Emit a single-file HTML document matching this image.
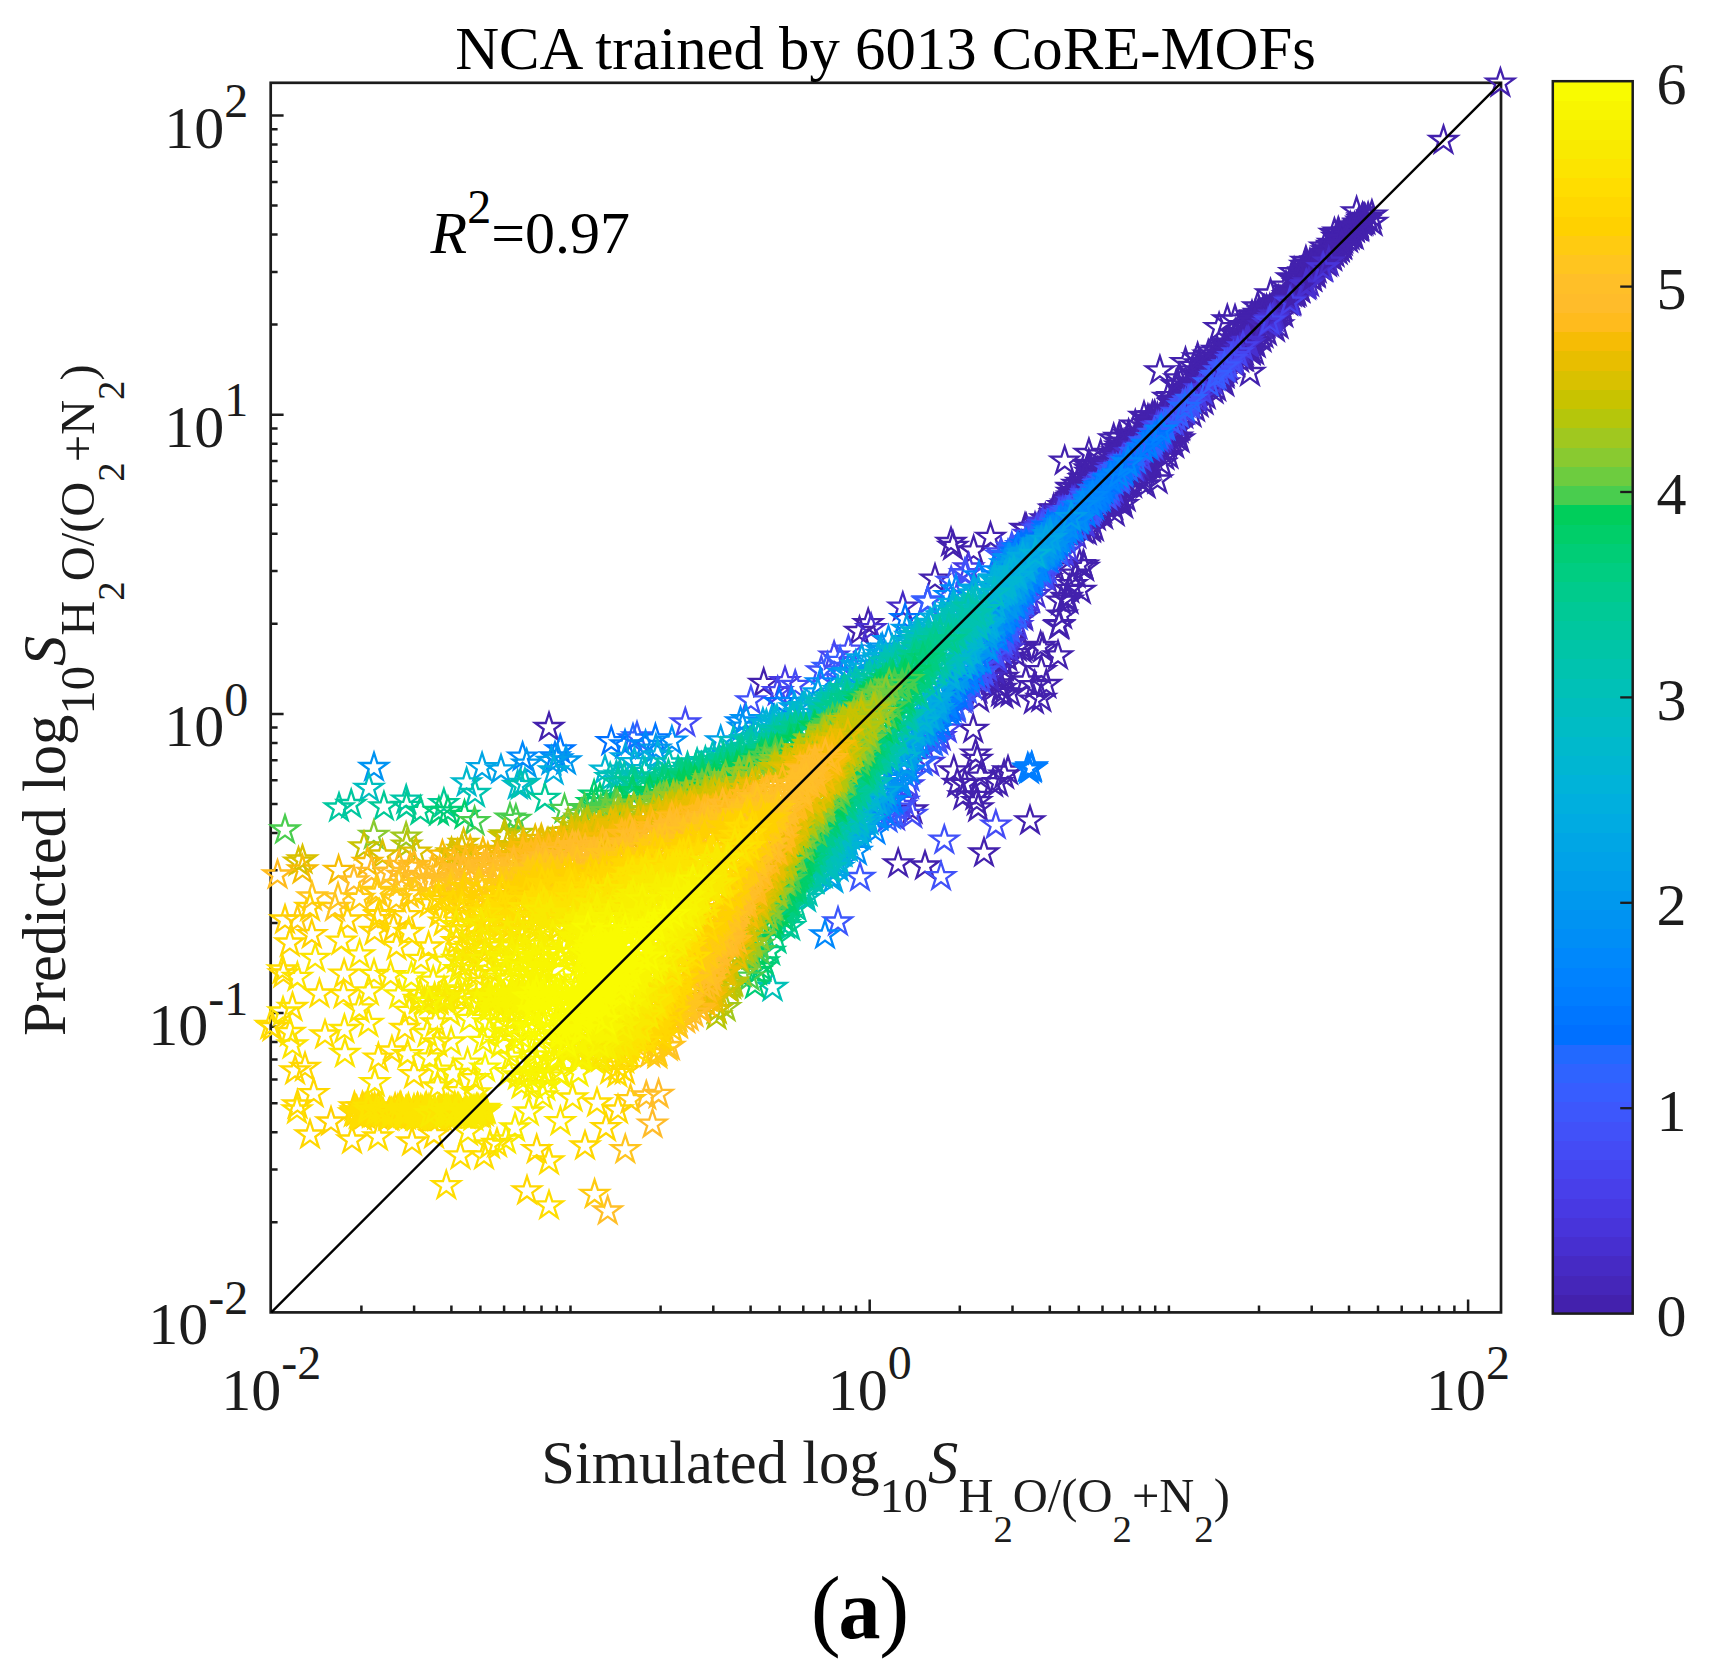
<!DOCTYPE html>
<html lang="en"><head><meta charset="utf-8"><title>NCA trained by 6013 CoRE-MOFs</title>
<style>html,body{margin:0;padding:0;background:#fff}body{width:1710px;height:1679px;overflow:hidden}svg{display:block}text{font-family:'Liberation Serif','Times New Roman',Times,serif;}</style>
</head><body>
<svg width="1710" height="1679" viewBox="0 0 1710 1679">
<rect width="1710" height="1679" fill="#fff"/>
<defs><polygon id="s" points="0.00,-14.60 3.28,-4.51 13.89,-4.51 5.30,1.72 8.58,11.81 0.00,5.58 -8.58,11.81 -5.30,1.72 -13.89,-4.51 -3.28,-4.51"/></defs>
<g shape-rendering="crispEdges">
<rect x="1552.8" y="1294.34" width="79.9" height="19.86" fill="#4321ad"/>
<rect x="1552.8" y="1275.09" width="79.9" height="19.86" fill="#4526b9"/>
<rect x="1552.8" y="1255.83" width="79.9" height="19.86" fill="#462ac4"/>
<rect x="1552.8" y="1236.57" width="79.9" height="19.86" fill="#472fd0"/>
<rect x="1552.8" y="1217.32" width="79.9" height="19.86" fill="#4834da"/>
<rect x="1552.8" y="1198.06" width="79.9" height="19.86" fill="#4839e3"/>
<rect x="1552.8" y="1178.81" width="79.9" height="19.86" fill="#483fea"/>
<rect x="1552.8" y="1159.55" width="79.9" height="19.86" fill="#4645f0"/>
<rect x="1552.8" y="1140.29" width="79.9" height="19.86" fill="#444bf5"/>
<rect x="1552.8" y="1121.04" width="79.9" height="19.86" fill="#4151f9"/>
<rect x="1552.8" y="1101.78" width="79.9" height="19.86" fill="#3d57fc"/>
<rect x="1552.8" y="1082.52" width="79.9" height="19.86" fill="#375dff"/>
<rect x="1552.8" y="1063.27" width="79.9" height="19.86" fill="#2f63ff"/>
<rect x="1552.8" y="1044.01" width="79.9" height="19.86" fill="#2269ff"/>
<rect x="1552.8" y="1024.76" width="79.9" height="19.86" fill="#0070ff"/>
<rect x="1552.8" y="1005.50" width="79.9" height="19.86" fill="#0076ff"/>
<rect x="1552.8" y="986.24" width="79.9" height="19.86" fill="#007dff"/>
<rect x="1552.8" y="966.99" width="79.9" height="19.86" fill="#0082fe"/>
<rect x="1552.8" y="947.73" width="79.9" height="19.86" fill="#0088fb"/>
<rect x="1552.8" y="928.47" width="79.9" height="19.86" fill="#008ef6"/>
<rect x="1552.8" y="909.22" width="79.9" height="19.86" fill="#0093f2"/>
<rect x="1552.8" y="889.96" width="79.9" height="19.86" fill="#0098ee"/>
<rect x="1552.8" y="870.71" width="79.9" height="19.86" fill="#009deb"/>
<rect x="1552.8" y="851.45" width="79.9" height="19.86" fill="#00a2e8"/>
<rect x="1552.8" y="832.19" width="79.9" height="19.86" fill="#00a6e5"/>
<rect x="1552.8" y="812.94" width="79.9" height="19.86" fill="#00abe2"/>
<rect x="1552.8" y="793.68" width="79.9" height="19.86" fill="#00afde"/>
<rect x="1552.8" y="774.42" width="79.9" height="19.86" fill="#00b3d9"/>
<rect x="1552.8" y="755.17" width="79.9" height="19.86" fill="#00b6d2"/>
<rect x="1552.8" y="735.91" width="79.9" height="19.86" fill="#00b9cc"/>
<rect x="1552.8" y="716.66" width="79.9" height="19.86" fill="#00bcc5"/>
<rect x="1552.8" y="697.40" width="79.9" height="19.86" fill="#00bebe"/>
<rect x="1552.8" y="678.14" width="79.9" height="19.86" fill="#00c1b7"/>
<rect x="1552.8" y="658.89" width="79.9" height="19.86" fill="#00c3af"/>
<rect x="1552.8" y="639.63" width="79.9" height="19.86" fill="#00c5a7"/>
<rect x="1552.8" y="620.38" width="79.9" height="19.86" fill="#00c79f"/>
<rect x="1552.8" y="601.12" width="79.9" height="19.86" fill="#00c996"/>
<rect x="1552.8" y="581.86" width="79.9" height="19.86" fill="#00cb8c"/>
<rect x="1552.8" y="562.61" width="79.9" height="19.86" fill="#00cd81"/>
<rect x="1552.8" y="543.35" width="79.9" height="19.86" fill="#00cd76"/>
<rect x="1552.8" y="524.09" width="79.9" height="19.86" fill="#00ce69"/>
<rect x="1552.8" y="504.84" width="79.9" height="19.86" fill="#00ce5b"/>
<rect x="1552.8" y="485.58" width="79.9" height="19.86" fill="#49cd4e"/>
<rect x="1552.8" y="466.33" width="79.9" height="19.86" fill="#6dcc3f"/>
<rect x="1552.8" y="447.07" width="79.9" height="19.86" fill="#89ca30"/>
<rect x="1552.8" y="427.81" width="79.9" height="19.86" fill="#a0c81f"/>
<rect x="1552.8" y="408.56" width="79.9" height="19.86" fill="#b5c60b"/>
<rect x="1552.8" y="389.30" width="79.9" height="19.86" fill="#c8c300"/>
<rect x="1552.8" y="370.04" width="79.9" height="19.86" fill="#d9c100"/>
<rect x="1552.8" y="350.79" width="79.9" height="19.86" fill="#e8be00"/>
<rect x="1552.8" y="331.53" width="79.9" height="19.86" fill="#f6bc05"/>
<rect x="1552.8" y="312.27" width="79.9" height="19.86" fill="#ffbb1d"/>
<rect x="1552.8" y="293.02" width="79.9" height="19.86" fill="#ffbc2a"/>
<rect x="1552.8" y="273.76" width="79.9" height="19.86" fill="#ffbf28"/>
<rect x="1552.8" y="254.51" width="79.9" height="19.86" fill="#ffc51f"/>
<rect x="1552.8" y="235.25" width="79.9" height="19.86" fill="#ffcb11"/>
<rect x="1552.8" y="215.99" width="79.9" height="19.86" fill="#ffd100"/>
<rect x="1552.8" y="196.74" width="79.9" height="19.86" fill="#ffd700"/>
<rect x="1552.8" y="177.48" width="79.9" height="19.86" fill="#ffdd00"/>
<rect x="1552.8" y="158.23" width="79.9" height="19.86" fill="#fce400"/>
<rect x="1552.8" y="138.97" width="79.9" height="19.86" fill="#f9ea00"/>
<rect x="1552.8" y="119.71" width="79.9" height="19.86" fill="#f8f000"/>
<rect x="1552.8" y="100.46" width="79.9" height="19.86" fill="#f8f500"/>
<rect x="1552.8" y="81.20" width="79.9" height="19.86" fill="#f9fb00"/>
</g>
<rect x="1552.8" y="81.2" width="79.9" height="1232.4" fill="none" stroke="#1c1c1c" stroke-width="2.5"/>
<text x="1656.5" y="1335.9" font-size="60" fill="#1c1c1c">0</text>
<line x1="1620.2" y1="1108.2" x2="1632.7" y2="1108.2" stroke="#1c1c1c" stroke-width="2.3"/>
<text x="1656.5" y="1130.5" font-size="60" fill="#1c1c1c">1</text>
<line x1="1620.2" y1="902.8" x2="1632.7" y2="902.8" stroke="#1c1c1c" stroke-width="2.3"/>
<text x="1656.5" y="925.1" font-size="60" fill="#1c1c1c">2</text>
<line x1="1620.2" y1="697.4" x2="1632.7" y2="697.4" stroke="#1c1c1c" stroke-width="2.3"/>
<text x="1656.5" y="719.7" font-size="60" fill="#1c1c1c">3</text>
<line x1="1620.2" y1="492.0" x2="1632.7" y2="492.0" stroke="#1c1c1c" stroke-width="2.3"/>
<text x="1656.5" y="514.3" font-size="60" fill="#1c1c1c">4</text>
<line x1="1620.2" y1="286.6" x2="1632.7" y2="286.6" stroke="#1c1c1c" stroke-width="2.3"/>
<text x="1656.5" y="308.9" font-size="60" fill="#1c1c1c">5</text>
<text x="1656.5" y="103.5" font-size="60" fill="#1c1c1c">6</text>
<rect x="270.7" y="82.8" width="1230.3" height="1229.6" fill="none" stroke="#1c1c1c" stroke-width="2.7"/>
<path d="M270.7 1222.2h6.9M361.4 1312.4v-6.9M270.7 1169.5h6.9M414.1 1312.4v-6.9M270.7 1132.2h6.9M451.4 1312.4v-6.9M270.7 1103.2h6.9M480.4 1312.4v-6.9M270.7 1079.5h6.9M504.1 1312.4v-6.9M270.7 1059.4h6.9M524.2 1312.4v-6.9M270.7 1042.1h6.9M541.5 1312.4v-6.9M270.7 1026.8h6.9M556.8 1312.4v-6.9M270.7 1013.1h12.9M570.5 1312.4v-6.9M270.7 923.0h6.9M660.6 1312.4v-6.9M270.7 870.3h6.9M713.3 1312.4v-6.9M270.7 833.0h6.9M750.6 1312.4v-6.9M270.7 804.0h6.9M779.6 1312.4v-6.9M270.7 780.3h6.9M803.3 1312.4v-6.9M270.7 760.2h6.9M823.4 1312.4v-6.9M270.7 742.9h6.9M840.7 1312.4v-6.9M270.7 727.6h6.9M856.0 1312.4v-6.9M270.7 713.9h12.9M869.7 1312.4v-12.9M270.7 623.8h6.9M959.8 1312.4v-6.9M270.7 571.1h6.9M1012.5 1312.4v-6.9M270.7 533.8h6.9M1049.8 1312.4v-6.9M270.7 504.8h6.9M1078.8 1312.4v-6.9M270.7 481.1h6.9M1102.5 1312.4v-6.9M270.7 461.0h6.9M1122.6 1312.4v-6.9M270.7 443.7h6.9M1139.9 1312.4v-6.9M270.7 428.4h6.9M1155.2 1312.4v-6.9M270.7 414.7h12.9M1168.9 1312.4v-6.9M270.7 324.6h6.9M1259.0 1312.4v-6.9M270.7 271.9h6.9M1311.7 1312.4v-6.9M270.7 234.6h6.9M1349.0 1312.4v-6.9M270.7 205.6h6.9M1378.0 1312.4v-6.9M270.7 181.9h6.9M1401.7 1312.4v-6.9M270.7 161.8h6.9M1421.8 1312.4v-6.9M270.7 144.5h6.9M1439.1 1312.4v-6.9M270.7 129.2h6.9M1454.4 1312.4v-6.9M270.7 115.5h12.9M1468.1 1312.4v-12.9" stroke="#1c1c1c" stroke-width="2.5" fill="none"/>
<g fill="none" stroke-width="2.3" stroke-linejoin="miter"><g stroke="#4321ad"><use href="#s" x="1097.2" y="476.5"/><use href="#s" x="1180.0" y="403.2"/><use href="#s" x="1090.7" y="478.6"/><use href="#s" x="1154.1" y="426.0"/><use href="#s" x="1102.9" y="477.0"/><use href="#s" x="1084.6" y="489.5"/><use href="#s" x="1140.4" y="433.0"/><use href="#s" x="1117.0" y="452.0"/><use href="#s" x="1177.5" y="400.8"/><use href="#s" x="1164.6" y="442.6"/><use href="#s" x="1062.6" y="505.6"/><use href="#s" x="1093.8" y="473.4"/><use href="#s" x="1238.6" y="339.2"/><use href="#s" x="1204.0" y="382.9"/><use href="#s" x="1163.0" y="414.8"/><use href="#s" x="1247.0" y="337.8"/><use href="#s" x="1131.5" y="443.8"/><use href="#s" x="1091.8" y="478.5"/><use href="#s" x="1097.0" y="480.0"/><use href="#s" x="1243.3" y="336.7"/><use href="#s" x="1247.8" y="338.8"/><use href="#s" x="1268.5" y="316.5"/><use href="#s" x="1201.5" y="378.6"/><use href="#s" x="1137.1" y="472.0"/><use href="#s" x="1165.9" y="416.7"/><use href="#s" x="1194.6" y="383.9"/><use href="#s" x="1199.9" y="377.2"/><use href="#s" x="1155.3" y="447.4"/><use href="#s" x="1150.7" y="424.9"/><use href="#s" x="1146.3" y="457.0"/><use href="#s" x="1216.4" y="367.7"/><use href="#s" x="1212.1" y="366.1"/><use href="#s" x="1138.1" y="469.5"/><use href="#s" x="1161.9" y="417.0"/><use href="#s" x="1134.5" y="441.2"/><use href="#s" x="1172.3" y="431.8"/><use href="#s" x="1135.3" y="469.8"/><use href="#s" x="1260.3" y="318.1"/><use href="#s" x="1189.9" y="382.4"/><use href="#s" x="1137.1" y="435.2"/><use href="#s" x="1192.5" y="388.6"/><use href="#s" x="1277.7" y="304.1"/><use href="#s" x="1167.6" y="409.7"/><use href="#s" x="1153.5" y="450.1"/><use href="#s" x="1121.9" y="487.3"/><use href="#s" x="1119.2" y="454.4"/><use href="#s" x="1077.3" y="494.6"/><use href="#s" x="1260.3" y="327.2"/><use href="#s" x="1190.1" y="386.3"/><use href="#s" x="1195.2" y="382.5"/><use href="#s" x="1168.3" y="435.9"/><use href="#s" x="1162.2" y="419.4"/><use href="#s" x="1107.2" y="501.8"/><use href="#s" x="1211.6" y="360.6"/><use href="#s" x="1187.8" y="388.4"/><use href="#s" x="1099.1" y="474.1"/><use href="#s" x="1227.1" y="353.2"/><use href="#s" x="1126.3" y="481.7"/><use href="#s" x="1073.6" y="498.9"/><use href="#s" x="1138.9" y="439.8"/><use href="#s" x="1146.5" y="426.9"/><use href="#s" x="1116.2" y="454.6"/><use href="#s" x="1111.5" y="456.9"/><use href="#s" x="1153.4" y="427.7"/><use href="#s" x="1151.3" y="429.5"/><use href="#s" x="1104.6" y="465.1"/><use href="#s" x="1123.8" y="455.3"/><use href="#s" x="1148.1" y="463.1"/><use href="#s" x="1192.9" y="392.4"/><use href="#s" x="1100.2" y="511.7"/><use href="#s" x="1088.3" y="488.0"/><use href="#s" x="1209.6" y="376.1"/><use href="#s" x="1138.4" y="433.8"/><use href="#s" x="1254.1" y="323.2"/><use href="#s" x="1222.1" y="355.5"/><use href="#s" x="1241.1" y="344.3"/><use href="#s" x="1229.5" y="345.2"/><use href="#s" x="1165.5" y="436.1"/><use href="#s" x="1072.5" y="498.7"/><use href="#s" x="1211.7" y="359.8"/><use href="#s" x="1135.3" y="446.5"/><use href="#s" x="1208.9" y="371.3"/><use href="#s" x="1279.1" y="304.8"/><use href="#s" x="1137.3" y="469.7"/><use href="#s" x="1136.0" y="467.2"/><use href="#s" x="1097.3" y="472.6"/><use href="#s" x="1108.6" y="468.5"/><use href="#s" x="1094.1" y="480.9"/><use href="#s" x="1109.0" y="498.5"/><use href="#s" x="1278.5" y="304.0"/><use href="#s" x="1112.5" y="461.4"/><use href="#s" x="1157.5" y="444.8"/><use href="#s" x="1100.1" y="510.7"/><use href="#s" x="1242.7" y="343.8"/><use href="#s" x="1160.4" y="445.9"/><use href="#s" x="1110.6" y="463.0"/><use href="#s" x="1165.0" y="416.4"/><use href="#s" x="1235.4" y="346.3"/><use href="#s" x="1144.4" y="466.0"/><use href="#s" x="1198.7" y="387.7"/><use href="#s" x="1176.1" y="408.2"/><use href="#s" x="1113.2" y="465.3"/><use href="#s" x="1211.6" y="369.1"/><use href="#s" x="1105.5" y="466.2"/><use href="#s" x="1144.3" y="463.0"/><use href="#s" x="1074.5" y="495.8"/><use href="#s" x="1223.7" y="357.7"/><use href="#s" x="1269.8" y="309.2"/><use href="#s" x="1109.3" y="500.1"/><use href="#s" x="1114.7" y="498.9"/><use href="#s" x="1221.0" y="359.2"/><use href="#s" x="1247.2" y="335.1"/><use href="#s" x="1149.2" y="457.4"/><use href="#s" x="1173.2" y="431.6"/><use href="#s" x="1178.9" y="402.6"/><use href="#s" x="1178.7" y="399.8"/><use href="#s" x="1117.0" y="463.5"/><use href="#s" x="1252.9" y="331.5"/><use href="#s" x="1072.4" y="496.1"/><use href="#s" x="1272.8" y="307.6"/><use href="#s" x="1251.9" y="330.7"/><use href="#s" x="1201.0" y="377.6"/><use href="#s" x="1165.7" y="441.3"/><use href="#s" x="1185.6" y="397.5"/><use href="#s" x="1168.9" y="410.5"/><use href="#s" x="1155.6" y="420.6"/><use href="#s" x="1152.0" y="454.2"/><use href="#s" x="1185.5" y="399.3"/><use href="#s" x="1212.6" y="374.5"/><use href="#s" x="1069.1" y="500.4"/><use href="#s" x="1123.2" y="446.5"/><use href="#s" x="1121.8" y="487.2"/><use href="#s" x="1230.0" y="343.6"/><use href="#s" x="1118.8" y="449.2"/><use href="#s" x="1143.6" y="462.5"/><use href="#s" x="1161.2" y="416.1"/><use href="#s" x="1211.3" y="365.1"/><use href="#s" x="1225.4" y="355.6"/><use href="#s" x="1237.3" y="347.4"/><use href="#s" x="1230.0" y="350.6"/><use href="#s" x="1125.6" y="450.8"/><use href="#s" x="1174.8" y="400.7"/><use href="#s" x="1271.5" y="312.0"/><use href="#s" x="1213.3" y="370.1"/><use href="#s" x="1252.7" y="330.7"/><use href="#s" x="1191.8" y="387.8"/><use href="#s" x="1197.9" y="383.1"/><use href="#s" x="1133.2" y="442.1"/><use href="#s" x="1172.1" y="429.0"/><use href="#s" x="1175.0" y="430.7"/><use href="#s" x="1139.0" y="473.9"/><use href="#s" x="1151.4" y="453.4"/><use href="#s" x="1246.3" y="333.4"/><use href="#s" x="1078.7" y="489.0"/><use href="#s" x="1114.7" y="455.0"/><use href="#s" x="1197.8" y="384.3"/><use href="#s" x="1173.1" y="411.2"/><use href="#s" x="1227.4" y="353.7"/><use href="#s" x="1122.6" y="457.9"/><use href="#s" x="1140.4" y="436.1"/><use href="#s" x="1105.7" y="471.3"/><use href="#s" x="1262.8" y="321.4"/><use href="#s" x="1100.6" y="511.6"/><use href="#s" x="1110.1" y="467.1"/><use href="#s" x="1202.8" y="378.2"/><use href="#s" x="1202.7" y="383.5"/><use href="#s" x="1140.9" y="463.4"/><use href="#s" x="1229.5" y="357.1"/><use href="#s" x="1157.4" y="418.1"/><use href="#s" x="1240.3" y="341.4"/><use href="#s" x="1193.7" y="387.5"/><use href="#s" x="1119.9" y="448.6"/><use href="#s" x="1107.1" y="466.5"/><use href="#s" x="1109.8" y="461.2"/><use href="#s" x="1172.9" y="403.7"/><use href="#s" x="1265.0" y="322.6"/><use href="#s" x="1218.5" y="369.1"/><use href="#s" x="1166.2" y="438.6"/><use href="#s" x="1130.1" y="476.2"/><use href="#s" x="1190.7" y="385.9"/><use href="#s" x="1117.2" y="492.2"/><use href="#s" x="1216.2" y="357.1"/><use href="#s" x="1218.1" y="360.3"/><use href="#s" x="1162.8" y="410.9"/><use href="#s" x="1232.6" y="343.2"/><use href="#s" x="1078.2" y="491.7"/><use href="#s" x="1150.6" y="430.6"/><use href="#s" x="1169.3" y="436.5"/><use href="#s" x="1232.3" y="354.1"/><use href="#s" x="1101.7" y="472.0"/><use href="#s" x="1202.2" y="378.6"/><use href="#s" x="1131.6" y="477.5"/><use href="#s" x="1162.7" y="442.3"/><use href="#s" x="1143.3" y="462.0"/><use href="#s" x="1084.6" y="483.8"/><use href="#s" x="1143.2" y="463.5"/><use href="#s" x="1113.1" y="499.5"/><use href="#s" x="1227.7" y="356.3"/><use href="#s" x="1077.3" y="493.8"/><use href="#s" x="1146.7" y="464.9"/><use href="#s" x="1109.0" y="468.9"/><use href="#s" x="1095.2" y="473.9"/><use href="#s" x="1244.1" y="333.4"/><use href="#s" x="1105.6" y="505.7"/><use href="#s" x="1084.3" y="485.7"/><use href="#s" x="1155.1" y="448.6"/><use href="#s" x="1134.9" y="474.9"/><use href="#s" x="1226.4" y="347.2"/><use href="#s" x="1122.4" y="458.2"/><use href="#s" x="1214.0" y="369.2"/><use href="#s" x="1218.3" y="362.4"/><use href="#s" x="1066.0" y="504.2"/><use href="#s" x="1271.9" y="313.1"/><use href="#s" x="1139.9" y="437.8"/><use href="#s" x="1138.4" y="468.5"/><use href="#s" x="1279.0" y="301.3"/><use href="#s" x="1248.2" y="336.5"/><use href="#s" x="1116.6" y="489.5"/><use href="#s" x="1266.7" y="315.0"/><use href="#s" x="1136.9" y="469.3"/><use href="#s" x="1176.8" y="405.9"/><use href="#s" x="1252.3" y="334.9"/><use href="#s" x="1183.8" y="402.1"/><use href="#s" x="1175.3" y="401.8"/><use href="#s" x="1207.5" y="366.6"/><use href="#s" x="1102.1" y="509.3"/><use href="#s" x="1266.0" y="321.4"/><use href="#s" x="1125.3" y="446.4"/><use href="#s" x="1116.5" y="453.8"/><use href="#s" x="1229.9" y="353.0"/><use href="#s" x="1143.5" y="459.5"/><use href="#s" x="1083.0" y="490.7"/><use href="#s" x="1195.6" y="374.8"/><use href="#s" x="1173.0" y="402.3"/><use href="#s" x="1071.3" y="497.7"/><use href="#s" x="1212.6" y="363.5"/><use href="#s" x="1118.9" y="457.2"/><use href="#s" x="1182.9" y="390.6"/><use href="#s" x="1179.9" y="426.7"/><use href="#s" x="1283.3" y="313.8"/><use href="#s" x="1261.5" y="338.4"/><use href="#s" x="1362.6" y="217.9"/><use href="#s" x="1264.2" y="311.6"/><use href="#s" x="1053.8" y="509.1"/><use href="#s" x="1250.4" y="351.4"/><use href="#s" x="1198.8" y="363.8"/><use href="#s" x="1245.5" y="327.7"/><use href="#s" x="1154.7" y="415.8"/><use href="#s" x="1252.0" y="315.7"/><use href="#s" x="1132.0" y="484.1"/><use href="#s" x="1255.7" y="319.8"/><use href="#s" x="1095.8" y="516.8"/><use href="#s" x="1324.7" y="247.2"/><use href="#s" x="1194.1" y="366.4"/><use href="#s" x="1167.8" y="397.4"/><use href="#s" x="1263.4" y="334.3"/><use href="#s" x="1172.4" y="396.7"/><use href="#s" x="1149.9" y="464.6"/><use href="#s" x="1227.5" y="369.8"/><use href="#s" x="1138.1" y="478.3"/><use href="#s" x="1338.3" y="232.2"/><use href="#s" x="1192.5" y="370.8"/><use href="#s" x="1255.7" y="343.9"/><use href="#s" x="1113.3" y="505.9"/><use href="#s" x="1205.7" y="395.5"/><use href="#s" x="1338.9" y="234.2"/><use href="#s" x="1244.1" y="358.0"/><use href="#s" x="1250.4" y="348.2"/><use href="#s" x="1088.9" y="465.7"/><use href="#s" x="1255.3" y="314.9"/><use href="#s" x="1119.9" y="437.9"/><use href="#s" x="1100.7" y="454.9"/><use href="#s" x="1143.8" y="480.9"/><use href="#s" x="1211.8" y="351.9"/><use href="#s" x="1224.5" y="374.5"/><use href="#s" x="1191.5" y="413.5"/><use href="#s" x="1221.0" y="378.6"/><use href="#s" x="1291.4" y="277.8"/><use href="#s" x="1147.9" y="419.5"/><use href="#s" x="1089.9" y="472.5"/><use href="#s" x="1335.5" y="246.8"/><use href="#s" x="1120.0" y="446.1"/><use href="#s" x="1309.4" y="268.8"/><use href="#s" x="1120.9" y="442.5"/><use href="#s" x="1119.2" y="437.3"/><use href="#s" x="1337.0" y="237.5"/><use href="#s" x="1056.0" y="508.8"/><use href="#s" x="1358.4" y="223.8"/><use href="#s" x="1246.8" y="325.9"/><use href="#s" x="1305.1" y="265.4"/><use href="#s" x="1203.5" y="400.9"/><use href="#s" x="1071.6" y="492.5"/><use href="#s" x="1309.9" y="263.9"/><use href="#s" x="1144.0" y="416.5"/><use href="#s" x="1144.4" y="470.4"/><use href="#s" x="1311.1" y="272.7"/><use href="#s" x="1331.9" y="245.4"/><use href="#s" x="1253.7" y="342.4"/><use href="#s" x="1243.9" y="351.4"/><use href="#s" x="1221.0" y="378.5"/><use href="#s" x="1286.0" y="286.2"/><use href="#s" x="1128.9" y="437.2"/><use href="#s" x="1255.0" y="319.0"/><use href="#s" x="1120.7" y="495.9"/><use href="#s" x="1071.6" y="487.4"/><use href="#s" x="1250.5" y="350.9"/><use href="#s" x="1128.6" y="434.6"/><use href="#s" x="1083.6" y="478.7"/><use href="#s" x="1045.3" y="518.8"/><use href="#s" x="1225.0" y="344.3"/><use href="#s" x="1371.9" y="215.2"/><use href="#s" x="1120.9" y="501.0"/><use href="#s" x="1216.9" y="350.5"/><use href="#s" x="1223.8" y="374.0"/><use href="#s" x="1340.6" y="238.4"/><use href="#s" x="1271.5" y="323.1"/><use href="#s" x="1176.2" y="384.8"/><use href="#s" x="1148.2" y="423.6"/><use href="#s" x="1178.6" y="429.1"/><use href="#s" x="1243.7" y="325.7"/><use href="#s" x="1091.2" y="470.5"/><use href="#s" x="1086.7" y="531.3"/><use href="#s" x="1146.4" y="469.6"/><use href="#s" x="1216.1" y="387.4"/><use href="#s" x="1083.1" y="530.0"/><use href="#s" x="1177.8" y="385.2"/><use href="#s" x="1301.4" y="272.6"/><use href="#s" x="1350.3" y="227.4"/><use href="#s" x="1198.6" y="403.4"/><use href="#s" x="1179.5" y="439.0"/><use href="#s" x="1090.9" y="527.6"/><use href="#s" x="1093.9" y="527.4"/><use href="#s" x="1235.2" y="363.0"/><use href="#s" x="1125.6" y="497.6"/><use href="#s" x="1257.7" y="307.0"/><use href="#s" x="1114.7" y="512.5"/><use href="#s" x="1266.8" y="331.7"/><use href="#s" x="1152.5" y="416.0"/><use href="#s" x="1197.6" y="357.8"/><use href="#s" x="1123.2" y="504.6"/><use href="#s" x="1149.9" y="420.7"/><use href="#s" x="1090.8" y="528.6"/><use href="#s" x="1177.2" y="437.2"/><use href="#s" x="1274.9" y="328.1"/><use href="#s" x="1195.0" y="408.0"/><use href="#s" x="1148.0" y="423.3"/><use href="#s" x="1025.0" y="528.3"/><use href="#s" x="1286.2" y="299.4"/><use href="#s" x="991.6" y="686.2"/><use href="#s" x="1254.1" y="351.3"/><use href="#s" x="1103.1" y="515.5"/><use href="#s" x="1089.2" y="468.9"/><use href="#s" x="1167.1" y="444.4"/><use href="#s" x="1080.9" y="482.5"/><use href="#s" x="1239.1" y="358.7"/><use href="#s" x="1026.2" y="529.0"/><use href="#s" x="1356.6" y="211.9"/><use href="#s" x="1258.6" y="313.3"/><use href="#s" x="1213.5" y="390.0"/><use href="#s" x="1343.1" y="239.3"/><use href="#s" x="1242.3" y="357.2"/><use href="#s" x="1149.8" y="421.5"/><use href="#s" x="1168.4" y="455.0"/><use href="#s" x="1088.8" y="464.3"/><use href="#s" x="1291.0" y="301.7"/><use href="#s" x="1208.3" y="355.2"/><use href="#s" x="1224.6" y="372.1"/><use href="#s" x="1077.0" y="484.4"/><use href="#s" x="1113.7" y="438.9"/><use href="#s" x="1342.0" y="244.8"/><use href="#s" x="1224.3" y="382.8"/><use href="#s" x="1039.9" y="523.4"/><use href="#s" x="1164.4" y="456.3"/><use href="#s" x="1295.5" y="279.0"/><use href="#s" x="1278.5" y="325.0"/><use href="#s" x="1235.3" y="334.3"/><use href="#s" x="1250.4" y="349.0"/><use href="#s" x="1312.1" y="277.7"/><use href="#s" x="1145.7" y="484.8"/><use href="#s" x="1365.3" y="220.6"/><use href="#s" x="1294.1" y="272.7"/><use href="#s" x="1120.9" y="442.4"/><use href="#s" x="1007.3" y="657.5"/><use href="#s" x="1270.5" y="294.0"/><use href="#s" x="979.0" y="698.4"/><use href="#s" x="1054.6" y="567.9"/><use href="#s" x="1251.5" y="324.6"/><use href="#s" x="1372.6" y="222.3"/><use href="#s" x="1151.4" y="464.4"/><use href="#s" x="1179.0" y="378.8"/><use href="#s" x="1174.2" y="444.4"/><use href="#s" x="1250.8" y="319.0"/><use href="#s" x="1135.3" y="425.1"/><use href="#s" x="1334.4" y="233.3"/><use href="#s" x="1319.7" y="263.5"/><use href="#s" x="1353.7" y="235.6"/><use href="#s" x="1121.4" y="498.6"/><use href="#s" x="1293.5" y="278.9"/><use href="#s" x="1071.5" y="488.1"/><use href="#s" x="1332.8" y="243.3"/><use href="#s" x="994.3" y="675.3"/><use href="#s" x="1046.9" y="578.6"/><use href="#s" x="1085.1" y="478.0"/><use href="#s" x="1305.9" y="261.3"/><use href="#s" x="1161.6" y="463.4"/><use href="#s" x="1313.1" y="268.9"/><use href="#s" x="1320.8" y="260.2"/><use href="#s" x="1256.4" y="318.4"/><use href="#s" x="1276.8" y="311.6"/><use href="#s" x="1282.2" y="306.7"/><use href="#s" x="1275.4" y="303.0"/><use href="#s" x="1300.1" y="289.1"/><use href="#s" x="1313.9" y="261.6"/><use href="#s" x="1315.6" y="260.8"/><use href="#s" x="1363.2" y="219.9"/><use href="#s" x="1361.8" y="222.2"/><use href="#s" x="1361.4" y="221.1"/><use href="#s" x="1328.8" y="250.6"/><use href="#s" x="1348.0" y="238.7"/><use href="#s" x="1301.5" y="281.2"/><use href="#s" x="1341.6" y="237.8"/><use href="#s" x="1343.6" y="237.0"/><use href="#s" x="1363.8" y="219.6"/><use href="#s" x="1275.5" y="313.4"/><use href="#s" x="1294.3" y="293.5"/><use href="#s" x="1312.0" y="277.7"/><use href="#s" x="1295.5" y="279.4"/><use href="#s" x="1288.2" y="298.1"/><use href="#s" x="1313.8" y="267.7"/><use href="#s" x="1305.1" y="282.9"/><use href="#s" x="1258.2" y="317.2"/><use href="#s" x="1286.5" y="299.9"/><use href="#s" x="1263.1" y="311.8"/><use href="#s" x="1296.6" y="292.5"/><use href="#s" x="1320.4" y="256.7"/><use href="#s" x="1364.7" y="218.7"/><use href="#s" x="1275.5" y="303.9"/><use href="#s" x="1289.4" y="299.0"/><use href="#s" x="1314.0" y="268.1"/><use href="#s" x="1358.4" y="225.3"/><use href="#s" x="1332.2" y="246.6"/><use href="#s" x="1332.1" y="257.2"/><use href="#s" x="1320.7" y="266.8"/><use href="#s" x="1351.7" y="231.1"/><use href="#s" x="1326.6" y="253.4"/><use href="#s" x="1356.7" y="226.8"/><use href="#s" x="1315.6" y="272.8"/><use href="#s" x="1303.6" y="272.0"/><use href="#s" x="1303.1" y="278.1"/><use href="#s" x="1334.4" y="253.2"/><use href="#s" x="1351.6" y="230.2"/><use href="#s" x="1363.3" y="219.6"/><use href="#s" x="1266.5" y="309.7"/><use href="#s" x="1363.2" y="221.8"/><use href="#s" x="1331.1" y="250.2"/><use href="#s" x="1297.4" y="279.2"/><use href="#s" x="1368.1" y="217.5"/><use href="#s" x="1299.2" y="282.3"/><use href="#s" x="1280.8" y="302.2"/><use href="#s" x="1303.5" y="282.7"/><use href="#s" x="1283.0" y="300.1"/><use href="#s" x="1341.4" y="239.1"/><use href="#s" x="1269.9" y="316.7"/><use href="#s" x="1354.6" y="227.9"/><use href="#s" x="1262.2" y="317.1"/><use href="#s" x="1278.2" y="300.5"/><use href="#s" x="1297.6" y="283.5"/><use href="#s" x="1275.1" y="308.7"/><use href="#s" x="1287.8" y="295.7"/><use href="#s" x="1315.6" y="274.1"/><use href="#s" x="1326.9" y="262.9"/><use href="#s" x="1329.6" y="249.9"/><use href="#s" x="1263.3" y="325.2"/><use href="#s" x="1263.0" y="315.8"/><use href="#s" x="1316.6" y="269.2"/><use href="#s" x="1256.4" y="320.4"/><use href="#s" x="1362.3" y="219.3"/><use href="#s" x="1256.8" y="318.9"/><use href="#s" x="1256.0" y="323.4"/><use href="#s" x="1307.2" y="269.0"/><use href="#s" x="1358.6" y="223.2"/><use href="#s" x="1273.6" y="304.4"/><use href="#s" x="1339.5" y="247.7"/><use href="#s" x="1358.9" y="227.6"/><use href="#s" x="1278.4" y="306.7"/><use href="#s" x="1333.6" y="250.9"/><use href="#s" x="1326.5" y="250.9"/><use href="#s" x="1295.0" y="290.6"/><use href="#s" x="1339.5" y="248.3"/><use href="#s" x="1359.2" y="226.3"/><use href="#s" x="1272.3" y="314.0"/><use href="#s" x="1349.4" y="231.8"/><use href="#s" x="1342.7" y="241.7"/><use href="#s" x="1264.1" y="310.6"/><use href="#s" x="1254.3" y="325.0"/><use href="#s" x="1351.6" y="234.7"/><use href="#s" x="1348.9" y="234.9"/><use href="#s" x="1351.3" y="232.1"/><use href="#s" x="1354.6" y="228.6"/><use href="#s" x="1286.2" y="298.9"/><use href="#s" x="1291.5" y="292.9"/><use href="#s" x="1300.2" y="288.6"/><use href="#s" x="1254.9" y="322.7"/><use href="#s" x="1326.1" y="258.0"/><use href="#s" x="1329.4" y="254.1"/><use href="#s" x="1328.3" y="254.5"/><use href="#s" x="1348.1" y="234.2"/><use href="#s" x="1349.4" y="235.9"/><use href="#s" x="1311.4" y="265.9"/><use href="#s" x="1299.2" y="288.2"/><use href="#s" x="1305.9" y="281.8"/><use href="#s" x="1288.1" y="290.1"/><use href="#s" x="1357.2" y="226.6"/><use href="#s" x="1295.0" y="293.4"/><use href="#s" x="1287.9" y="302.0"/><use href="#s" x="1340.3" y="239.6"/><use href="#s" x="1337.6" y="250.7"/><use href="#s" x="1300.6" y="277.1"/><use href="#s" x="1265.5" y="324.2"/><use href="#s" x="1331.7" y="255.6"/><use href="#s" x="1341.7" y="244.7"/><use href="#s" x="1341.8" y="245.8"/><use href="#s" x="859.5" y="631.5"/><use href="#s" x="990.5" y="537.4"/><use href="#s" x="763.7" y="683.4"/><use href="#s" x="973.6" y="550.8"/><use href="#s" x="1185.5" y="362.6"/><use href="#s" x="868.2" y="623.6"/><use href="#s" x="1227.3" y="319.8"/><use href="#s" x="1064.7" y="461.1"/><use href="#s" x="1159.9" y="370.8"/><use href="#s" x="1219.1" y="327.7"/><use href="#s" x="935.0" y="579.1"/><use href="#s" x="1088.9" y="453.5"/><use href="#s" x="549.0" y="727.5"/><use href="#s" x="1443.5" y="140.5"/><use href="#s" x="1500.4" y="83.2"/><use href="#s" x="1235.0" y="320.0"/><use href="#s" x="1250.0" y="372.5"/><use href="#s" x="1157.5" y="480.0"/><use href="#s" x="951.0" y="542.5"/><use href="#s" x="953.0" y="546.4"/><use href="#s" x="1030.0" y="820.9"/><use href="#s" x="984.0" y="853.0"/><use href="#s" x="898.2" y="863.8"/><use href="#s" x="925.0" y="866.0"/><use href="#s" x="912.5" y="810.0"/><use href="#s" x="1058.0" y="655.8"/><use href="#s" x="1079.7" y="564.7"/><use href="#s" x="1069.2" y="589.3"/><use href="#s" x="1080.8" y="590.3"/><use href="#s" x="1062.1" y="615.2"/><use href="#s" x="1066.9" y="598.0"/><use href="#s" x="1068.5" y="600.2"/><use href="#s" x="1072.4" y="584.7"/><use href="#s" x="1061.2" y="601.1"/><use href="#s" x="1066.5" y="597.4"/><use href="#s" x="1084.1" y="567.4"/><use href="#s" x="1058.9" y="625.6"/><use href="#s" x="1083.4" y="565.1"/><use href="#s" x="1059.5" y="624.7"/><use href="#s" x="1075.5" y="574.1"/><use href="#s" x="1021.7" y="649.1"/><use href="#s" x="1003.2" y="663.4"/><use href="#s" x="1003.4" y="677.4"/><use href="#s" x="1022.7" y="646.9"/><use href="#s" x="1041.3" y="670.6"/><use href="#s" x="1033.9" y="700.1"/><use href="#s" x="1041.3" y="698.3"/><use href="#s" x="1010.5" y="693.3"/><use href="#s" x="1034.7" y="685.7"/><use href="#s" x="1001.7" y="688.3"/><use href="#s" x="1003.4" y="694.8"/><use href="#s" x="1025.8" y="681.0"/><use href="#s" x="1003.7" y="667.2"/><use href="#s" x="1046.3" y="684.5"/><use href="#s" x="1040.6" y="646.5"/><use href="#s" x="998.5" y="684.0"/><use href="#s" x="1042.9" y="648.8"/><use href="#s" x="1016.8" y="647.8"/><use href="#s" x="1001.0" y="692.8"/><use href="#s" x="1015.5" y="653.6"/><use href="#s" x="976.8" y="801.6"/><use href="#s" x="998.1" y="782.7"/><use href="#s" x="953.8" y="770.8"/><use href="#s" x="964.8" y="784.3"/><use href="#s" x="1008.0" y="771.0"/><use href="#s" x="993.1" y="783.2"/><use href="#s" x="973.2" y="729.3"/><use href="#s" x="957.2" y="783.3"/><use href="#s" x="977.2" y="759.4"/><use href="#s" x="963.3" y="796.0"/><use href="#s" x="1004.1" y="775.1"/><use href="#s" x="975.6" y="754.2"/><use href="#s" x="980.7" y="777.1"/><use href="#s" x="975.4" y="796.3"/><use href="#s" x="978.2" y="807.9"/></g><g stroke="#4526b9"><use href="#s" x="1058.3" y="510.1"/><use href="#s" x="1122.6" y="457.7"/><use href="#s" x="1165.3" y="419.4"/><use href="#s" x="1054.9" y="513.6"/><use href="#s" x="1115.4" y="465.3"/><use href="#s" x="1183.2" y="414.6"/><use href="#s" x="1138.9" y="464.8"/><use href="#s" x="1205.4" y="382.5"/><use href="#s" x="1136.8" y="446.1"/><use href="#s" x="1091.2" y="520.5"/><use href="#s" x="1035.0" y="527.5"/><use href="#s" x="994.6" y="670.5"/><use href="#s" x="977.4" y="689.4"/><use href="#s" x="1263.7" y="326.0"/></g><g stroke="#462ac4"><use href="#s" x="1112.2" y="467.6"/><use href="#s" x="1240.0" y="349.4"/><use href="#s" x="1158.8" y="426.0"/><use href="#s" x="1183.8" y="403.4"/><use href="#s" x="1161.3" y="439.6"/><use href="#s" x="1135.3" y="467.2"/><use href="#s" x="1123.8" y="457.8"/><use href="#s" x="1059.1" y="510.9"/><use href="#s" x="1076.3" y="534.6"/><use href="#s" x="1291.2" y="300.4"/><use href="#s" x="1023.2" y="617.3"/><use href="#s" x="989.8" y="677.4"/><use href="#s" x="1309.0" y="282.8"/><use href="#s" x="1322.4" y="268.0"/><use href="#s" x="1328.8" y="262.1"/><use href="#s" x="1274.7" y="315.1"/><use href="#s" x="902.8" y="607.2"/></g><g stroke="#472fd0"><use href="#s" x="1074.9" y="500.8"/><use href="#s" x="1129.8" y="452.9"/><use href="#s" x="1246.3" y="342.5"/><use href="#s" x="1238.5" y="353.5"/><use href="#s" x="1232.9" y="361.9"/><use href="#s" x="1163.3" y="433.5"/><use href="#s" x="1154.1" y="447.3"/><use href="#s" x="1249.3" y="343.8"/><use href="#s" x="1022.8" y="614.7"/><use href="#s" x="1248.1" y="341.5"/><use href="#s" x="1045.8" y="575.5"/><use href="#s" x="1035.5" y="594.3"/><use href="#s" x="1010.2" y="643.7"/><use href="#s" x="1273.7" y="318.0"/><use href="#s" x="1305.8" y="285.9"/><use href="#s" x="1306.8" y="284.9"/><use href="#s" x="871.1" y="628.6"/></g><g stroke="#4834da"><use href="#s" x="1072.0" y="501.6"/><use href="#s" x="1040.3" y="526.2"/><use href="#s" x="1233.9" y="359.4"/><use href="#s" x="1161.2" y="437.1"/><use href="#s" x="1163.1" y="435.6"/><use href="#s" x="1113.1" y="467.6"/><use href="#s" x="1156.8" y="426.6"/><use href="#s" x="1124.3" y="459.7"/><use href="#s" x="1099.2" y="481.8"/><use href="#s" x="1030.0" y="598.3"/><use href="#s" x="1008.9" y="648.5"/><use href="#s" x="1042.7" y="522.1"/><use href="#s" x="1197.0" y="398.8"/><use href="#s" x="1272.5" y="319.8"/><use href="#s" x="1270.6" y="319.8"/><use href="#s" x="1268.0" y="323.4"/><use href="#s" x="1323.3" y="268.0"/></g><g stroke="#4839e3"><use href="#s" x="1084.6" y="522.1"/><use href="#s" x="1197.6" y="395.0"/><use href="#s" x="1084.3" y="523.2"/><use href="#s" x="1199.8" y="388.9"/><use href="#s" x="1113.5" y="489.2"/><use href="#s" x="1123.9" y="459.6"/><use href="#s" x="1062.9" y="511.0"/><use href="#s" x="1190.0" y="403.0"/><use href="#s" x="1003.1" y="645.7"/><use href="#s" x="1212.8" y="381.3"/><use href="#s" x="1017.5" y="625.6"/><use href="#s" x="1029.7" y="599.1"/><use href="#s" x="1028.3" y="534.4"/><use href="#s" x="940.7" y="736.6"/><use href="#s" x="997.2" y="659.0"/><use href="#s" x="929.3" y="762.5"/><use href="#s" x="1068.1" y="548.8"/><use href="#s" x="968.6" y="568.0"/><use href="#s" x="785.0" y="681.7"/></g><g stroke="#483fea"><use href="#s" x="1104.9" y="477.5"/><use href="#s" x="1107.7" y="496.6"/><use href="#s" x="1103.0" y="480.8"/><use href="#s" x="1243.0" y="346.9"/><use href="#s" x="1073.8" y="502.7"/><use href="#s" x="1141.3" y="457.7"/><use href="#s" x="1111.0" y="491.8"/><use href="#s" x="1174.2" y="422.3"/><use href="#s" x="1133.6" y="467.1"/><use href="#s" x="1226.0" y="366.9"/><use href="#s" x="1202.5" y="390.8"/><use href="#s" x="1185.0" y="410.8"/><use href="#s" x="1039.8" y="527.0"/><use href="#s" x="1153.5" y="433.9"/><use href="#s" x="1060.8" y="554.1"/><use href="#s" x="1064.0" y="552.1"/><use href="#s" x="1001.8" y="650.9"/><use href="#s" x="1290.0" y="302.1"/><use href="#s" x="895.0" y="816.6"/></g><g stroke="#4645f0"><use href="#s" x="987.0" y="667.1"/><use href="#s" x="1122.4" y="461.1"/><use href="#s" x="980.9" y="679.9"/><use href="#s" x="1158.4" y="438.6"/><use href="#s" x="1037.1" y="528.9"/><use href="#s" x="963.2" y="698.2"/><use href="#s" x="1231.8" y="359.7"/><use href="#s" x="1158.5" y="427.5"/><use href="#s" x="1233.3" y="356.6"/><use href="#s" x="1110.2" y="493.4"/><use href="#s" x="1176.6" y="412.3"/><use href="#s" x="1237.7" y="352.9"/><use href="#s" x="1042.6" y="524.5"/><use href="#s" x="1225.3" y="367.7"/><use href="#s" x="1022.8" y="603.8"/><use href="#s" x="1001.0" y="552.9"/><use href="#s" x="1008.3" y="632.1"/><use href="#s" x="1044.4" y="576.3"/><use href="#s" x="908.9" y="784.9"/><use href="#s" x="946.7" y="729.0"/><use href="#s" x="901.6" y="805.5"/><use href="#s" x="1269.7" y="321.1"/><use href="#s" x="777.7" y="691.7"/><use href="#s" x="834.1" y="656.2"/></g><g stroke="#444bf5"><use href="#s" x="1149.8" y="447.5"/><use href="#s" x="1065.5" y="511.9"/><use href="#s" x="1099.4" y="483.9"/><use href="#s" x="982.9" y="672.0"/><use href="#s" x="1190.1" y="405.2"/><use href="#s" x="955.8" y="709.0"/><use href="#s" x="962.0" y="699.8"/><use href="#s" x="1001.9" y="643.5"/><use href="#s" x="1231.3" y="359.3"/><use href="#s" x="1227.7" y="364.8"/><use href="#s" x="1161.2" y="425.9"/><use href="#s" x="1062.4" y="513.5"/><use href="#s" x="1224.5" y="368.5"/><use href="#s" x="1144.5" y="441.9"/><use href="#s" x="1028.9" y="585.6"/><use href="#s" x="1104.3" y="480.0"/><use href="#s" x="1091.3" y="510.3"/><use href="#s" x="1152.7" y="445.2"/><use href="#s" x="1111.0" y="470.9"/><use href="#s" x="1086.4" y="493.8"/><use href="#s" x="1047.0" y="570.5"/><use href="#s" x="1041.0" y="575.5"/><use href="#s" x="1006.0" y="638.0"/><use href="#s" x="903.8" y="801.4"/><use href="#s" x="848.4" y="650.2"/><use href="#s" x="965.9" y="573.7"/><use href="#s" x="685.3" y="723.0"/><use href="#s" x="795.2" y="685.3"/><use href="#s" x="995.8" y="825.2"/><use href="#s" x="912.2" y="814.4"/></g><g stroke="#4151f9"><use href="#s" x="1043.6" y="528.2"/><use href="#s" x="1042.0" y="528.8"/><use href="#s" x="1188.3" y="401.2"/><use href="#s" x="971.6" y="685.0"/><use href="#s" x="983.7" y="671.1"/><use href="#s" x="994.9" y="654.3"/><use href="#s" x="1120.6" y="476.9"/><use href="#s" x="976.6" y="678.1"/><use href="#s" x="955.7" y="707.9"/><use href="#s" x="1185.5" y="403.7"/><use href="#s" x="1182.7" y="405.8"/><use href="#s" x="1189.3" y="401.2"/><use href="#s" x="1219.3" y="371.0"/><use href="#s" x="1176.0" y="417.4"/><use href="#s" x="1081.3" y="500.7"/><use href="#s" x="1119.8" y="478.8"/><use href="#s" x="1098.4" y="484.7"/><use href="#s" x="1059.0" y="514.9"/><use href="#s" x="1005.1" y="626.6"/><use href="#s" x="1106.5" y="478.4"/><use href="#s" x="1085.2" y="496.2"/><use href="#s" x="1043.0" y="572.3"/><use href="#s" x="1011.8" y="547.3"/><use href="#s" x="938.2" y="741.0"/><use href="#s" x="897.4" y="808.1"/><use href="#s" x="964.8" y="573.9"/><use href="#s" x="951.2" y="581.5"/><use href="#s" x="821.3" y="671.0"/><use href="#s" x="750.9" y="700.8"/><use href="#s" x="944.3" y="840.2"/><use href="#s" x="941.0" y="876.6"/></g><g stroke="#3d57fc"><use href="#s" x="1224.3" y="366.9"/><use href="#s" x="1041.3" y="529.7"/><use href="#s" x="964.1" y="694.8"/><use href="#s" x="1004.1" y="634.3"/><use href="#s" x="1130.9" y="464.0"/><use href="#s" x="979.9" y="674.3"/><use href="#s" x="1106.5" y="495.7"/><use href="#s" x="1154.4" y="433.4"/><use href="#s" x="966.9" y="690.0"/><use href="#s" x="1089.8" y="513.0"/><use href="#s" x="1139.8" y="448.5"/><use href="#s" x="1013.3" y="611.8"/><use href="#s" x="1145.5" y="442.5"/><use href="#s" x="1215.1" y="376.9"/><use href="#s" x="1035.9" y="575.7"/><use href="#s" x="1011.9" y="618.8"/><use href="#s" x="1007.8" y="616.9"/><use href="#s" x="1103.9" y="479.3"/><use href="#s" x="1042.0" y="568.8"/><use href="#s" x="1029.3" y="540.7"/><use href="#s" x="1002.9" y="640.7"/><use href="#s" x="1001.0" y="555.5"/><use href="#s" x="1011.6" y="550.4"/><use href="#s" x="935.3" y="737.9"/><use href="#s" x="838.0" y="922.0"/><use href="#s" x="860.0" y="877.5"/></g><g stroke="#375dff"><use href="#s" x="999.0" y="639.6"/><use href="#s" x="1101.0" y="484.7"/><use href="#s" x="1152.4" y="437.7"/><use href="#s" x="1152.9" y="440.8"/><use href="#s" x="1016.0" y="609.5"/><use href="#s" x="1158.8" y="435.2"/><use href="#s" x="990.8" y="648.6"/><use href="#s" x="1067.4" y="512.7"/><use href="#s" x="1178.9" y="414.2"/><use href="#s" x="1105.1" y="479.5"/><use href="#s" x="1090.1" y="512.3"/><use href="#s" x="1088.2" y="496.6"/><use href="#s" x="1071.8" y="529.2"/><use href="#s" x="1170.6" y="420.6"/><use href="#s" x="1095.9" y="490.3"/><use href="#s" x="1119.3" y="480.1"/><use href="#s" x="1216.6" y="375.3"/><use href="#s" x="1092.5" y="508.0"/><use href="#s" x="1023.4" y="595.7"/><use href="#s" x="1107.5" y="490.2"/><use href="#s" x="1163.5" y="426.5"/><use href="#s" x="1024.9" y="543.4"/><use href="#s" x="1135.1" y="452.3"/><use href="#s" x="1116.5" y="469.6"/><use href="#s" x="1209.0" y="383.0"/><use href="#s" x="1007.2" y="619.6"/><use href="#s" x="1075.6" y="506.5"/><use href="#s" x="1010.2" y="629.2"/><use href="#s" x="893.1" y="812.6"/><use href="#s" x="1058.6" y="552.1"/><use href="#s" x="887.5" y="818.8"/><use href="#s" x="909.4" y="777.4"/><use href="#s" x="927.5" y="602.0"/><use href="#s" x="827.4" y="667.4"/><use href="#s" x="840.1" y="661.4"/><use href="#s" x="927.8" y="601.0"/><use href="#s" x="637.0" y="736.9"/></g><g stroke="#2f63ff"><use href="#s" x="962.8" y="696.2"/><use href="#s" x="1035.9" y="538.0"/><use href="#s" x="1021.2" y="545.7"/><use href="#s" x="1076.5" y="506.1"/><use href="#s" x="1004.2" y="627.3"/><use href="#s" x="929.8" y="740.9"/><use href="#s" x="1146.9" y="444.4"/><use href="#s" x="958.7" y="695.7"/><use href="#s" x="1016.5" y="550.1"/><use href="#s" x="1069.4" y="510.7"/><use href="#s" x="1101.1" y="495.2"/><use href="#s" x="955.7" y="705.8"/><use href="#s" x="1042.2" y="568.4"/><use href="#s" x="1040.9" y="570.1"/><use href="#s" x="1150.7" y="441.9"/><use href="#s" x="1008.0" y="555.6"/><use href="#s" x="1064.0" y="515.8"/><use href="#s" x="1056.1" y="523.2"/><use href="#s" x="1038.0" y="571.2"/><use href="#s" x="1020.3" y="549.9"/><use href="#s" x="1191.3" y="399.5"/><use href="#s" x="1065.3" y="538.2"/><use href="#s" x="1049.7" y="528.1"/><use href="#s" x="1047.7" y="525.9"/><use href="#s" x="1061.3" y="520.0"/><use href="#s" x="1077.7" y="526.8"/><use href="#s" x="1123.2" y="473.8"/><use href="#s" x="1017.9" y="616.5"/><use href="#s" x="1024.4" y="601.8"/><use href="#s" x="921.1" y="761.3"/><use href="#s" x="922.6" y="762.0"/></g><g stroke="#2269ff"><use href="#s" x="1159.5" y="431.2"/><use href="#s" x="1031.8" y="539.9"/><use href="#s" x="1024.7" y="586.5"/><use href="#s" x="1109.3" y="487.3"/><use href="#s" x="1129.0" y="459.3"/><use href="#s" x="1142.7" y="447.4"/><use href="#s" x="1035.2" y="535.6"/><use href="#s" x="1165.5" y="426.7"/><use href="#s" x="1126.0" y="461.3"/><use href="#s" x="1135.9" y="460.1"/><use href="#s" x="1077.1" y="506.6"/><use href="#s" x="1033.3" y="579.8"/><use href="#s" x="1103.0" y="483.4"/><use href="#s" x="1007.9" y="555.5"/><use href="#s" x="991.4" y="641.5"/><use href="#s" x="1033.0" y="576.3"/><use href="#s" x="1184.7" y="407.5"/><use href="#s" x="1017.3" y="547.6"/><use href="#s" x="1046.9" y="558.0"/><use href="#s" x="1018.1" y="607.2"/><use href="#s" x="1009.3" y="556.6"/><use href="#s" x="1096.1" y="500.3"/><use href="#s" x="1100.2" y="497.5"/><use href="#s" x="1096.3" y="501.3"/><use href="#s" x="1108.6" y="485.5"/><use href="#s" x="1124.3" y="465.2"/><use href="#s" x="1019.0" y="605.2"/><use href="#s" x="1113.5" y="481.3"/><use href="#s" x="1093.4" y="489.3"/><use href="#s" x="1128.3" y="468.4"/><use href="#s" x="1120.1" y="467.9"/><use href="#s" x="1046.5" y="558.9"/><use href="#s" x="1002.4" y="624.5"/><use href="#s" x="890.7" y="815.4"/><use href="#s" x="933.1" y="742.7"/><use href="#s" x="633.0" y="739.0"/></g><g stroke="#0070ff"><use href="#s" x="1003.6" y="630.0"/><use href="#s" x="958.0" y="694.8"/><use href="#s" x="958.0" y="686.5"/><use href="#s" x="949.8" y="710.9"/><use href="#s" x="1108.4" y="480.1"/><use href="#s" x="1032.1" y="582.0"/><use href="#s" x="1102.1" y="485.7"/><use href="#s" x="951.4" y="708.2"/><use href="#s" x="969.7" y="675.2"/><use href="#s" x="940.7" y="723.0"/><use href="#s" x="1073.3" y="527.7"/><use href="#s" x="1105.4" y="485.2"/><use href="#s" x="1026.3" y="544.4"/><use href="#s" x="1078.1" y="520.7"/><use href="#s" x="1058.2" y="543.0"/><use href="#s" x="1048.7" y="559.0"/><use href="#s" x="1024.8" y="588.5"/><use href="#s" x="1048.1" y="526.4"/><use href="#s" x="1052.4" y="551.7"/><use href="#s" x="1094.1" y="506.1"/><use href="#s" x="1050.9" y="553.8"/><use href="#s" x="1156.8" y="435.7"/><use href="#s" x="1021.0" y="547.8"/><use href="#s" x="1015.3" y="552.2"/><use href="#s" x="1147.3" y="445.8"/><use href="#s" x="1014.2" y="605.2"/><use href="#s" x="1036.5" y="538.1"/><use href="#s" x="1130.3" y="460.8"/><use href="#s" x="779.2" y="702.7"/><use href="#s" x="905.1" y="618.6"/><use href="#s" x="611.3" y="741.6"/></g><g stroke="#0076ff"><use href="#s" x="1123.5" y="466.7"/><use href="#s" x="938.8" y="716.7"/><use href="#s" x="998.6" y="637.4"/><use href="#s" x="1154.4" y="438.0"/><use href="#s" x="1000.2" y="621.9"/><use href="#s" x="964.8" y="681.5"/><use href="#s" x="1109.3" y="479.1"/><use href="#s" x="936.4" y="729.1"/><use href="#s" x="1022.8" y="590.7"/><use href="#s" x="1098.5" y="486.9"/><use href="#s" x="1002.0" y="616.4"/><use href="#s" x="1040.6" y="569.3"/><use href="#s" x="978.5" y="659.7"/><use href="#s" x="1123.6" y="471.5"/><use href="#s" x="1100.6" y="498.1"/><use href="#s" x="946.9" y="710.7"/><use href="#s" x="935.5" y="725.2"/><use href="#s" x="974.7" y="673.0"/><use href="#s" x="1065.5" y="518.0"/><use href="#s" x="1052.0" y="528.9"/><use href="#s" x="1045.8" y="555.3"/><use href="#s" x="1111.0" y="478.5"/><use href="#s" x="1047.8" y="529.9"/><use href="#s" x="1103.7" y="489.8"/><use href="#s" x="1020.9" y="587.7"/><use href="#s" x="1015.0" y="604.0"/><use href="#s" x="1086.0" y="513.7"/><use href="#s" x="893.2" y="800.3"/><use href="#s" x="655.4" y="738.9"/><use href="#s" x="560.2" y="749.8"/></g><g stroke="#007dff"><use href="#s" x="1002.2" y="612.6"/><use href="#s" x="1097.4" y="498.1"/><use href="#s" x="995.0" y="636.5"/><use href="#s" x="993.5" y="570.9"/><use href="#s" x="1031.6" y="571.8"/><use href="#s" x="1015.2" y="601.8"/><use href="#s" x="1019.3" y="591.5"/><use href="#s" x="954.8" y="686.0"/><use href="#s" x="1059.6" y="525.6"/><use href="#s" x="901.5" y="782.7"/><use href="#s" x="1101.2" y="489.9"/><use href="#s" x="969.8" y="675.6"/><use href="#s" x="1147.9" y="444.3"/><use href="#s" x="1060.7" y="520.3"/><use href="#s" x="1023.5" y="590.9"/><use href="#s" x="1012.3" y="602.3"/><use href="#s" x="1017.9" y="598.5"/><use href="#s" x="1114.3" y="476.2"/><use href="#s" x="1067.9" y="530.9"/><use href="#s" x="1048.2" y="552.3"/><use href="#s" x="1080.5" y="516.7"/><use href="#s" x="1029.0" y="580.0"/><use href="#s" x="1073.4" y="526.3"/><use href="#s" x="1003.2" y="618.4"/><use href="#s" x="1009.7" y="613.9"/><use href="#s" x="1103.3" y="486.3"/><use href="#s" x="1018.3" y="548.6"/><use href="#s" x="1062.0" y="534.9"/><use href="#s" x="1143.2" y="448.8"/><use href="#s" x="883.9" y="811.3"/><use href="#s" x="625.0" y="745.0"/><use href="#s" x="1031.6" y="767.5"/><use href="#s" x="1029.0" y="769.9"/><use href="#s" x="1027.8" y="768.1"/><use href="#s" x="1031.5" y="768.7"/><use href="#s" x="1031.8" y="767.0"/></g><g stroke="#0082fe"><use href="#s" x="1066.4" y="529.9"/><use href="#s" x="948.3" y="705.2"/><use href="#s" x="946.2" y="700.8"/><use href="#s" x="1004.9" y="616.6"/><use href="#s" x="1003.9" y="617.9"/><use href="#s" x="1031.9" y="573.9"/><use href="#s" x="1007.2" y="603.9"/><use href="#s" x="891.0" y="792.5"/><use href="#s" x="968.5" y="678.5"/><use href="#s" x="1100.2" y="490.7"/><use href="#s" x="1161.2" y="430.1"/><use href="#s" x="1110.7" y="478.9"/><use href="#s" x="1018.1" y="593.1"/><use href="#s" x="1021.6" y="588.0"/><use href="#s" x="1050.9" y="532.8"/><use href="#s" x="1005.8" y="616.3"/><use href="#s" x="945.7" y="703.7"/><use href="#s" x="1047.3" y="553.5"/><use href="#s" x="1009.8" y="559.2"/><use href="#s" x="1079.2" y="506.7"/><use href="#s" x="1089.3" y="499.3"/><use href="#s" x="1048.9" y="547.9"/><use href="#s" x="1059.4" y="526.1"/><use href="#s" x="1060.9" y="539.8"/><use href="#s" x="1096.9" y="493.7"/><use href="#s" x="1078.3" y="512.1"/><use href="#s" x="1015.4" y="555.0"/><use href="#s" x="1064.2" y="532.3"/><use href="#s" x="1053.4" y="545.8"/><use href="#s" x="1065.4" y="522.3"/><use href="#s" x="1093.1" y="497.4"/><use href="#s" x="1077.1" y="516.1"/><use href="#s" x="1035.1" y="562.9"/><use href="#s" x="1058.7" y="523.3"/><use href="#s" x="1026.0" y="582.9"/><use href="#s" x="1004.5" y="619.9"/><use href="#s" x="1089.2" y="500.2"/><use href="#s" x="909.7" y="770.2"/><use href="#s" x="875.4" y="830.8"/><use href="#s" x="978.9" y="576.0"/><use href="#s" x="555.0" y="757.0"/></g><g stroke="#0088fb"><use href="#s" x="919.5" y="741.8"/><use href="#s" x="1056.6" y="527.7"/><use href="#s" x="938.0" y="710.7"/><use href="#s" x="1033.7" y="574.2"/><use href="#s" x="969.3" y="663.9"/><use href="#s" x="889.5" y="801.2"/><use href="#s" x="1035.7" y="568.0"/><use href="#s" x="1043.0" y="555.7"/><use href="#s" x="1118.6" y="474.2"/><use href="#s" x="988.8" y="649.1"/><use href="#s" x="981.5" y="660.0"/><use href="#s" x="1127.9" y="462.9"/><use href="#s" x="989.4" y="628.8"/><use href="#s" x="1033.7" y="570.6"/><use href="#s" x="996.8" y="630.3"/><use href="#s" x="899.6" y="779.3"/><use href="#s" x="1048.9" y="550.3"/><use href="#s" x="903.4" y="771.5"/><use href="#s" x="1046.1" y="554.0"/><use href="#s" x="1055.4" y="545.1"/><use href="#s" x="1004.3" y="609.8"/><use href="#s" x="1052.0" y="530.6"/><use href="#s" x="1052.7" y="533.1"/><use href="#s" x="1053.3" y="530.5"/><use href="#s" x="1059.6" y="537.2"/><use href="#s" x="1019.1" y="585.9"/><use href="#s" x="1079.7" y="516.9"/><use href="#s" x="1029.8" y="565.9"/><use href="#s" x="1092.4" y="496.5"/><use href="#s" x="1014.8" y="603.2"/><use href="#s" x="1011.2" y="563.7"/><use href="#s" x="1039.5" y="568.5"/><use href="#s" x="1044.9" y="546.5"/><use href="#s" x="1089.6" y="502.5"/><use href="#s" x="1013.1" y="585.2"/><use href="#s" x="820.5" y="682.9"/><use href="#s" x="791.5" y="702.4"/><use href="#s" x="949.2" y="595.6"/><use href="#s" x="878.5" y="816.4"/><use href="#s" x="956.0" y="589.9"/><use href="#s" x="740.5" y="721.8"/><use href="#s" x="522.6" y="757.2"/><use href="#s" x="645.5" y="745.5"/><use href="#s" x="825.0" y="935.0"/></g><g stroke="#008ef6"><use href="#s" x="998.0" y="609.4"/><use href="#s" x="900.6" y="782.9"/><use href="#s" x="1026.5" y="551.1"/><use href="#s" x="990.2" y="622.8"/><use href="#s" x="1009.5" y="597.3"/><use href="#s" x="1015.1" y="588.4"/><use href="#s" x="1023.0" y="566.7"/><use href="#s" x="1003.0" y="620.5"/><use href="#s" x="925.7" y="733.2"/><use href="#s" x="1058.2" y="540.2"/><use href="#s" x="931.8" y="718.1"/><use href="#s" x="1068.9" y="526.5"/><use href="#s" x="1008.2" y="558.9"/><use href="#s" x="931.0" y="714.6"/><use href="#s" x="1078.9" y="519.9"/><use href="#s" x="1012.5" y="602.5"/><use href="#s" x="1014.3" y="591.8"/><use href="#s" x="1024.5" y="578.5"/><use href="#s" x="1005.1" y="563.8"/><use href="#s" x="1017.6" y="561.6"/><use href="#s" x="1082.4" y="505.5"/><use href="#s" x="1003.6" y="608.6"/><use href="#s" x="877.6" y="816.5"/><use href="#s" x="843.1" y="673.7"/><use href="#s" x="856.9" y="851.4"/><use href="#s" x="671.9" y="741.1"/></g><g stroke="#0093f2"><use href="#s" x="1009.5" y="597.3"/><use href="#s" x="941.2" y="710.7"/><use href="#s" x="975.2" y="657.7"/><use href="#s" x="925.0" y="731.4"/><use href="#s" x="884.9" y="788.5"/><use href="#s" x="1021.2" y="555.7"/><use href="#s" x="1008.9" y="598.5"/><use href="#s" x="996.0" y="622.8"/><use href="#s" x="1055.8" y="534.7"/><use href="#s" x="994.4" y="623.5"/><use href="#s" x="932.7" y="713.1"/><use href="#s" x="928.7" y="729.8"/><use href="#s" x="960.4" y="675.3"/><use href="#s" x="895.6" y="775.4"/><use href="#s" x="982.1" y="644.0"/><use href="#s" x="1050.0" y="532.2"/><use href="#s" x="1027.8" y="566.0"/><use href="#s" x="899.2" y="777.6"/><use href="#s" x="991.3" y="626.8"/><use href="#s" x="974.5" y="660.4"/><use href="#s" x="930.5" y="717.9"/><use href="#s" x="1049.5" y="547.3"/><use href="#s" x="921.6" y="733.0"/><use href="#s" x="968.5" y="661.8"/><use href="#s" x="916.2" y="744.9"/><use href="#s" x="1047.5" y="534.9"/><use href="#s" x="1053.1" y="547.0"/><use href="#s" x="1056.3" y="534.3"/><use href="#s" x="1043.7" y="553.2"/><use href="#s" x="1009.9" y="559.4"/><use href="#s" x="1044.3" y="549.6"/><use href="#s" x="1038.8" y="554.8"/><use href="#s" x="1030.6" y="552.9"/><use href="#s" x="1040.0" y="555.5"/><use href="#s" x="1036.8" y="547.3"/><use href="#s" x="1036.1" y="546.9"/><use href="#s" x="1044.7" y="548.1"/><use href="#s" x="882.2" y="648.2"/><use href="#s" x="742.5" y="727.2"/><use href="#s" x="888.5" y="640.6"/><use href="#s" x="746.0" y="719.7"/><use href="#s" x="557.6" y="759.0"/><use href="#s" x="374.0" y="767.5"/></g><g stroke="#0098ee"><use href="#s" x="1024.1" y="577.9"/><use href="#s" x="857.7" y="836.5"/><use href="#s" x="1041.6" y="540.2"/><use href="#s" x="906.8" y="752.9"/><use href="#s" x="878.7" y="800.9"/><use href="#s" x="931.2" y="714.7"/><use href="#s" x="999.3" y="604.8"/><use href="#s" x="1007.2" y="602.5"/><use href="#s" x="921.6" y="730.4"/><use href="#s" x="1023.9" y="565.9"/><use href="#s" x="935.2" y="717.4"/><use href="#s" x="870.7" y="660.1"/><use href="#s" x="886.7" y="790.2"/><use href="#s" x="950.9" y="687.6"/><use href="#s" x="986.0" y="644.8"/><use href="#s" x="881.0" y="798.8"/><use href="#s" x="982.1" y="634.1"/><use href="#s" x="877.5" y="798.1"/><use href="#s" x="998.9" y="609.6"/><use href="#s" x="912.2" y="747.1"/><use href="#s" x="1044.7" y="551.3"/><use href="#s" x="958.4" y="676.7"/><use href="#s" x="1014.5" y="585.1"/><use href="#s" x="1020.0" y="583.4"/><use href="#s" x="1037.8" y="548.3"/><use href="#s" x="952.1" y="687.8"/><use href="#s" x="1036.8" y="543.2"/><use href="#s" x="1016.9" y="590.5"/><use href="#s" x="1021.3" y="571.8"/><use href="#s" x="1036.3" y="549.0"/><use href="#s" x="1010.2" y="598.4"/><use href="#s" x="1009.0" y="606.4"/><use href="#s" x="847.7" y="672.4"/><use href="#s" x="655.9" y="749.2"/><use href="#s" x="526.7" y="764.1"/><use href="#s" x="566.0" y="761.0"/></g><g stroke="#009deb"><use href="#s" x="1007.2" y="591.4"/><use href="#s" x="1024.0" y="561.9"/><use href="#s" x="1002.5" y="572.4"/><use href="#s" x="1015.6" y="584.8"/><use href="#s" x="1032.2" y="554.0"/><use href="#s" x="968.5" y="662.4"/><use href="#s" x="907.2" y="756.2"/><use href="#s" x="956.1" y="681.3"/><use href="#s" x="852.0" y="674.1"/><use href="#s" x="861.4" y="825.0"/><use href="#s" x="882.9" y="794.8"/><use href="#s" x="1023.1" y="553.7"/><use href="#s" x="988.4" y="637.1"/><use href="#s" x="1031.7" y="554.1"/><use href="#s" x="1045.5" y="545.4"/><use href="#s" x="978.9" y="637.7"/><use href="#s" x="1038.7" y="556.5"/><use href="#s" x="1041.0" y="542.4"/><use href="#s" x="905.9" y="765.1"/><use href="#s" x="1027.3" y="552.6"/><use href="#s" x="1036.4" y="547.4"/><use href="#s" x="1050.1" y="534.9"/><use href="#s" x="1007.4" y="590.1"/><use href="#s" x="1016.9" y="560.3"/><use href="#s" x="1071.2" y="517.6"/><use href="#s" x="906.7" y="629.4"/><use href="#s" x="720.7" y="740.8"/><use href="#s" x="817.9" y="692.9"/><use href="#s" x="860.5" y="836.0"/><use href="#s" x="880.6" y="650.3"/><use href="#s" x="551.4" y="761.3"/></g><g stroke="#00a2e8"><use href="#s" x="861.5" y="828.9"/><use href="#s" x="866.6" y="823.5"/><use href="#s" x="935.0" y="703.8"/><use href="#s" x="973.9" y="589.2"/><use href="#s" x="930.2" y="717.3"/><use href="#s" x="865.8" y="818.7"/><use href="#s" x="840.9" y="852.6"/><use href="#s" x="837.1" y="862.2"/><use href="#s" x="1019.3" y="561.3"/><use href="#s" x="985.1" y="628.4"/><use href="#s" x="932.0" y="704.1"/><use href="#s" x="939.9" y="697.0"/><use href="#s" x="994.7" y="578.8"/><use href="#s" x="794.5" y="707.8"/><use href="#s" x="986.5" y="622.2"/><use href="#s" x="912.0" y="734.9"/><use href="#s" x="1017.7" y="580.1"/><use href="#s" x="938.1" y="708.7"/><use href="#s" x="910.5" y="738.3"/><use href="#s" x="908.7" y="749.4"/><use href="#s" x="1051.2" y="538.3"/><use href="#s" x="1007.6" y="570.8"/><use href="#s" x="1010.4" y="570.7"/><use href="#s" x="1028.2" y="559.7"/><use href="#s" x="1037.0" y="554.8"/><use href="#s" x="1017.0" y="571.9"/><use href="#s" x="1008.6" y="587.1"/><use href="#s" x="1020.5" y="565.4"/><use href="#s" x="1009.1" y="566.2"/><use href="#s" x="861.7" y="659.0"/><use href="#s" x="855.7" y="665.5"/><use href="#s" x="838.5" y="867.7"/><use href="#s" x="501.0" y="769.9"/></g><g stroke="#00a6e5"><use href="#s" x="941.1" y="616.0"/><use href="#s" x="1046.1" y="540.6"/><use href="#s" x="922.2" y="714.5"/><use href="#s" x="1015.7" y="578.1"/><use href="#s" x="941.0" y="688.7"/><use href="#s" x="920.9" y="730.3"/><use href="#s" x="939.3" y="691.8"/><use href="#s" x="877.6" y="801.4"/><use href="#s" x="847.0" y="846.7"/><use href="#s" x="927.2" y="704.5"/><use href="#s" x="1026.2" y="569.8"/><use href="#s" x="984.5" y="630.4"/><use href="#s" x="1008.5" y="573.3"/><use href="#s" x="1006.3" y="590.0"/><use href="#s" x="1007.6" y="588.0"/><use href="#s" x="1011.7" y="583.6"/><use href="#s" x="1000.3" y="598.3"/><use href="#s" x="1011.6" y="573.0"/><use href="#s" x="1027.1" y="559.2"/><use href="#s" x="1012.3" y="586.0"/><use href="#s" x="1014.7" y="574.1"/><use href="#s" x="833.3" y="879.3"/><use href="#s" x="830.2" y="875.3"/><use href="#s" x="625.5" y="757.9"/><use href="#s" x="482.1" y="767.6"/></g><g stroke="#00abe2"><use href="#s" x="914.3" y="726.9"/><use href="#s" x="963.9" y="660.3"/><use href="#s" x="973.9" y="593.9"/><use href="#s" x="915.4" y="731.7"/><use href="#s" x="913.0" y="731.1"/><use href="#s" x="936.7" y="697.9"/><use href="#s" x="846.0" y="837.7"/><use href="#s" x="978.2" y="591.1"/><use href="#s" x="929.1" y="715.8"/><use href="#s" x="873.8" y="801.9"/><use href="#s" x="987.7" y="626.6"/><use href="#s" x="989.9" y="624.0"/><use href="#s" x="880.9" y="654.3"/><use href="#s" x="916.9" y="632.3"/><use href="#s" x="856.0" y="828.7"/><use href="#s" x="805.3" y="707.7"/><use href="#s" x="858.6" y="821.4"/><use href="#s" x="919.7" y="712.8"/><use href="#s" x="936.6" y="699.8"/><use href="#s" x="951.3" y="676.8"/><use href="#s" x="859.6" y="832.3"/><use href="#s" x="885.2" y="791.6"/><use href="#s" x="868.7" y="821.1"/><use href="#s" x="910.2" y="636.5"/><use href="#s" x="934.8" y="618.1"/><use href="#s" x="994.6" y="609.1"/><use href="#s" x="848.1" y="841.6"/><use href="#s" x="864.0" y="668.1"/><use href="#s" x="965.8" y="657.6"/><use href="#s" x="972.4" y="651.8"/><use href="#s" x="1007.7" y="589.2"/><use href="#s" x="1022.8" y="557.5"/><use href="#s" x="1025.5" y="566.5"/><use href="#s" x="1024.1" y="563.9"/><use href="#s" x="1004.6" y="591.6"/><use href="#s" x="1024.5" y="567.4"/><use href="#s" x="1006.1" y="576.0"/><use href="#s" x="1005.1" y="576.7"/><use href="#s" x="762.9" y="723.3"/><use href="#s" x="953.6" y="603.5"/></g><g stroke="#00afde"><use href="#s" x="878.0" y="658.0"/><use href="#s" x="995.4" y="603.4"/><use href="#s" x="964.0" y="655.3"/><use href="#s" x="924.3" y="721.2"/><use href="#s" x="898.0" y="754.1"/><use href="#s" x="1001.6" y="592.0"/><use href="#s" x="838.0" y="690.6"/><use href="#s" x="772.5" y="725.0"/><use href="#s" x="848.0" y="848.0"/><use href="#s" x="963.0" y="666.3"/><use href="#s" x="987.2" y="623.1"/><use href="#s" x="995.4" y="579.6"/><use href="#s" x="801.9" y="707.7"/><use href="#s" x="799.0" y="713.3"/><use href="#s" x="771.8" y="720.7"/><use href="#s" x="948.7" y="675.4"/><use href="#s" x="993.7" y="580.0"/><use href="#s" x="927.8" y="627.2"/><use href="#s" x="928.0" y="705.5"/><use href="#s" x="930.0" y="623.5"/><use href="#s" x="976.7" y="599.2"/><use href="#s" x="1017.6" y="576.3"/><use href="#s" x="657.6" y="755.8"/><use href="#s" x="553.6" y="771.0"/></g><g stroke="#00b3d9"><use href="#s" x="971.5" y="632.1"/><use href="#s" x="904.8" y="757.4"/><use href="#s" x="842.5" y="852.9"/><use href="#s" x="777.0" y="719.9"/><use href="#s" x="1035.4" y="554.5"/><use href="#s" x="766.4" y="724.6"/><use href="#s" x="850.1" y="836.5"/><use href="#s" x="998.8" y="583.9"/><use href="#s" x="983.7" y="610.5"/><use href="#s" x="858.4" y="830.7"/><use href="#s" x="968.9" y="650.0"/><use href="#s" x="792.0" y="717.9"/><use href="#s" x="869.9" y="792.3"/><use href="#s" x="994.8" y="586.4"/><use href="#s" x="966.0" y="641.3"/><use href="#s" x="918.9" y="636.4"/><use href="#s" x="957.3" y="610.6"/><use href="#s" x="895.5" y="650.3"/><use href="#s" x="952.0" y="610.4"/><use href="#s" x="931.0" y="624.4"/><use href="#s" x="1009.8" y="573.7"/><use href="#s" x="975.0" y="634.9"/><use href="#s" x="982.9" y="600.9"/><use href="#s" x="838.5" y="852.9"/><use href="#s" x="885.9" y="657.4"/><use href="#s" x="923.7" y="722.3"/><use href="#s" x="1006.3" y="583.7"/><use href="#s" x="1013.8" y="571.1"/><use href="#s" x="634.4" y="762.7"/></g><g stroke="#00b6d2"><use href="#s" x="819.9" y="874.8"/><use href="#s" x="916.5" y="632.4"/><use href="#s" x="781.7" y="726.6"/><use href="#s" x="859.2" y="824.0"/><use href="#s" x="972.9" y="634.1"/><use href="#s" x="917.0" y="631.8"/><use href="#s" x="838.8" y="860.4"/><use href="#s" x="827.5" y="867.6"/><use href="#s" x="953.7" y="607.5"/><use href="#s" x="919.6" y="714.3"/><use href="#s" x="804.0" y="706.6"/><use href="#s" x="924.9" y="632.9"/><use href="#s" x="774.7" y="720.3"/><use href="#s" x="845.3" y="847.2"/><use href="#s" x="868.0" y="799.3"/><use href="#s" x="892.4" y="650.1"/><use href="#s" x="912.2" y="642.5"/><use href="#s" x="907.1" y="742.6"/><use href="#s" x="1004.0" y="582.6"/><use href="#s" x="871.1" y="795.7"/><use href="#s" x="1006.6" y="581.8"/><use href="#s" x="1004.3" y="586.1"/><use href="#s" x="642.8" y="769.7"/><use href="#s" x="605.0" y="770.2"/></g><g stroke="#00b9cc"><use href="#s" x="962.9" y="652.4"/><use href="#s" x="908.9" y="728.4"/><use href="#s" x="820.5" y="874.0"/><use href="#s" x="965.5" y="632.9"/><use href="#s" x="839.2" y="841.6"/><use href="#s" x="809.1" y="707.9"/><use href="#s" x="978.3" y="626.1"/><use href="#s" x="828.4" y="699.2"/><use href="#s" x="960.3" y="649.7"/><use href="#s" x="980.8" y="620.1"/><use href="#s" x="916.1" y="639.3"/><use href="#s" x="953.9" y="658.7"/><use href="#s" x="826.3" y="702.3"/><use href="#s" x="948.9" y="668.9"/><use href="#s" x="966.9" y="632.6"/><use href="#s" x="956.0" y="659.2"/><use href="#s" x="772.5" y="728.9"/><use href="#s" x="862.0" y="808.9"/><use href="#s" x="466.6" y="782.8"/><use href="#s" x="517.7" y="785.4"/></g><g stroke="#00bcc5"><use href="#s" x="966.9" y="630.7"/><use href="#s" x="994.4" y="593.4"/><use href="#s" x="830.3" y="859.0"/><use href="#s" x="963.3" y="607.8"/><use href="#s" x="975.5" y="599.7"/><use href="#s" x="822.4" y="705.6"/><use href="#s" x="832.3" y="850.6"/><use href="#s" x="970.2" y="624.1"/><use href="#s" x="793.0" y="719.1"/><use href="#s" x="745.3" y="739.7"/><use href="#s" x="950.0" y="652.9"/><use href="#s" x="850.4" y="684.2"/><use href="#s" x="836.4" y="845.2"/><use href="#s" x="972.3" y="602.1"/><use href="#s" x="974.9" y="606.2"/><use href="#s" x="977.0" y="621.3"/><use href="#s" x="842.8" y="835.4"/><use href="#s" x="875.3" y="782.7"/><use href="#s" x="859.1" y="819.4"/><use href="#s" x="956.6" y="616.1"/><use href="#s" x="789.5" y="722.0"/><use href="#s" x="733.5" y="741.6"/><use href="#s" x="524.9" y="783.3"/></g><g stroke="#00bebe"><use href="#s" x="847.6" y="690.9"/><use href="#s" x="834.9" y="840.0"/><use href="#s" x="947.3" y="619.4"/><use href="#s" x="830.5" y="867.9"/><use href="#s" x="956.4" y="615.7"/><use href="#s" x="951.1" y="652.8"/><use href="#s" x="800.9" y="718.0"/><use href="#s" x="928.2" y="633.7"/><use href="#s" x="976.8" y="616.1"/><use href="#s" x="753.4" y="738.9"/><use href="#s" x="918.3" y="635.4"/><use href="#s" x="822.8" y="874.4"/><use href="#s" x="821.0" y="702.5"/><use href="#s" x="951.8" y="662.7"/><use href="#s" x="850.6" y="818.5"/><use href="#s" x="978.5" y="627.0"/><use href="#s" x="967.9" y="607.1"/><use href="#s" x="824.1" y="860.5"/><use href="#s" x="758.4" y="737.7"/><use href="#s" x="890.4" y="750.1"/><use href="#s" x="827.0" y="864.4"/><use href="#s" x="942.7" y="665.2"/><use href="#s" x="876.6" y="783.4"/><use href="#s" x="855.5" y="812.2"/><use href="#s" x="712.8" y="756.2"/><use href="#s" x="828.2" y="862.4"/><use href="#s" x="932.1" y="687.6"/><use href="#s" x="841.4" y="829.6"/><use href="#s" x="820.1" y="706.2"/><use href="#s" x="828.5" y="868.0"/><use href="#s" x="806.0" y="898.3"/><use href="#s" x="369.0" y="788.3"/><use href="#s" x="616.4" y="775.8"/></g><g stroke="#00c1b7"><use href="#s" x="983.6" y="609.6"/><use href="#s" x="882.6" y="760.5"/><use href="#s" x="906.2" y="652.5"/><use href="#s" x="957.9" y="636.6"/><use href="#s" x="889.2" y="757.7"/><use href="#s" x="941.5" y="627.5"/><use href="#s" x="880.2" y="670.2"/><use href="#s" x="955.3" y="618.8"/><use href="#s" x="951.8" y="649.7"/><use href="#s" x="969.1" y="622.9"/><use href="#s" x="919.5" y="639.8"/><use href="#s" x="849.2" y="821.8"/><use href="#s" x="894.6" y="657.6"/><use href="#s" x="957.1" y="614.9"/><use href="#s" x="972.8" y="610.4"/><use href="#s" x="963.9" y="610.6"/><use href="#s" x="814.3" y="879.7"/><use href="#s" x="720.9" y="753.1"/><use href="#s" x="830.6" y="697.1"/><use href="#s" x="928.8" y="636.2"/><use href="#s" x="889.6" y="661.1"/><use href="#s" x="813.0" y="880.0"/><use href="#s" x="955.7" y="613.1"/><use href="#s" x="828.1" y="853.8"/><use href="#s" x="832.8" y="700.7"/><use href="#s" x="951.7" y="620.9"/><use href="#s" x="967.7" y="625.5"/><use href="#s" x="774.1" y="730.7"/><use href="#s" x="888.2" y="756.1"/><use href="#s" x="822.4" y="860.6"/><use href="#s" x="868.3" y="782.9"/><use href="#s" x="909.4" y="715.9"/><use href="#s" x="885.3" y="662.2"/><use href="#s" x="887.8" y="750.1"/><use href="#s" x="898.7" y="741.1"/><use href="#s" x="668.8" y="763.0"/><use href="#s" x="645.0" y="772.3"/><use href="#s" x="610.2" y="777.7"/><use href="#s" x="619.9" y="775.1"/><use href="#s" x="772.5" y="987.5"/></g><g stroke="#00c3af"><use href="#s" x="907.8" y="718.5"/><use href="#s" x="919.5" y="645.7"/><use href="#s" x="896.6" y="659.9"/><use href="#s" x="807.5" y="892.5"/><use href="#s" x="816.3" y="869.5"/><use href="#s" x="804.5" y="893.5"/><use href="#s" x="823.2" y="855.4"/><use href="#s" x="861.7" y="788.3"/><use href="#s" x="976.8" y="613.4"/><use href="#s" x="866.5" y="678.5"/><use href="#s" x="802.7" y="893.7"/><use href="#s" x="678.0" y="770.7"/><use href="#s" x="868.5" y="781.9"/><use href="#s" x="828.6" y="844.2"/><use href="#s" x="872.7" y="771.1"/><use href="#s" x="938.8" y="666.3"/><use href="#s" x="834.5" y="837.1"/><use href="#s" x="746.1" y="747.3"/><use href="#s" x="960.3" y="628.9"/><use href="#s" x="832.3" y="702.7"/><use href="#s" x="906.6" y="714.6"/><use href="#s" x="869.5" y="674.8"/><use href="#s" x="962.6" y="628.5"/><use href="#s" x="815.3" y="871.4"/><use href="#s" x="852.5" y="802.2"/><use href="#s" x="870.3" y="772.4"/><use href="#s" x="881.8" y="670.8"/><use href="#s" x="961.9" y="619.6"/><use href="#s" x="697.1" y="763.5"/><use href="#s" x="880.4" y="757.7"/><use href="#s" x="935.1" y="633.4"/><use href="#s" x="750.1" y="741.4"/><use href="#s" x="972.5" y="614.7"/><use href="#s" x="898.9" y="658.5"/><use href="#s" x="882.0" y="760.6"/><use href="#s" x="779.0" y="730.1"/><use href="#s" x="936.7" y="671.9"/><use href="#s" x="856.0" y="681.2"/><use href="#s" x="705.4" y="761.6"/><use href="#s" x="814.3" y="879.9"/><use href="#s" x="475.0" y="793.5"/><use href="#s" x="520.8" y="785.6"/><use href="#s" x="624.1" y="777.6"/></g><g stroke="#00c5a7"><use href="#s" x="896.3" y="734.3"/><use href="#s" x="877.7" y="762.0"/><use href="#s" x="860.7" y="790.4"/><use href="#s" x="898.2" y="662.2"/><use href="#s" x="881.3" y="754.9"/><use href="#s" x="810.5" y="871.7"/><use href="#s" x="844.5" y="688.6"/><use href="#s" x="919.4" y="696.1"/><use href="#s" x="868.3" y="683.3"/><use href="#s" x="926.4" y="642.7"/><use href="#s" x="776.7" y="733.7"/><use href="#s" x="953.9" y="633.7"/><use href="#s" x="968.2" y="607.1"/><use href="#s" x="869.9" y="776.1"/><use href="#s" x="836.8" y="697.8"/><use href="#s" x="858.4" y="795.7"/><use href="#s" x="868.1" y="778.2"/><use href="#s" x="824.6" y="713.5"/><use href="#s" x="838.4" y="828.3"/><use href="#s" x="935.3" y="663.7"/><use href="#s" x="936.7" y="636.8"/><use href="#s" x="915.6" y="647.3"/><use href="#s" x="811.0" y="874.8"/><use href="#s" x="906.3" y="716.1"/><use href="#s" x="886.8" y="751.2"/><use href="#s" x="751.9" y="744.2"/><use href="#s" x="845.2" y="695.5"/><use href="#s" x="687.5" y="767.3"/><use href="#s" x="948.8" y="628.2"/><use href="#s" x="832.2" y="840.0"/><use href="#s" x="731.4" y="754.9"/><use href="#s" x="954.5" y="633.8"/><use href="#s" x="406.2" y="800.1"/></g><g stroke="#00c79f"><use href="#s" x="741.2" y="749.8"/><use href="#s" x="848.4" y="801.4"/><use href="#s" x="856.9" y="792.5"/><use href="#s" x="898.8" y="722.2"/><use href="#s" x="874.5" y="678.1"/><use href="#s" x="878.7" y="753.5"/><use href="#s" x="924.7" y="678.6"/><use href="#s" x="878.1" y="758.7"/><use href="#s" x="816.6" y="859.6"/><use href="#s" x="738.6" y="752.5"/><use href="#s" x="784.4" y="731.0"/><use href="#s" x="887.8" y="738.5"/><use href="#s" x="803.2" y="890.4"/><use href="#s" x="876.7" y="759.4"/><use href="#s" x="723.5" y="758.0"/><use href="#s" x="828.6" y="707.3"/><use href="#s" x="847.1" y="696.5"/><use href="#s" x="761.8" y="746.7"/><use href="#s" x="848.6" y="809.5"/><use href="#s" x="829.9" y="834.2"/><use href="#s" x="795.3" y="726.4"/><use href="#s" x="944.5" y="640.8"/><use href="#s" x="841.2" y="818.2"/><use href="#s" x="940.2" y="633.4"/><use href="#s" x="938.7" y="660.0"/><use href="#s" x="823.3" y="710.8"/><use href="#s" x="914.2" y="656.3"/><use href="#s" x="929.2" y="648.0"/><use href="#s" x="860.2" y="787.5"/><use href="#s" x="934.9" y="642.1"/><use href="#s" x="719.0" y="761.0"/><use href="#s" x="773.6" y="738.3"/><use href="#s" x="956.4" y="635.1"/><use href="#s" x="657.5" y="776.8"/><use href="#s" x="796.4" y="907.5"/><use href="#s" x="790.1" y="926.7"/><use href="#s" x="351.2" y="804.5"/><use href="#s" x="618.1" y="782.9"/><use href="#s" x="339.0" y="808.0"/></g><g stroke="#00c996"><use href="#s" x="662.3" y="779.0"/><use href="#s" x="920.2" y="681.0"/><use href="#s" x="791.0" y="731.8"/><use href="#s" x="833.8" y="825.4"/><use href="#s" x="701.6" y="767.5"/><use href="#s" x="913.5" y="655.1"/><use href="#s" x="933.8" y="640.6"/><use href="#s" x="668.4" y="774.5"/><use href="#s" x="730.8" y="759.9"/><use href="#s" x="723.7" y="759.6"/><use href="#s" x="926.9" y="672.6"/><use href="#s" x="741.7" y="753.1"/><use href="#s" x="951.2" y="639.9"/><use href="#s" x="732.0" y="759.0"/><use href="#s" x="795.4" y="726.7"/><use href="#s" x="678.9" y="773.4"/><use href="#s" x="846.4" y="805.1"/><use href="#s" x="895.4" y="668.4"/><use href="#s" x="836.7" y="705.1"/><use href="#s" x="822.6" y="841.4"/><use href="#s" x="898.2" y="720.9"/><use href="#s" x="695.7" y="768.1"/><use href="#s" x="700.9" y="769.6"/><use href="#s" x="816.3" y="852.5"/><use href="#s" x="871.1" y="768.8"/><use href="#s" x="857.4" y="794.5"/><use href="#s" x="813.2" y="863.0"/><use href="#s" x="695.9" y="770.2"/><use href="#s" x="852.9" y="797.3"/><use href="#s" x="930.3" y="647.0"/><use href="#s" x="793.8" y="730.8"/><use href="#s" x="751.1" y="751.1"/><use href="#s" x="641.9" y="782.5"/><use href="#s" x="632.0" y="781.5"/><use href="#s" x="784.9" y="924.7"/><use href="#s" x="406.5" y="806.4"/><use href="#s" x="544.9" y="798.4"/><use href="#s" x="443.9" y="803.6"/><use href="#s" x="383.9" y="806.8"/></g><g stroke="#00cb8c"><use href="#s" x="905.9" y="701.3"/><use href="#s" x="825.3" y="832.8"/><use href="#s" x="935.1" y="649.2"/><use href="#s" x="871.9" y="755.5"/><use href="#s" x="796.7" y="884.0"/><use href="#s" x="766.0" y="749.4"/><use href="#s" x="687.5" y="773.5"/><use href="#s" x="790.1" y="731.4"/><use href="#s" x="926.9" y="665.5"/><use href="#s" x="678.0" y="776.9"/><use href="#s" x="800.6" y="728.5"/><use href="#s" x="936.1" y="645.9"/><use href="#s" x="884.3" y="682.9"/><use href="#s" x="812.5" y="850.3"/><use href="#s" x="654.4" y="785.0"/><use href="#s" x="831.2" y="709.2"/><use href="#s" x="948.2" y="639.8"/><use href="#s" x="739.8" y="757.7"/><use href="#s" x="706.4" y="771.4"/><use href="#s" x="665.5" y="780.2"/><use href="#s" x="839.4" y="706.2"/><use href="#s" x="902.8" y="704.3"/><use href="#s" x="698.6" y="771.2"/><use href="#s" x="921.0" y="674.3"/><use href="#s" x="902.1" y="708.8"/><use href="#s" x="916.0" y="655.3"/><use href="#s" x="845.7" y="806.2"/><use href="#s" x="864.8" y="774.1"/><use href="#s" x="880.1" y="747.9"/><use href="#s" x="759.1" y="751.2"/><use href="#s" x="818.6" y="840.8"/><use href="#s" x="863.9" y="775.4"/><use href="#s" x="872.4" y="760.4"/><use href="#s" x="930.4" y="649.7"/><use href="#s" x="700.5" y="770.8"/><use href="#s" x="681.8" y="774.8"/><use href="#s" x="680.6" y="775.7"/><use href="#s" x="789.6" y="904.2"/><use href="#s" x="823.3" y="833.3"/><use href="#s" x="847.2" y="698.6"/><use href="#s" x="797.5" y="890.5"/><use href="#s" x="721.6" y="764.1"/><use href="#s" x="790.4" y="732.7"/><use href="#s" x="789.6" y="907.5"/><use href="#s" x="776.4" y="939.7"/><use href="#s" x="787.5" y="919.3"/><use href="#s" x="634.8" y="782.7"/><use href="#s" x="420.4" y="811.3"/></g><g stroke="#00cd81"><use href="#s" x="846.4" y="798.3"/><use href="#s" x="915.3" y="678.6"/><use href="#s" x="914.0" y="660.1"/><use href="#s" x="689.2" y="776.9"/><use href="#s" x="921.8" y="670.8"/><use href="#s" x="866.2" y="762.8"/><use href="#s" x="663.4" y="782.1"/><use href="#s" x="811.0" y="860.1"/><use href="#s" x="784.1" y="916.9"/><use href="#s" x="837.0" y="810.8"/><use href="#s" x="702.6" y="772.7"/><use href="#s" x="685.2" y="776.2"/><use href="#s" x="813.0" y="851.3"/><use href="#s" x="880.8" y="740.1"/><use href="#s" x="911.3" y="691.8"/><use href="#s" x="930.2" y="658.1"/><use href="#s" x="889.0" y="730.9"/><use href="#s" x="889.4" y="730.5"/><use href="#s" x="856.8" y="696.3"/><use href="#s" x="922.1" y="663.3"/><use href="#s" x="784.9" y="908.6"/><use href="#s" x="928.1" y="654.7"/><use href="#s" x="920.7" y="674.7"/><use href="#s" x="790.1" y="900.4"/><use href="#s" x="914.9" y="690.0"/><use href="#s" x="843.0" y="799.6"/><use href="#s" x="682.0" y="775.5"/><use href="#s" x="873.7" y="756.8"/><use href="#s" x="782.8" y="911.4"/><use href="#s" x="815.4" y="840.7"/><use href="#s" x="715.6" y="770.2"/><use href="#s" x="784.0" y="918.0"/><use href="#s" x="867.5" y="694.4"/><use href="#s" x="863.6" y="766.1"/><use href="#s" x="804.8" y="869.6"/><use href="#s" x="795.6" y="886.4"/><use href="#s" x="851.5" y="788.3"/><use href="#s" x="865.8" y="770.6"/><use href="#s" x="802.9" y="873.6"/><use href="#s" x="923.5" y="662.1"/><use href="#s" x="890.3" y="674.4"/><use href="#s" x="770.1" y="951.5"/></g><g stroke="#00cd76"><use href="#s" x="732.5" y="769.9"/><use href="#s" x="882.4" y="682.4"/><use href="#s" x="875.3" y="743.2"/><use href="#s" x="902.1" y="673.9"/><use href="#s" x="795.2" y="883.6"/><use href="#s" x="814.0" y="725.7"/><use href="#s" x="746.1" y="761.7"/><use href="#s" x="806.1" y="729.5"/><use href="#s" x="790.8" y="888.1"/><use href="#s" x="876.5" y="686.8"/><use href="#s" x="631.3" y="793.3"/><use href="#s" x="827.8" y="824.5"/><use href="#s" x="903.3" y="672.8"/><use href="#s" x="886.2" y="678.9"/><use href="#s" x="860.1" y="771.3"/><use href="#s" x="773.2" y="748.8"/><use href="#s" x="902.7" y="702.2"/><use href="#s" x="685.8" y="776.9"/><use href="#s" x="796.3" y="885.8"/><use href="#s" x="830.7" y="820.7"/><use href="#s" x="922.9" y="658.5"/><use href="#s" x="689.7" y="778.1"/><use href="#s" x="911.1" y="680.3"/><use href="#s" x="771.2" y="748.6"/><use href="#s" x="892.3" y="675.5"/><use href="#s" x="789.6" y="739.2"/><use href="#s" x="905.3" y="698.4"/><use href="#s" x="727.0" y="766.0"/><use href="#s" x="788.7" y="902.1"/><use href="#s" x="739.4" y="764.5"/><use href="#s" x="869.4" y="756.6"/><use href="#s" x="720.5" y="769.6"/><use href="#s" x="662.0" y="786.6"/><use href="#s" x="798.1" y="878.3"/><use href="#s" x="802.5" y="870.5"/><use href="#s" x="761.3" y="967.5"/><use href="#s" x="764.0" y="961.9"/><use href="#s" x="447.9" y="811.5"/><use href="#s" x="438.9" y="811.9"/><use href="#s" x="594.1" y="795.1"/><use href="#s" x="755.0" y="985.0"/></g><g stroke="#00ce69"><use href="#s" x="796.2" y="880.0"/><use href="#s" x="804.6" y="858.2"/><use href="#s" x="728.3" y="769.4"/><use href="#s" x="863.8" y="698.4"/><use href="#s" x="793.1" y="888.3"/><use href="#s" x="668.0" y="786.1"/><use href="#s" x="914.8" y="670.4"/><use href="#s" x="865.2" y="755.0"/><use href="#s" x="800.7" y="867.1"/><use href="#s" x="835.7" y="807.5"/><use href="#s" x="702.7" y="776.4"/><use href="#s" x="779.6" y="913.9"/><use href="#s" x="791.0" y="741.5"/><use href="#s" x="905.8" y="674.2"/><use href="#s" x="901.8" y="678.0"/><use href="#s" x="829.0" y="815.9"/><use href="#s" x="907.2" y="678.0"/><use href="#s" x="893.5" y="677.7"/><use href="#s" x="761.7" y="754.1"/><use href="#s" x="632.8" y="791.7"/><use href="#s" x="903.8" y="689.3"/><use href="#s" x="771.0" y="926.1"/><use href="#s" x="861.5" y="763.7"/><use href="#s" x="837.0" y="807.9"/><use href="#s" x="860.3" y="765.2"/><use href="#s" x="691.0" y="779.9"/><use href="#s" x="798.9" y="875.3"/><use href="#s" x="764.2" y="755.2"/><use href="#s" x="786.2" y="897.3"/><use href="#s" x="859.3" y="770.2"/><use href="#s" x="647.0" y="794.3"/><use href="#s" x="880.2" y="684.6"/><use href="#s" x="739.2" y="767.7"/><use href="#s" x="901.8" y="695.9"/><use href="#s" x="863.5" y="698.9"/><use href="#s" x="599.9" y="798.3"/><use href="#s" x="756.9" y="971.4"/><use href="#s" x="595.4" y="802.6"/><use href="#s" x="591.6" y="802.7"/><use href="#s" x="464.5" y="815.3"/></g><g stroke="#00ce5b"><use href="#s" x="714.3" y="778.7"/><use href="#s" x="860.1" y="701.8"/><use href="#s" x="807.0" y="843.3"/><use href="#s" x="707.8" y="783.5"/><use href="#s" x="771.9" y="754.2"/><use href="#s" x="619.7" y="800.7"/><use href="#s" x="703.0" y="783.3"/><use href="#s" x="834.6" y="804.4"/><use href="#s" x="736.8" y="766.8"/><use href="#s" x="684.2" y="784.1"/><use href="#s" x="772.5" y="927.6"/><use href="#s" x="790.1" y="874.8"/><use href="#s" x="694.7" y="780.5"/><use href="#s" x="875.2" y="690.3"/><use href="#s" x="815.0" y="727.0"/><use href="#s" x="766.2" y="757.9"/><use href="#s" x="615.5" y="802.3"/><use href="#s" x="790.4" y="745.8"/><use href="#s" x="882.9" y="729.2"/><use href="#s" x="891.1" y="710.3"/><use href="#s" x="657.8" y="794.3"/><use href="#s" x="814.5" y="831.5"/><use href="#s" x="858.0" y="705.9"/><use href="#s" x="802.3" y="861.9"/><use href="#s" x="649.8" y="791.4"/><use href="#s" x="755.8" y="953.2"/><use href="#s" x="832.7" y="721.1"/><use href="#s" x="737.9" y="768.3"/><use href="#s" x="727.7" y="773.1"/><use href="#s" x="797.8" y="740.3"/><use href="#s" x="889.7" y="717.5"/><use href="#s" x="904.7" y="676.8"/><use href="#s" x="880.3" y="688.8"/><use href="#s" x="785.6" y="888.0"/><use href="#s" x="773.3" y="920.9"/><use href="#s" x="759.2" y="758.8"/><use href="#s" x="815.4" y="830.3"/><use href="#s" x="696.6" y="783.2"/><use href="#s" x="777.2" y="749.3"/><use href="#s" x="871.6" y="740.0"/><use href="#s" x="678.9" y="785.8"/></g><g stroke="#49cd4e"><use href="#s" x="759.0" y="944.5"/><use href="#s" x="757.4" y="760.8"/><use href="#s" x="805.1" y="842.8"/><use href="#s" x="837.4" y="718.7"/><use href="#s" x="615.7" y="806.1"/><use href="#s" x="870.6" y="736.6"/><use href="#s" x="846.6" y="780.4"/><use href="#s" x="606.4" y="807.3"/><use href="#s" x="774.2" y="907.7"/><use href="#s" x="828.5" y="723.4"/><use href="#s" x="775.4" y="752.5"/><use href="#s" x="821.8" y="729.5"/><use href="#s" x="840.7" y="793.2"/><use href="#s" x="892.3" y="707.0"/><use href="#s" x="882.2" y="692.5"/><use href="#s" x="765.5" y="756.3"/><use href="#s" x="860.2" y="756.7"/><use href="#s" x="823.6" y="728.2"/><use href="#s" x="811.6" y="827.1"/><use href="#s" x="786.6" y="882.1"/><use href="#s" x="862.3" y="751.3"/><use href="#s" x="816.9" y="832.8"/><use href="#s" x="908.5" y="679.7"/><use href="#s" x="901.0" y="688.9"/><use href="#s" x="600.7" y="809.3"/><use href="#s" x="866.6" y="698.9"/><use href="#s" x="859.6" y="761.6"/><use href="#s" x="894.6" y="684.6"/><use href="#s" x="804.4" y="849.1"/><use href="#s" x="832.6" y="719.4"/><use href="#s" x="875.0" y="693.4"/><use href="#s" x="782.1" y="891.4"/><use href="#s" x="902.1" y="684.8"/><use href="#s" x="791.1" y="879.4"/><use href="#s" x="818.6" y="822.7"/><use href="#s" x="826.6" y="726.0"/><use href="#s" x="791.3" y="874.2"/><use href="#s" x="708.7" y="778.7"/><use href="#s" x="837.8" y="801.0"/><use href="#s" x="886.8" y="715.2"/><use href="#s" x="614.8" y="803.9"/><use href="#s" x="772.4" y="912.4"/><use href="#s" x="584.6" y="808.6"/><use href="#s" x="593.9" y="809.3"/><use href="#s" x="749.6" y="977.1"/><use href="#s" x="759.5" y="950.6"/><use href="#s" x="474.6" y="821.6"/><use href="#s" x="564.5" y="809.4"/><use href="#s" x="515.9" y="819.4"/><use href="#s" x="510.0" y="818.1"/><use href="#s" x="285.0" y="830.0"/></g><g stroke="#6dcc3f"><use href="#s" x="751.4" y="955.6"/><use href="#s" x="666.4" y="796.5"/><use href="#s" x="834.5" y="794.6"/><use href="#s" x="871.7" y="700.7"/><use href="#s" x="744.0" y="773.2"/><use href="#s" x="797.1" y="857.9"/><use href="#s" x="812.3" y="739.7"/><use href="#s" x="865.1" y="749.1"/><use href="#s" x="810.5" y="828.9"/><use href="#s" x="859.9" y="751.5"/><use href="#s" x="739.6" y="773.6"/><use href="#s" x="707.6" y="781.0"/><use href="#s" x="702.0" y="785.4"/><use href="#s" x="764.7" y="762.0"/><use href="#s" x="870.6" y="739.5"/><use href="#s" x="809.8" y="739.0"/><use href="#s" x="870.6" y="696.3"/><use href="#s" x="766.3" y="920.7"/><use href="#s" x="806.7" y="836.0"/><use href="#s" x="859.7" y="707.2"/><use href="#s" x="660.0" y="797.8"/><use href="#s" x="861.9" y="752.5"/><use href="#s" x="819.2" y="815.8"/><use href="#s" x="772.5" y="905.6"/><use href="#s" x="878.6" y="694.8"/><use href="#s" x="646.7" y="801.1"/><use href="#s" x="824.9" y="811.2"/><use href="#s" x="785.1" y="882.3"/><use href="#s" x="889.2" y="684.1"/><use href="#s" x="839.2" y="789.7"/><use href="#s" x="605.5" y="811.7"/><use href="#s" x="822.4" y="730.6"/><use href="#s" x="617.3" y="804.7"/><use href="#s" x="673.6" y="795.1"/><use href="#s" x="845.2" y="781.4"/><use href="#s" x="819.3" y="819.5"/><use href="#s" x="881.6" y="720.3"/><use href="#s" x="885.3" y="693.0"/><use href="#s" x="773.7" y="762.3"/><use href="#s" x="663.7" y="797.1"/><use href="#s" x="781.6" y="754.2"/><use href="#s" x="725.6" y="776.6"/><use href="#s" x="749.0" y="767.6"/><use href="#s" x="605.0" y="811.8"/><use href="#s" x="864.4" y="710.5"/><use href="#s" x="826.0" y="807.6"/><use href="#s" x="794.8" y="858.3"/><use href="#s" x="884.5" y="703.5"/><use href="#s" x="581.2" y="814.4"/></g><g stroke="#89ca30"><use href="#s" x="849.0" y="718.5"/><use href="#s" x="824.6" y="801.7"/><use href="#s" x="759.7" y="937.1"/><use href="#s" x="875.8" y="718.5"/><use href="#s" x="873.0" y="707.2"/><use href="#s" x="723.4" y="781.6"/><use href="#s" x="718.3" y="786.8"/><use href="#s" x="658.3" y="800.7"/><use href="#s" x="714.4" y="785.1"/><use href="#s" x="676.9" y="796.6"/><use href="#s" x="879.7" y="705.7"/><use href="#s" x="750.9" y="944.2"/><use href="#s" x="741.9" y="973.3"/><use href="#s" x="695.3" y="787.2"/><use href="#s" x="617.5" y="814.4"/><use href="#s" x="851.3" y="759.5"/><use href="#s" x="786.6" y="864.1"/><use href="#s" x="799.8" y="845.8"/><use href="#s" x="814.8" y="820.2"/><use href="#s" x="839.9" y="720.9"/><use href="#s" x="824.3" y="800.6"/><use href="#s" x="809.1" y="739.8"/><use href="#s" x="864.2" y="742.1"/><use href="#s" x="854.0" y="713.3"/><use href="#s" x="740.4" y="961.2"/><use href="#s" x="874.0" y="712.9"/><use href="#s" x="655.5" y="801.5"/><use href="#s" x="654.3" y="805.3"/><use href="#s" x="666.8" y="797.4"/><use href="#s" x="775.3" y="759.7"/><use href="#s" x="738.8" y="772.8"/><use href="#s" x="886.1" y="691.1"/><use href="#s" x="777.9" y="894.8"/><use href="#s" x="768.2" y="915.9"/><use href="#s" x="751.7" y="776.5"/><use href="#s" x="686.0" y="793.2"/><use href="#s" x="826.4" y="729.9"/><use href="#s" x="835.7" y="786.9"/><use href="#s" x="748.3" y="956.3"/><use href="#s" x="771.3" y="906.4"/><use href="#s" x="620.4" y="811.2"/><use href="#s" x="579.3" y="818.2"/><use href="#s" x="373.8" y="835.4"/></g><g stroke="#a0c81f"><use href="#s" x="749.2" y="772.0"/><use href="#s" x="808.1" y="745.2"/><use href="#s" x="847.7" y="770.6"/><use href="#s" x="856.8" y="746.7"/><use href="#s" x="673.0" y="797.0"/><use href="#s" x="862.1" y="708.4"/><use href="#s" x="851.1" y="719.5"/><use href="#s" x="808.1" y="825.6"/><use href="#s" x="744.2" y="953.4"/><use href="#s" x="751.5" y="944.2"/><use href="#s" x="704.7" y="791.8"/><use href="#s" x="817.3" y="809.9"/><use href="#s" x="830.1" y="729.3"/><use href="#s" x="864.6" y="728.1"/><use href="#s" x="809.0" y="746.1"/><use href="#s" x="845.6" y="723.7"/><use href="#s" x="686.3" y="795.1"/><use href="#s" x="634.5" y="809.7"/><use href="#s" x="869.1" y="717.4"/><use href="#s" x="735.3" y="783.0"/><use href="#s" x="866.8" y="734.0"/><use href="#s" x="814.4" y="814.9"/><use href="#s" x="836.0" y="784.0"/><use href="#s" x="617.9" y="813.7"/><use href="#s" x="770.5" y="888.2"/><use href="#s" x="881.2" y="712.6"/><use href="#s" x="821.9" y="735.8"/><use href="#s" x="707.1" y="791.6"/><use href="#s" x="875.1" y="707.2"/><use href="#s" x="680.3" y="799.9"/><use href="#s" x="823.9" y="731.4"/><use href="#s" x="846.7" y="765.1"/><use href="#s" x="777.0" y="893.2"/><use href="#s" x="821.8" y="736.5"/><use href="#s" x="639.8" y="811.4"/><use href="#s" x="784.9" y="866.4"/><use href="#s" x="677.2" y="799.7"/><use href="#s" x="840.0" y="775.4"/><use href="#s" x="856.2" y="746.7"/><use href="#s" x="853.0" y="718.4"/><use href="#s" x="633.7" y="808.2"/><use href="#s" x="777.2" y="885.2"/><use href="#s" x="775.2" y="764.4"/><use href="#s" x="678.5" y="802.9"/><use href="#s" x="861.4" y="739.1"/><use href="#s" x="753.1" y="943.0"/><use href="#s" x="801.7" y="834.5"/><use href="#s" x="771.7" y="768.8"/><use href="#s" x="822.2" y="801.5"/><use href="#s" x="812.0" y="809.4"/><use href="#s" x="867.1" y="725.3"/><use href="#s" x="785.9" y="763.6"/><use href="#s" x="613.9" y="815.3"/><use href="#s" x="784.7" y="873.1"/><use href="#s" x="722.2" y="785.6"/><use href="#s" x="747.9" y="948.7"/><use href="#s" x="568.1" y="822.6"/><use href="#s" x="716.7" y="1009.9"/><use href="#s" x="725.6" y="1007.7"/><use href="#s" x="406.1" y="837.2"/></g><g stroke="#b5c60b"><use href="#s" x="863.0" y="731.3"/><use href="#s" x="857.2" y="716.9"/><use href="#s" x="746.6" y="937.5"/><use href="#s" x="732.5" y="983.1"/><use href="#s" x="823.8" y="795.5"/><use href="#s" x="773.9" y="880.6"/><use href="#s" x="853.6" y="753.0"/><use href="#s" x="705.5" y="792.0"/><use href="#s" x="728.2" y="987.6"/><use href="#s" x="794.7" y="842.5"/><use href="#s" x="843.7" y="758.7"/><use href="#s" x="588.2" y="822.1"/><use href="#s" x="784.0" y="866.6"/><use href="#s" x="731.2" y="985.3"/><use href="#s" x="773.1" y="770.4"/><use href="#s" x="849.5" y="752.6"/><use href="#s" x="844.6" y="723.3"/><use href="#s" x="575.6" y="826.9"/><use href="#s" x="758.3" y="918.3"/><use href="#s" x="697.3" y="796.3"/><use href="#s" x="733.2" y="982.2"/><use href="#s" x="823.0" y="793.8"/><use href="#s" x="739.1" y="958.6"/><use href="#s" x="728.0" y="987.9"/><use href="#s" x="837.7" y="777.3"/><use href="#s" x="863.6" y="718.2"/><use href="#s" x="629.0" y="810.7"/><use href="#s" x="687.3" y="798.0"/><use href="#s" x="744.5" y="949.2"/><use href="#s" x="787.5" y="862.4"/><use href="#s" x="766.4" y="898.5"/><use href="#s" x="809.3" y="813.3"/><use href="#s" x="692.1" y="797.8"/><use href="#s" x="799.3" y="749.0"/><use href="#s" x="808.2" y="744.4"/><use href="#s" x="583.4" y="825.4"/><use href="#s" x="868.1" y="726.8"/><use href="#s" x="843.0" y="720.6"/><use href="#s" x="837.4" y="780.1"/><use href="#s" x="807.4" y="822.4"/><use href="#s" x="826.8" y="739.3"/><use href="#s" x="794.6" y="838.9"/><use href="#s" x="838.6" y="772.9"/><use href="#s" x="762.3" y="910.0"/><use href="#s" x="799.3" y="835.5"/><use href="#s" x="824.7" y="736.1"/><use href="#s" x="586.6" y="822.4"/><use href="#s" x="752.9" y="919.3"/><use href="#s" x="728.7" y="986.8"/><use href="#s" x="836.6" y="767.7"/><use href="#s" x="873.8" y="709.3"/><use href="#s" x="716.5" y="1015.8"/><use href="#s" x="518.5" y="833.4"/><use href="#s" x="406.6" y="845.2"/><use href="#s" x="505.0" y="834.9"/></g><g stroke="#c8c300"><use href="#s" x="579.9" y="837.4"/><use href="#s" x="653.8" y="810.5"/><use href="#s" x="786.8" y="851.1"/><use href="#s" x="714.5" y="791.8"/><use href="#s" x="745.7" y="937.4"/><use href="#s" x="821.0" y="788.3"/><use href="#s" x="639.6" y="814.2"/><use href="#s" x="727.4" y="987.8"/><use href="#s" x="785.4" y="760.8"/><use href="#s" x="854.8" y="723.0"/><use href="#s" x="678.4" y="806.1"/><use href="#s" x="850.0" y="720.6"/><use href="#s" x="594.4" y="829.2"/><use href="#s" x="833.8" y="777.9"/><use href="#s" x="770.8" y="879.9"/><use href="#s" x="671.0" y="808.5"/><use href="#s" x="817.5" y="743.1"/><use href="#s" x="705.2" y="796.3"/><use href="#s" x="783.6" y="864.7"/><use href="#s" x="814.7" y="810.7"/><use href="#s" x="844.7" y="760.4"/><use href="#s" x="842.0" y="732.6"/><use href="#s" x="821.8" y="794.8"/><use href="#s" x="774.7" y="767.6"/><use href="#s" x="809.4" y="754.2"/><use href="#s" x="669.4" y="807.8"/><use href="#s" x="796.6" y="834.0"/><use href="#s" x="657.2" y="815.2"/><use href="#s" x="812.2" y="808.4"/><use href="#s" x="818.5" y="793.3"/><use href="#s" x="563.3" y="832.3"/><use href="#s" x="620.3" y="820.7"/><use href="#s" x="861.3" y="714.5"/><use href="#s" x="770.2" y="887.8"/><use href="#s" x="798.5" y="755.0"/><use href="#s" x="769.0" y="879.8"/><use href="#s" x="821.2" y="794.8"/><use href="#s" x="838.4" y="730.9"/><use href="#s" x="755.5" y="782.5"/><use href="#s" x="848.7" y="726.7"/><use href="#s" x="711.4" y="794.6"/><use href="#s" x="757.5" y="904.0"/><use href="#s" x="777.3" y="768.5"/><use href="#s" x="811.8" y="809.4"/><use href="#s" x="797.5" y="753.5"/><use href="#s" x="779.2" y="866.2"/><use href="#s" x="798.7" y="757.1"/><use href="#s" x="825.8" y="738.6"/><use href="#s" x="714.5" y="992.9"/><use href="#s" x="770.4" y="889.7"/><use href="#s" x="577.8" y="830.5"/><use href="#s" x="847.1" y="749.0"/><use href="#s" x="729.8" y="965.1"/><use href="#s" x="672.2" y="806.4"/><use href="#s" x="824.5" y="792.6"/><use href="#s" x="796.5" y="828.9"/><use href="#s" x="716.6" y="1009.7"/><use href="#s" x="364.0" y="846.8"/><use href="#s" x="503.7" y="836.5"/></g><g stroke="#d9c100"><use href="#s" x="754.0" y="912.8"/><use href="#s" x="758.9" y="904.7"/><use href="#s" x="726.8" y="970.2"/><use href="#s" x="722.1" y="798.9"/><use href="#s" x="738.7" y="788.4"/><use href="#s" x="762.9" y="883.6"/><use href="#s" x="718.5" y="995.8"/><use href="#s" x="585.2" y="830.2"/><use href="#s" x="798.2" y="827.8"/><use href="#s" x="743.9" y="929.4"/><use href="#s" x="794.5" y="760.7"/><use href="#s" x="600.0" y="826.3"/><use href="#s" x="571.8" y="831.9"/><use href="#s" x="827.7" y="777.7"/><use href="#s" x="598.3" y="827.7"/><use href="#s" x="746.2" y="789.0"/><use href="#s" x="775.1" y="868.5"/><use href="#s" x="713.3" y="799.2"/><use href="#s" x="715.4" y="988.8"/><use href="#s" x="790.8" y="838.0"/><use href="#s" x="758.9" y="784.1"/><use href="#s" x="548.0" y="843.1"/><use href="#s" x="745.4" y="919.2"/><use href="#s" x="719.0" y="794.5"/><use href="#s" x="785.2" y="767.1"/><use href="#s" x="758.6" y="898.0"/><use href="#s" x="726.4" y="792.4"/><use href="#s" x="762.8" y="889.0"/><use href="#s" x="792.8" y="827.6"/><use href="#s" x="680.7" y="804.3"/><use href="#s" x="678.1" y="807.2"/><use href="#s" x="782.9" y="848.3"/><use href="#s" x="637.6" y="825.4"/><use href="#s" x="830.9" y="782.4"/><use href="#s" x="714.6" y="999.6"/><use href="#s" x="694.2" y="802.5"/><use href="#s" x="812.5" y="750.0"/><use href="#s" x="615.4" y="822.0"/><use href="#s" x="578.9" y="837.7"/><use href="#s" x="627.4" y="821.7"/><use href="#s" x="591.8" y="831.9"/><use href="#s" x="597.2" y="831.0"/><use href="#s" x="658.8" y="812.2"/><use href="#s" x="583.5" y="833.0"/><use href="#s" x="766.5" y="884.2"/><use href="#s" x="834.6" y="741.3"/><use href="#s" x="831.9" y="778.3"/><use href="#s" x="772.8" y="876.8"/><use href="#s" x="799.7" y="823.2"/><use href="#s" x="739.3" y="946.3"/><use href="#s" x="576.2" y="835.7"/><use href="#s" x="827.8" y="780.7"/><use href="#s" x="705.4" y="800.4"/><use href="#s" x="679.1" y="807.2"/><use href="#s" x="749.7" y="916.4"/><use href="#s" x="616.6" y="827.7"/><use href="#s" x="649.6" y="821.0"/><use href="#s" x="759.0" y="906.0"/><use href="#s" x="748.2" y="929.1"/><use href="#s" x="673.0" y="812.9"/><use href="#s" x="665.9" y="809.4"/><use href="#s" x="624.0" y="821.4"/><use href="#s" x="814.0" y="805.3"/><use href="#s" x="571.4" y="831.6"/><use href="#s" x="753.7" y="912.3"/><use href="#s" x="843.0" y="746.6"/><use href="#s" x="845.9" y="752.8"/><use href="#s" x="577.8" y="838.8"/><use href="#s" x="832.2" y="774.9"/><use href="#s" x="824.5" y="785.6"/><use href="#s" x="837.1" y="737.8"/><use href="#s" x="783.7" y="768.2"/><use href="#s" x="663.0" y="818.3"/><use href="#s" x="761.2" y="896.3"/><use href="#s" x="461.9" y="849.3"/><use href="#s" x="298.5" y="862.2"/><use href="#s" x="507.5" y="845.7"/><use href="#s" x="514.7" y="846.9"/><use href="#s" x="451.3" y="854.4"/><use href="#s" x="415.9" y="852.2"/><use href="#s" x="451.5" y="852.8"/><use href="#s" x="463.6" y="843.5"/><use href="#s" x="302.5" y="860.0"/><use href="#s" x="382.5" y="855.0"/></g><g stroke="#e8be00"><use href="#s" x="830.7" y="741.8"/><use href="#s" x="627.3" y="825.5"/><use href="#s" x="594.5" y="829.5"/><use href="#s" x="734.6" y="945.6"/><use href="#s" x="719.3" y="800.7"/><use href="#s" x="804.9" y="804.9"/><use href="#s" x="610.7" y="823.8"/><use href="#s" x="676.0" y="811.8"/><use href="#s" x="821.4" y="788.7"/><use href="#s" x="552.6" y="842.3"/><use href="#s" x="595.6" y="839.3"/><use href="#s" x="737.1" y="955.4"/><use href="#s" x="797.8" y="818.5"/><use href="#s" x="835.0" y="745.7"/><use href="#s" x="789.4" y="769.1"/><use href="#s" x="688.9" y="809.0"/><use href="#s" x="825.5" y="781.0"/><use href="#s" x="788.6" y="840.9"/><use href="#s" x="817.1" y="750.1"/><use href="#s" x="706.6" y="997.4"/><use href="#s" x="775.3" y="866.5"/><use href="#s" x="561.1" y="841.1"/><use href="#s" x="579.7" y="838.1"/><use href="#s" x="687.2" y="811.8"/><use href="#s" x="702.5" y="808.5"/><use href="#s" x="713.4" y="991.8"/><use href="#s" x="615.9" y="828.5"/><use href="#s" x="571.9" y="837.7"/><use href="#s" x="787.4" y="845.1"/><use href="#s" x="538.6" y="845.5"/><use href="#s" x="755.9" y="901.0"/><use href="#s" x="741.7" y="927.9"/><use href="#s" x="611.0" y="834.8"/><use href="#s" x="573.6" y="844.4"/><use href="#s" x="830.4" y="769.3"/><use href="#s" x="676.8" y="816.4"/><use href="#s" x="735.2" y="945.3"/><use href="#s" x="638.4" y="823.2"/><use href="#s" x="768.2" y="876.7"/><use href="#s" x="587.9" y="837.3"/><use href="#s" x="665.4" y="819.9"/><use href="#s" x="757.3" y="895.8"/><use href="#s" x="725.8" y="972.6"/><use href="#s" x="546.6" y="845.0"/><use href="#s" x="712.3" y="994.8"/><use href="#s" x="834.9" y="752.5"/><use href="#s" x="798.1" y="813.2"/><use href="#s" x="699.1" y="811.9"/><use href="#s" x="666.0" y="816.2"/><use href="#s" x="847.9" y="734.1"/><use href="#s" x="613.1" y="826.5"/><use href="#s" x="723.3" y="972.0"/><use href="#s" x="823.7" y="776.6"/><use href="#s" x="782.2" y="849.0"/><use href="#s" x="753.4" y="790.7"/><use href="#s" x="800.7" y="763.0"/><use href="#s" x="752.1" y="785.0"/><use href="#s" x="541.7" y="843.9"/><use href="#s" x="696.5" y="810.2"/><use href="#s" x="816.9" y="798.8"/><use href="#s" x="834.5" y="761.8"/><use href="#s" x="628.0" y="828.1"/><use href="#s" x="643.3" y="821.8"/><use href="#s" x="804.0" y="798.6"/><use href="#s" x="809.2" y="799.1"/><use href="#s" x="602.9" y="837.2"/><use href="#s" x="627.3" y="828.2"/><use href="#s" x="690.4" y="805.6"/><use href="#s" x="684.7" y="809.8"/><use href="#s" x="579.5" y="838.5"/><use href="#s" x="781.1" y="847.4"/><use href="#s" x="810.5" y="798.9"/><use href="#s" x="797.9" y="761.7"/><use href="#s" x="735.5" y="796.5"/><use href="#s" x="775.8" y="862.6"/><use href="#s" x="659.7" y="818.0"/><use href="#s" x="835.3" y="764.1"/><use href="#s" x="806.9" y="756.2"/><use href="#s" x="541.3" y="839.3"/><use href="#s" x="535.2" y="840.0"/><use href="#s" x="523.2" y="843.4"/><use href="#s" x="512.1" y="848.3"/><use href="#s" x="497.6" y="850.5"/><use href="#s" x="457.5" y="854.3"/></g><g stroke="#f6bc05"><use href="#s" x="612.9" y="837.3"/><use href="#s" x="725.4" y="801.7"/><use href="#s" x="613.0" y="839.9"/><use href="#s" x="822.9" y="752.4"/><use href="#s" x="778.3" y="851.2"/><use href="#s" x="564.2" y="842.7"/><use href="#s" x="803.2" y="766.3"/><use href="#s" x="650.7" y="821.2"/><use href="#s" x="585.3" y="838.6"/><use href="#s" x="768.0" y="867.6"/><use href="#s" x="712.3" y="981.6"/><use href="#s" x="651.5" y="823.2"/><use href="#s" x="833.0" y="750.8"/><use href="#s" x="706.0" y="1002.9"/><use href="#s" x="553.5" y="844.5"/><use href="#s" x="681.1" y="820.8"/><use href="#s" x="713.5" y="980.8"/><use href="#s" x="733.6" y="945.1"/><use href="#s" x="787.9" y="825.3"/><use href="#s" x="713.0" y="809.0"/><use href="#s" x="609.9" y="840.9"/><use href="#s" x="840.2" y="745.3"/><use href="#s" x="825.0" y="777.0"/><use href="#s" x="748.1" y="906.7"/><use href="#s" x="694.2" y="810.8"/><use href="#s" x="768.5" y="868.3"/><use href="#s" x="805.5" y="789.7"/><use href="#s" x="676.0" y="815.7"/><use href="#s" x="580.1" y="848.0"/><use href="#s" x="710.6" y="997.3"/><use href="#s" x="619.6" y="834.5"/><use href="#s" x="534.6" y="852.7"/><use href="#s" x="629.7" y="840.0"/><use href="#s" x="709.4" y="982.7"/><use href="#s" x="748.5" y="914.7"/><use href="#s" x="827.1" y="750.9"/><use href="#s" x="558.6" y="843.4"/><use href="#s" x="757.6" y="887.7"/><use href="#s" x="565.7" y="848.4"/><use href="#s" x="828.2" y="761.2"/><use href="#s" x="539.5" y="850.8"/><use href="#s" x="828.9" y="767.2"/><use href="#s" x="711.3" y="975.8"/><use href="#s" x="627.7" y="834.5"/><use href="#s" x="751.4" y="798.9"/><use href="#s" x="807.5" y="764.7"/><use href="#s" x="833.0" y="763.0"/><use href="#s" x="831.9" y="749.1"/><use href="#s" x="669.8" y="819.7"/><use href="#s" x="597.8" y="838.0"/><use href="#s" x="768.6" y="786.0"/><use href="#s" x="783.3" y="841.4"/><use href="#s" x="706.4" y="811.9"/><use href="#s" x="825.4" y="764.5"/><use href="#s" x="692.5" y="810.6"/><use href="#s" x="787.6" y="823.5"/><use href="#s" x="799.9" y="766.7"/><use href="#s" x="708.4" y="998.2"/><use href="#s" x="510.8" y="855.6"/><use href="#s" x="523.0" y="852.0"/><use href="#s" x="524.2" y="846.7"/><use href="#s" x="523.0" y="856.3"/><use href="#s" x="442.4" y="855.2"/><use href="#s" x="338.6" y="870.4"/><use href="#s" x="543.1" y="853.0"/><use href="#s" x="482.9" y="852.5"/><use href="#s" x="547.1" y="848.8"/><use href="#s" x="470.2" y="850.8"/><use href="#s" x="445.5" y="863.1"/><use href="#s" x="471.4" y="858.6"/><use href="#s" x="487.9" y="857.6"/><use href="#s" x="302.5" y="870.0"/><use href="#s" x="367.5" y="862.5"/></g><g stroke="#ffbb1d"><use href="#s" x="548.8" y="850.5"/><use href="#s" x="770.5" y="789.8"/><use href="#s" x="782.8" y="839.6"/><use href="#s" x="797.4" y="804.1"/><use href="#s" x="819.1" y="761.2"/><use href="#s" x="731.0" y="933.5"/><use href="#s" x="765.7" y="790.7"/><use href="#s" x="732.6" y="936.5"/><use href="#s" x="697.8" y="811.8"/><use href="#s" x="634.7" y="835.2"/><use href="#s" x="648.1" y="832.4"/><use href="#s" x="621.8" y="834.3"/><use href="#s" x="715.8" y="808.0"/><use href="#s" x="741.1" y="903.5"/><use href="#s" x="699.4" y="816.0"/><use href="#s" x="753.1" y="887.5"/><use href="#s" x="797.3" y="806.1"/><use href="#s" x="755.5" y="883.3"/><use href="#s" x="801.4" y="784.8"/><use href="#s" x="777.4" y="851.2"/><use href="#s" x="652.7" y="826.9"/><use href="#s" x="524.2" y="860.1"/><use href="#s" x="747.9" y="801.4"/><use href="#s" x="751.3" y="803.4"/><use href="#s" x="625.2" y="836.2"/><use href="#s" x="691.4" y="821.6"/><use href="#s" x="701.0" y="1009.8"/><use href="#s" x="814.4" y="777.5"/><use href="#s" x="794.8" y="806.9"/><use href="#s" x="707.9" y="810.9"/><use href="#s" x="602.4" y="842.5"/><use href="#s" x="762.5" y="792.2"/><use href="#s" x="565.7" y="847.5"/><use href="#s" x="536.5" y="854.8"/><use href="#s" x="802.9" y="795.9"/><use href="#s" x="809.1" y="760.9"/><use href="#s" x="680.4" y="819.8"/><use href="#s" x="817.2" y="779.6"/><use href="#s" x="730.3" y="941.9"/><use href="#s" x="706.5" y="988.0"/><use href="#s" x="745.2" y="903.5"/><use href="#s" x="785.5" y="831.9"/><use href="#s" x="737.0" y="940.3"/><use href="#s" x="785.1" y="833.6"/><use href="#s" x="782.5" y="780.9"/><use href="#s" x="737.1" y="800.3"/><use href="#s" x="729.0" y="944.6"/><use href="#s" x="720.2" y="960.7"/><use href="#s" x="747.2" y="903.6"/><use href="#s" x="671.8" y="817.1"/><use href="#s" x="698.1" y="817.0"/><use href="#s" x="703.7" y="811.5"/><use href="#s" x="816.8" y="783.2"/><use href="#s" x="730.4" y="930.9"/><use href="#s" x="814.3" y="779.1"/><use href="#s" x="770.0" y="860.8"/><use href="#s" x="757.3" y="892.3"/><use href="#s" x="753.2" y="887.4"/><use href="#s" x="734.8" y="808.3"/><use href="#s" x="692.7" y="820.3"/><use href="#s" x="705.1" y="810.4"/><use href="#s" x="832.0" y="758.7"/><use href="#s" x="800.2" y="769.0"/><use href="#s" x="759.0" y="876.2"/><use href="#s" x="729.8" y="805.7"/><use href="#s" x="522.8" y="853.4"/><use href="#s" x="699.1" y="1008.5"/><use href="#s" x="791.1" y="784.2"/><use href="#s" x="712.6" y="969.9"/><use href="#s" x="602.8" y="843.4"/><use href="#s" x="746.4" y="794.8"/><use href="#s" x="672.8" y="825.6"/><use href="#s" x="763.4" y="874.4"/><use href="#s" x="829.8" y="761.5"/><use href="#s" x="630.1" y="829.5"/><use href="#s" x="669.1" y="825.6"/><use href="#s" x="803.5" y="799.7"/><use href="#s" x="513.9" y="861.0"/><use href="#s" x="453.9" y="863.4"/><use href="#s" x="537.7" y="848.1"/><use href="#s" x="531.0" y="854.9"/><use href="#s" x="414.1" y="865.3"/><use href="#s" x="398.9" y="865.4"/><use href="#s" x="475.4" y="863.0"/><use href="#s" x="439.7" y="870.9"/><use href="#s" x="432.5" y="868.8"/><use href="#s" x="410.2" y="867.1"/><use href="#s" x="496.3" y="862.6"/><use href="#s" x="497.5" y="858.6"/><use href="#s" x="465.4" y="862.1"/><use href="#s" x="277.5" y="875.0"/></g><g stroke="#ffbc2a"><use href="#s" x="810.0" y="772.3"/><use href="#s" x="570.2" y="852.4"/><use href="#s" x="732.7" y="926.5"/><use href="#s" x="753.3" y="797.9"/><use href="#s" x="802.1" y="790.4"/><use href="#s" x="572.3" y="845.8"/><use href="#s" x="724.3" y="941.7"/><use href="#s" x="734.3" y="923.7"/><use href="#s" x="732.4" y="928.0"/><use href="#s" x="743.0" y="901.4"/><use href="#s" x="720.2" y="952.9"/><use href="#s" x="784.6" y="822.1"/><use href="#s" x="594.1" y="852.4"/><use href="#s" x="762.5" y="850.1"/><use href="#s" x="673.5" y="830.9"/><use href="#s" x="805.6" y="775.8"/><use href="#s" x="714.9" y="958.9"/><use href="#s" x="538.1" y="859.7"/><use href="#s" x="702.0" y="818.2"/><use href="#s" x="557.9" y="851.4"/><use href="#s" x="801.6" y="776.2"/><use href="#s" x="729.0" y="938.1"/><use href="#s" x="771.5" y="850.1"/><use href="#s" x="795.4" y="789.9"/><use href="#s" x="755.5" y="797.8"/><use href="#s" x="773.5" y="843.9"/><use href="#s" x="578.2" y="845.7"/><use href="#s" x="711.3" y="977.5"/><use href="#s" x="585.1" y="849.7"/><use href="#s" x="668.8" y="827.9"/><use href="#s" x="722.7" y="804.1"/><use href="#s" x="693.4" y="1013.2"/><use href="#s" x="731.1" y="931.2"/><use href="#s" x="706.9" y="973.8"/><use href="#s" x="545.4" y="860.3"/><use href="#s" x="632.6" y="835.3"/><use href="#s" x="788.9" y="810.2"/><use href="#s" x="606.0" y="846.8"/><use href="#s" x="563.5" y="855.7"/><use href="#s" x="809.4" y="769.9"/><use href="#s" x="669.4" y="825.5"/><use href="#s" x="809.4" y="775.5"/><use href="#s" x="707.6" y="816.7"/><use href="#s" x="704.7" y="821.2"/><use href="#s" x="543.7" y="865.6"/><use href="#s" x="804.8" y="770.7"/><use href="#s" x="646.9" y="835.4"/><use href="#s" x="730.0" y="930.3"/><use href="#s" x="753.2" y="800.2"/><use href="#s" x="715.7" y="964.8"/><use href="#s" x="660.5" y="840.1"/><use href="#s" x="786.7" y="812.9"/><use href="#s" x="670.6" y="826.2"/><use href="#s" x="767.1" y="792.6"/><use href="#s" x="647.1" y="835.1"/><use href="#s" x="552.6" y="864.2"/><use href="#s" x="543.5" y="856.8"/><use href="#s" x="825.3" y="754.4"/><use href="#s" x="626.5" y="843.7"/><use href="#s" x="752.9" y="878.6"/><use href="#s" x="815.0" y="765.3"/><use href="#s" x="729.1" y="940.8"/><use href="#s" x="685.9" y="832.1"/><use href="#s" x="814.7" y="772.9"/><use href="#s" x="760.2" y="870.7"/><use href="#s" x="728.5" y="931.2"/><use href="#s" x="737.7" y="912.9"/><use href="#s" x="714.8" y="814.8"/><use href="#s" x="575.2" y="848.0"/><use href="#s" x="676.6" y="823.8"/><use href="#s" x="717.3" y="951.5"/><use href="#s" x="685.2" y="1019.4"/><use href="#s" x="815.0" y="760.3"/><use href="#s" x="669.3" y="832.5"/><use href="#s" x="545.0" y="862.7"/><use href="#s" x="751.8" y="806.0"/><use href="#s" x="707.6" y="973.3"/><use href="#s" x="810.0" y="784.3"/><use href="#s" x="660.3" y="830.5"/><use href="#s" x="537.1" y="860.7"/><use href="#s" x="486.9" y="864.8"/><use href="#s" x="371.6" y="872.4"/><use href="#s" x="513.6" y="862.8"/><use href="#s" x="457.8" y="868.9"/><use href="#s" x="454.3" y="877.3"/><use href="#s" x="401.5" y="875.3"/><use href="#s" x="463.4" y="869.8"/><use href="#s" x="483.7" y="865.7"/><use href="#s" x="652.5" y="1124.2"/><use href="#s" x="658.6" y="1094.4"/></g><g stroke="#ffbf28"><use href="#s" x="716.9" y="937.5"/><use href="#s" x="806.1" y="778.1"/><use href="#s" x="744.3" y="806.9"/><use href="#s" x="707.0" y="968.8"/><use href="#s" x="696.4" y="830.5"/><use href="#s" x="720.3" y="936.9"/><use href="#s" x="745.5" y="806.4"/><use href="#s" x="705.5" y="963.9"/><use href="#s" x="673.6" y="842.6"/><use href="#s" x="677.8" y="1023.7"/><use href="#s" x="734.4" y="902.0"/><use href="#s" x="705.6" y="963.4"/><use href="#s" x="590.8" y="855.6"/><use href="#s" x="668.8" y="828.9"/><use href="#s" x="746.1" y="896.2"/><use href="#s" x="771.0" y="802.3"/><use href="#s" x="771.8" y="843.4"/><use href="#s" x="704.5" y="819.0"/><use href="#s" x="723.4" y="943.0"/><use href="#s" x="787.9" y="806.7"/><use href="#s" x="724.8" y="810.6"/><use href="#s" x="726.5" y="940.8"/><use href="#s" x="756.4" y="798.7"/><use href="#s" x="658.3" y="839.7"/><use href="#s" x="709.6" y="982.7"/><use href="#s" x="721.2" y="934.4"/><use href="#s" x="573.5" y="858.8"/><use href="#s" x="702.3" y="985.5"/><use href="#s" x="660.4" y="840.7"/><use href="#s" x="762.2" y="858.8"/><use href="#s" x="700.8" y="971.2"/><use href="#s" x="706.4" y="969.6"/><use href="#s" x="735.3" y="903.5"/><use href="#s" x="751.8" y="873.8"/><use href="#s" x="740.1" y="910.7"/><use href="#s" x="755.6" y="798.4"/><use href="#s" x="588.6" y="860.9"/><use href="#s" x="687.0" y="1008.4"/><use href="#s" x="677.9" y="832.9"/><use href="#s" x="758.5" y="858.5"/><use href="#s" x="780.9" y="823.4"/><use href="#s" x="698.5" y="971.2"/><use href="#s" x="742.9" y="897.9"/><use href="#s" x="632.6" y="842.8"/><use href="#s" x="675.9" y="832.9"/><use href="#s" x="788.0" y="793.1"/><use href="#s" x="589.7" y="859.4"/><use href="#s" x="703.4" y="966.4"/><use href="#s" x="560.6" y="862.5"/><use href="#s" x="777.4" y="798.0"/><use href="#s" x="745.2" y="887.0"/><use href="#s" x="727.1" y="916.7"/><use href="#s" x="673.9" y="1021.6"/><use href="#s" x="729.9" y="917.1"/><use href="#s" x="760.1" y="803.9"/><use href="#s" x="740.6" y="903.3"/><use href="#s" x="803.6" y="781.2"/><use href="#s" x="709.1" y="960.3"/><use href="#s" x="800.5" y="791.7"/><use href="#s" x="717.6" y="942.7"/><use href="#s" x="688.1" y="826.5"/><use href="#s" x="792.4" y="784.8"/><use href="#s" x="799.7" y="783.2"/><use href="#s" x="623.2" y="845.6"/><use href="#s" x="634.1" y="844.5"/><use href="#s" x="597.4" y="854.3"/><use href="#s" x="778.5" y="818.0"/><use href="#s" x="717.2" y="941.3"/><use href="#s" x="750.6" y="881.8"/><use href="#s" x="763.4" y="798.5"/><use href="#s" x="775.6" y="789.6"/><use href="#s" x="753.8" y="872.6"/><use href="#s" x="688.7" y="1017.1"/><use href="#s" x="583.4" y="860.5"/><use href="#s" x="574.8" y="861.9"/><use href="#s" x="708.0" y="968.9"/><use href="#s" x="669.9" y="1046.4"/><use href="#s" x="501.9" y="874.7"/><use href="#s" x="443.9" y="880.2"/><use href="#s" x="533.6" y="868.9"/><use href="#s" x="468.6" y="874.7"/><use href="#s" x="454.6" y="883.0"/><use href="#s" x="524.9" y="873.2"/><use href="#s" x="546.9" y="874.0"/><use href="#s" x="495.4" y="869.4"/><use href="#s" x="353.9" y="881.0"/><use href="#s" x="418.1" y="878.4"/><use href="#s" x="426.3" y="882.5"/><use href="#s" x="507.4" y="869.5"/><use href="#s" x="525.0" y="868.9"/><use href="#s" x="483.6" y="873.0"/><use href="#s" x="607.7" y="1211.0"/><use href="#s" x="646.3" y="1096.0"/><use href="#s" x="390.0" y="872.5"/><use href="#s" x="432.5" y="880.0"/></g><g stroke="#ffc51f"><use href="#s" x="665.1" y="839.4"/><use href="#s" x="750.3" y="814.8"/><use href="#s" x="726.0" y="918.2"/><use href="#s" x="757.1" y="863.5"/><use href="#s" x="545.5" y="868.9"/><use href="#s" x="557.0" y="880.8"/><use href="#s" x="737.1" y="813.5"/><use href="#s" x="776.3" y="812.6"/><use href="#s" x="659.7" y="850.8"/><use href="#s" x="714.5" y="941.2"/><use href="#s" x="724.9" y="927.4"/><use href="#s" x="607.8" y="854.0"/><use href="#s" x="757.0" y="858.8"/><use href="#s" x="641.7" y="854.5"/><use href="#s" x="677.8" y="1024.7"/><use href="#s" x="684.4" y="1003.2"/><use href="#s" x="699.4" y="831.0"/><use href="#s" x="686.1" y="1005.5"/><use href="#s" x="606.2" y="859.7"/><use href="#s" x="687.0" y="1000.4"/><use href="#s" x="577.2" y="862.1"/><use href="#s" x="530.3" y="880.9"/><use href="#s" x="767.6" y="832.0"/><use href="#s" x="694.4" y="828.2"/><use href="#s" x="697.4" y="961.5"/><use href="#s" x="757.4" y="800.3"/><use href="#s" x="766.6" y="839.9"/><use href="#s" x="777.3" y="806.1"/><use href="#s" x="627.0" y="857.1"/><use href="#s" x="772.8" y="819.9"/><use href="#s" x="694.4" y="833.4"/><use href="#s" x="539.3" y="872.9"/><use href="#s" x="740.9" y="884.2"/><use href="#s" x="731.7" y="819.1"/><use href="#s" x="701.5" y="969.4"/><use href="#s" x="659.4" y="840.6"/><use href="#s" x="533.5" y="879.3"/><use href="#s" x="744.9" y="816.8"/><use href="#s" x="678.4" y="1009.2"/><use href="#s" x="562.3" y="868.9"/><use href="#s" x="704.4" y="970.7"/><use href="#s" x="767.0" y="807.7"/><use href="#s" x="711.8" y="825.4"/><use href="#s" x="720.2" y="934.9"/><use href="#s" x="749.9" y="809.5"/><use href="#s" x="755.7" y="816.3"/><use href="#s" x="545.6" y="865.7"/><use href="#s" x="709.3" y="954.6"/><use href="#s" x="536.1" y="867.4"/><use href="#s" x="637.0" y="848.1"/><use href="#s" x="773.1" y="831.2"/><use href="#s" x="746.9" y="812.0"/><use href="#s" x="688.5" y="1006.6"/><use href="#s" x="601.4" y="853.6"/><use href="#s" x="683.4" y="832.2"/><use href="#s" x="772.4" y="815.3"/><use href="#s" x="725.6" y="913.0"/><use href="#s" x="716.1" y="940.8"/><use href="#s" x="684.5" y="1000.5"/><use href="#s" x="716.1" y="827.1"/><use href="#s" x="707.8" y="822.7"/><use href="#s" x="615.3" y="856.1"/><use href="#s" x="528.0" y="877.9"/><use href="#s" x="731.7" y="916.4"/><use href="#s" x="650.2" y="1053.7"/><use href="#s" x="522.9" y="885.3"/><use href="#s" x="667.7" y="1046.9"/><use href="#s" x="515.9" y="877.4"/><use href="#s" x="531.2" y="876.6"/><use href="#s" x="541.5" y="871.1"/><use href="#s" x="338.0" y="897.8"/><use href="#s" x="312.1" y="897.0"/><use href="#s" x="398.9" y="884.3"/><use href="#s" x="517.1" y="880.1"/><use href="#s" x="546.2" y="866.1"/><use href="#s" x="493.3" y="880.6"/><use href="#s" x="525.7" y="880.8"/><use href="#s" x="513.4" y="872.2"/><use href="#s" x="446.7" y="892.9"/><use href="#s" x="451.4" y="884.0"/><use href="#s" x="465.7" y="899.3"/><use href="#s" x="516.2" y="876.6"/><use href="#s" x="625.3" y="1149.6"/><use href="#s" x="335.0" y="907.5"/></g><g stroke="#ffcb11"><use href="#s" x="622.7" y="856.9"/><use href="#s" x="752.1" y="857.5"/><use href="#s" x="674.0" y="1021.7"/><use href="#s" x="706.8" y="830.8"/><use href="#s" x="716.0" y="919.4"/><use href="#s" x="702.1" y="829.8"/><use href="#s" x="533.0" y="884.4"/><use href="#s" x="712.1" y="943.5"/><use href="#s" x="761.5" y="811.4"/><use href="#s" x="729.2" y="903.4"/><use href="#s" x="653.9" y="844.5"/><use href="#s" x="763.2" y="844.7"/><use href="#s" x="673.0" y="1012.1"/><use href="#s" x="527.7" y="874.0"/><use href="#s" x="776.1" y="817.5"/><use href="#s" x="610.5" y="870.4"/><use href="#s" x="748.9" y="868.4"/><use href="#s" x="730.7" y="908.6"/><use href="#s" x="673.8" y="1021.2"/><use href="#s" x="746.7" y="869.9"/><use href="#s" x="696.8" y="950.2"/><use href="#s" x="685.2" y="845.9"/><use href="#s" x="701.8" y="961.3"/><use href="#s" x="673.6" y="1013.5"/><use href="#s" x="672.3" y="1028.4"/><use href="#s" x="700.6" y="953.8"/><use href="#s" x="710.6" y="938.4"/><use href="#s" x="707.3" y="954.1"/><use href="#s" x="745.8" y="868.2"/><use href="#s" x="557.3" y="872.6"/><use href="#s" x="747.4" y="814.0"/><use href="#s" x="731.9" y="890.7"/><use href="#s" x="767.5" y="822.1"/><use href="#s" x="602.2" y="865.5"/><use href="#s" x="755.1" y="854.9"/><use href="#s" x="713.6" y="918.5"/><use href="#s" x="741.1" y="886.2"/><use href="#s" x="547.6" y="877.1"/><use href="#s" x="727.7" y="827.7"/><use href="#s" x="727.7" y="902.1"/><use href="#s" x="701.2" y="945.8"/><use href="#s" x="643.4" y="853.0"/><use href="#s" x="533.8" y="883.0"/><use href="#s" x="555.2" y="880.9"/><use href="#s" x="771.1" y="825.9"/><use href="#s" x="568.8" y="869.4"/><use href="#s" x="675.6" y="1004.9"/><use href="#s" x="617.0" y="861.9"/><use href="#s" x="712.4" y="928.0"/><use href="#s" x="532.7" y="872.7"/><use href="#s" x="527.7" y="872.4"/><use href="#s" x="719.4" y="919.5"/><use href="#s" x="778.8" y="808.6"/><use href="#s" x="677.6" y="1018.2"/><use href="#s" x="744.6" y="871.8"/><use href="#s" x="694.0" y="979.8"/><use href="#s" x="674.6" y="1010.5"/><use href="#s" x="746.0" y="818.4"/><use href="#s" x="731.6" y="901.1"/><use href="#s" x="539.8" y="880.9"/><use href="#s" x="617.7" y="869.2"/><use href="#s" x="699.7" y="959.3"/><use href="#s" x="678.1" y="991.8"/><use href="#s" x="739.3" y="887.7"/><use href="#s" x="719.1" y="830.1"/><use href="#s" x="741.3" y="885.8"/><use href="#s" x="716.7" y="937.5"/><use href="#s" x="687.4" y="981.5"/><use href="#s" x="765.4" y="828.7"/><use href="#s" x="736.3" y="890.9"/><use href="#s" x="551.0" y="869.2"/><use href="#s" x="553.1" y="874.1"/><use href="#s" x="685.1" y="974.2"/><use href="#s" x="650.3" y="847.7"/><use href="#s" x="666.6" y="849.5"/><use href="#s" x="652.5" y="852.6"/><use href="#s" x="657.3" y="1054.7"/><use href="#s" x="655.2" y="1048.6"/><use href="#s" x="657.4" y="1052.0"/><use href="#s" x="528.8" y="890.1"/><use href="#s" x="656.9" y="1042.3"/><use href="#s" x="544.2" y="880.1"/><use href="#s" x="500.5" y="885.2"/><use href="#s" x="359.5" y="898.3"/><use href="#s" x="478.7" y="883.6"/><use href="#s" x="396.2" y="899.0"/><use href="#s" x="377.9" y="893.2"/><use href="#s" x="377.6" y="919.6"/><use href="#s" x="450.6" y="890.0"/><use href="#s" x="408.8" y="894.5"/><use href="#s" x="375.9" y="891.4"/><use href="#s" x="414.9" y="893.2"/><use href="#s" x="485.7" y="895.6"/><use href="#s" x="511.5" y="885.2"/><use href="#s" x="480.7" y="887.1"/><use href="#s" x="476.2" y="892.0"/><use href="#s" x="539.5" y="869.2"/><use href="#s" x="529.6" y="879.5"/><use href="#s" x="506.1" y="884.3"/><use href="#s" x="594.6" y="1194.4"/><use href="#s" x="630.5" y="1099.6"/><use href="#s" x="297.5" y="920.0"/></g><g stroke="#ffd100"><use href="#s" x="656.3" y="1037.8"/><use href="#s" x="709.5" y="930.5"/><use href="#s" x="674.6" y="988.3"/><use href="#s" x="569.9" y="874.9"/><use href="#s" x="638.8" y="864.0"/><use href="#s" x="542.1" y="884.9"/><use href="#s" x="691.5" y="839.8"/><use href="#s" x="688.5" y="960.3"/><use href="#s" x="766.9" y="819.2"/><use href="#s" x="727.8" y="826.9"/><use href="#s" x="659.0" y="1035.7"/><use href="#s" x="702.2" y="841.2"/><use href="#s" x="574.2" y="877.6"/><use href="#s" x="661.0" y="1028.8"/><use href="#s" x="627.9" y="863.0"/><use href="#s" x="760.3" y="826.2"/><use href="#s" x="541.7" y="894.5"/><use href="#s" x="729.0" y="889.0"/><use href="#s" x="679.6" y="851.1"/><use href="#s" x="665.2" y="1018.4"/><use href="#s" x="553.0" y="877.1"/><use href="#s" x="606.7" y="869.9"/><use href="#s" x="645.5" y="1040.6"/><use href="#s" x="603.0" y="871.8"/><use href="#s" x="673.6" y="991.4"/><use href="#s" x="656.1" y="1034.2"/><use href="#s" x="553.9" y="886.3"/><use href="#s" x="667.6" y="1017.8"/><use href="#s" x="758.4" y="830.8"/><use href="#s" x="660.2" y="851.8"/><use href="#s" x="687.0" y="848.3"/><use href="#s" x="603.3" y="874.3"/><use href="#s" x="744.4" y="819.8"/><use href="#s" x="567.5" y="885.7"/><use href="#s" x="683.7" y="985.2"/><use href="#s" x="595.7" y="875.3"/><use href="#s" x="769.1" y="819.8"/><use href="#s" x="763.7" y="818.7"/><use href="#s" x="675.0" y="993.1"/><use href="#s" x="617.0" y="873.8"/><use href="#s" x="746.1" y="855.6"/><use href="#s" x="564.8" y="875.3"/><use href="#s" x="732.3" y="831.1"/><use href="#s" x="715.3" y="919.6"/><use href="#s" x="723.2" y="908.7"/><use href="#s" x="620.6" y="861.6"/><use href="#s" x="735.7" y="827.4"/><use href="#s" x="657.0" y="1034.8"/><use href="#s" x="578.9" y="884.3"/><use href="#s" x="671.0" y="995.1"/><use href="#s" x="677.0" y="847.9"/><use href="#s" x="724.6" y="836.2"/><use href="#s" x="686.7" y="844.6"/><use href="#s" x="719.9" y="916.6"/><use href="#s" x="725.2" y="833.7"/><use href="#s" x="716.8" y="917.7"/><use href="#s" x="565.5" y="885.8"/><use href="#s" x="586.1" y="878.7"/><use href="#s" x="721.3" y="898.8"/><use href="#s" x="590.5" y="870.8"/><use href="#s" x="593.6" y="876.5"/><use href="#s" x="702.6" y="938.3"/><use href="#s" x="655.0" y="851.2"/><use href="#s" x="734.7" y="830.4"/><use href="#s" x="713.7" y="923.8"/><use href="#s" x="661.0" y="1027.7"/><use href="#s" x="554.6" y="887.3"/><use href="#s" x="730.2" y="827.4"/><use href="#s" x="723.0" y="825.8"/><use href="#s" x="533.0" y="883.1"/><use href="#s" x="690.5" y="957.0"/><use href="#s" x="705.0" y="842.5"/><use href="#s" x="757.6" y="836.3"/><use href="#s" x="750.0" y="816.5"/><use href="#s" x="536.9" y="876.2"/><use href="#s" x="733.8" y="896.0"/><use href="#s" x="704.6" y="836.8"/><use href="#s" x="655.1" y="1021.0"/><use href="#s" x="640.3" y="860.6"/><use href="#s" x="574.3" y="875.9"/><use href="#s" x="569.7" y="883.4"/><use href="#s" x="629.6" y="865.1"/><use href="#s" x="749.1" y="858.9"/><use href="#s" x="534.7" y="896.0"/><use href="#s" x="624.9" y="1070.6"/><use href="#s" x="522.7" y="890.2"/><use href="#s" x="365.2" y="1108.6"/><use href="#s" x="379.2" y="1114.3"/><use href="#s" x="377.4" y="1115.8"/><use href="#s" x="362.1" y="1117.0"/><use href="#s" x="365.4" y="1115.3"/><use href="#s" x="532.4" y="888.5"/><use href="#s" x="311.8" y="934.6"/><use href="#s" x="517.6" y="895.7"/><use href="#s" x="479.3" y="899.5"/><use href="#s" x="534.0" y="882.3"/><use href="#s" x="393.5" y="928.2"/><use href="#s" x="406.4" y="915.7"/><use href="#s" x="518.7" y="886.8"/><use href="#s" x="463.2" y="896.1"/><use href="#s" x="443.1" y="900.6"/><use href="#s" x="379.6" y="914.6"/><use href="#s" x="435.6" y="899.0"/><use href="#s" x="464.5" y="887.4"/><use href="#s" x="540.7" y="880.8"/><use href="#s" x="461.7" y="902.2"/><use href="#s" x="515.4" y="890.8"/><use href="#s" x="499.6" y="892.5"/><use href="#s" x="331.0" y="1122.0"/><use href="#s" x="285.0" y="920.0"/><use href="#s" x="310.0" y="907.5"/><use href="#s" x="347.5" y="920.0"/></g><g stroke="#ffd700"><use href="#s" x="666.3" y="985.5"/><use href="#s" x="657.2" y="1021.9"/><use href="#s" x="660.1" y="1021.9"/><use href="#s" x="664.9" y="998.2"/><use href="#s" x="682.8" y="855.3"/><use href="#s" x="566.9" y="884.9"/><use href="#s" x="674.1" y="1011.4"/><use href="#s" x="675.9" y="995.6"/><use href="#s" x="569.8" y="882.3"/><use href="#s" x="741.0" y="829.5"/><use href="#s" x="601.9" y="883.4"/><use href="#s" x="688.7" y="850.7"/><use href="#s" x="654.7" y="1009.6"/><use href="#s" x="658.2" y="1028.1"/><use href="#s" x="724.0" y="896.4"/><use href="#s" x="684.2" y="947.6"/><use href="#s" x="737.8" y="865.3"/><use href="#s" x="664.9" y="866.1"/><use href="#s" x="662.5" y="1035.8"/><use href="#s" x="739.3" y="852.1"/><use href="#s" x="734.2" y="835.8"/><use href="#s" x="649.1" y="1032.6"/><use href="#s" x="661.6" y="1013.5"/><use href="#s" x="682.3" y="978.8"/><use href="#s" x="730.1" y="840.0"/><use href="#s" x="698.6" y="848.3"/><use href="#s" x="737.7" y="862.5"/><use href="#s" x="658.0" y="996.6"/><use href="#s" x="738.0" y="839.1"/><use href="#s" x="745.3" y="839.0"/><use href="#s" x="677.2" y="986.7"/><use href="#s" x="664.3" y="992.7"/><use href="#s" x="752.3" y="826.4"/><use href="#s" x="626.5" y="864.8"/><use href="#s" x="681.7" y="970.6"/><use href="#s" x="609.1" y="878.0"/><use href="#s" x="662.2" y="854.5"/><use href="#s" x="570.3" y="887.6"/><use href="#s" x="691.0" y="938.1"/><use href="#s" x="542.0" y="883.5"/><use href="#s" x="744.8" y="845.4"/><use href="#s" x="749.2" y="833.9"/><use href="#s" x="623.1" y="880.3"/><use href="#s" x="683.6" y="855.0"/><use href="#s" x="663.1" y="997.5"/><use href="#s" x="682.2" y="969.2"/><use href="#s" x="654.5" y="1028.3"/><use href="#s" x="576.2" y="887.3"/><use href="#s" x="635.5" y="873.1"/><use href="#s" x="637.0" y="866.6"/><use href="#s" x="727.8" y="875.2"/><use href="#s" x="574.5" y="883.2"/><use href="#s" x="732.9" y="876.8"/><use href="#s" x="632.9" y="871.7"/><use href="#s" x="556.1" y="893.8"/><use href="#s" x="675.3" y="990.3"/><use href="#s" x="615.4" y="876.2"/><use href="#s" x="602.5" y="877.1"/><use href="#s" x="588.5" y="879.5"/><use href="#s" x="732.7" y="877.8"/><use href="#s" x="741.5" y="830.3"/><use href="#s" x="552.0" y="889.5"/><use href="#s" x="708.2" y="927.9"/><use href="#s" x="652.0" y="862.9"/><use href="#s" x="755.5" y="829.0"/><use href="#s" x="629.4" y="876.2"/><use href="#s" x="732.8" y="869.9"/><use href="#s" x="628.6" y="864.0"/><use href="#s" x="618.9" y="871.7"/><use href="#s" x="671.5" y="861.7"/><use href="#s" x="595.7" y="877.3"/><use href="#s" x="378.4" y="1107.0"/><use href="#s" x="408.6" y="1114.3"/><use href="#s" x="361.4" y="1112.6"/><use href="#s" x="435.9" y="1116.0"/><use href="#s" x="372.7" y="1110.2"/><use href="#s" x="438.3" y="1117.0"/><use href="#s" x="356.4" y="1112.6"/><use href="#s" x="371.8" y="1109.1"/><use href="#s" x="362.4" y="1107.0"/><use href="#s" x="405.8" y="1112.4"/><use href="#s" x="374.8" y="1112.1"/><use href="#s" x="369.5" y="1109.7"/><use href="#s" x="397.7" y="1112.6"/><use href="#s" x="356.7" y="1111.0"/><use href="#s" x="391.5" y="1114.8"/><use href="#s" x="366.9" y="1109.5"/><use href="#s" x="361.0" y="1111.7"/><use href="#s" x="397.9" y="1109.9"/><use href="#s" x="363.0" y="1112.5"/><use href="#s" x="354.4" y="1107.0"/><use href="#s" x="388.5" y="1114.9"/><use href="#s" x="372.2" y="1113.1"/><use href="#s" x="378.1" y="1113.6"/><use href="#s" x="374.5" y="1113.3"/><use href="#s" x="363.8" y="1109.1"/><use href="#s" x="395.1" y="1108.6"/><use href="#s" x="353.9" y="1113.0"/><use href="#s" x="453.2" y="904.1"/><use href="#s" x="438.7" y="898.0"/><use href="#s" x="488.2" y="909.5"/><use href="#s" x="506.0" y="916.6"/><use href="#s" x="313.7" y="1093.6"/><use href="#s" x="374.6" y="931.5"/><use href="#s" x="295.1" y="1070.8"/><use href="#s" x="547.8" y="885.0"/><use href="#s" x="378.8" y="915.3"/><use href="#s" x="497.8" y="904.3"/><use href="#s" x="545.9" y="892.3"/><use href="#s" x="526.4" y="893.2"/><use href="#s" x="508.3" y="897.4"/><use href="#s" x="515.8" y="906.7"/><use href="#s" x="289.8" y="943.0"/><use href="#s" x="429.5" y="903.5"/><use href="#s" x="493.2" y="901.8"/><use href="#s" x="439.5" y="913.4"/><use href="#s" x="502.0" y="891.5"/><use href="#s" x="499.4" y="905.4"/><use href="#s" x="476.8" y="915.7"/><use href="#s" x="461.8" y="906.0"/><use href="#s" x="551.7" y="885.4"/><use href="#s" x="456.1" y="930.8"/><use href="#s" x="527.0" y="1190.9"/><use href="#s" x="585.0" y="1146.0"/><use href="#s" x="536.7" y="1149.6"/><use href="#s" x="606.0" y="1127.7"/><use href="#s" x="618.0" y="1110.0"/><use href="#s" x="434.0" y="1134.7"/><use href="#s" x="310.0" y="1135.0"/><use href="#s" x="352.0" y="1140.0"/><use href="#s" x="412.0" y="1142.0"/><use href="#s" x="272.5" y="1027.5"/><use href="#s" x="305.0" y="1067.5"/><use href="#s" x="297.5" y="1105.0"/><use href="#s" x="283.4" y="974.0"/></g><g stroke="#ffdd00"><use href="#s" x="566.4" y="906.8"/><use href="#s" x="627.9" y="872.5"/><use href="#s" x="643.2" y="1020.4"/><use href="#s" x="713.0" y="853.8"/><use href="#s" x="625.6" y="886.6"/><use href="#s" x="543.8" y="902.4"/><use href="#s" x="582.9" y="889.7"/><use href="#s" x="662.2" y="1000.6"/><use href="#s" x="571.5" y="887.2"/><use href="#s" x="628.4" y="1052.3"/><use href="#s" x="656.4" y="867.1"/><use href="#s" x="627.9" y="1040.6"/><use href="#s" x="706.0" y="870.8"/><use href="#s" x="682.4" y="954.1"/><use href="#s" x="629.4" y="1047.6"/><use href="#s" x="636.4" y="884.7"/><use href="#s" x="637.4" y="1028.5"/><use href="#s" x="653.2" y="1005.1"/><use href="#s" x="652.0" y="875.5"/><use href="#s" x="712.7" y="850.1"/><use href="#s" x="588.4" y="893.8"/><use href="#s" x="560.9" y="902.1"/><use href="#s" x="650.6" y="1002.8"/><use href="#s" x="656.5" y="993.8"/><use href="#s" x="718.4" y="859.4"/><use href="#s" x="604.0" y="892.3"/><use href="#s" x="659.5" y="1004.9"/><use href="#s" x="679.7" y="855.2"/><use href="#s" x="721.4" y="883.8"/><use href="#s" x="632.6" y="880.0"/><use href="#s" x="609.5" y="889.9"/><use href="#s" x="624.6" y="890.4"/><use href="#s" x="715.5" y="879.1"/><use href="#s" x="691.6" y="942.6"/><use href="#s" x="624.2" y="1059.4"/><use href="#s" x="643.7" y="877.1"/><use href="#s" x="619.1" y="1043.0"/><use href="#s" x="620.2" y="1039.0"/><use href="#s" x="751.0" y="834.2"/><use href="#s" x="709.7" y="852.8"/><use href="#s" x="698.4" y="855.1"/><use href="#s" x="541.6" y="898.9"/><use href="#s" x="730.6" y="866.3"/><use href="#s" x="647.3" y="864.1"/><use href="#s" x="740.7" y="827.5"/><use href="#s" x="695.4" y="957.3"/><use href="#s" x="597.9" y="890.8"/><use href="#s" x="683.5" y="868.9"/><use href="#s" x="633.3" y="1033.6"/><use href="#s" x="666.1" y="988.1"/><use href="#s" x="666.6" y="863.5"/><use href="#s" x="691.9" y="925.4"/><use href="#s" x="668.0" y="874.8"/><use href="#s" x="685.4" y="950.9"/><use href="#s" x="668.0" y="986.2"/><use href="#s" x="624.7" y="1055.0"/><use href="#s" x="670.9" y="981.9"/><use href="#s" x="569.9" y="897.7"/><use href="#s" x="559.5" y="898.4"/><use href="#s" x="647.0" y="1041.4"/><use href="#s" x="690.3" y="947.7"/><use href="#s" x="743.3" y="852.3"/><use href="#s" x="723.3" y="869.5"/><use href="#s" x="749.7" y="846.6"/><use href="#s" x="646.4" y="867.5"/><use href="#s" x="688.4" y="852.2"/><use href="#s" x="581.6" y="902.7"/><use href="#s" x="634.1" y="872.2"/><use href="#s" x="638.5" y="1030.5"/><use href="#s" x="708.1" y="855.5"/><use href="#s" x="663.6" y="994.2"/><use href="#s" x="736.9" y="835.4"/><use href="#s" x="653.4" y="1013.2"/><use href="#s" x="718.3" y="885.2"/><use href="#s" x="683.6" y="854.8"/><use href="#s" x="723.5" y="895.5"/><use href="#s" x="641.1" y="870.7"/><use href="#s" x="555.4" y="899.2"/><use href="#s" x="639.4" y="1029.8"/><use href="#s" x="568.6" y="894.5"/><use href="#s" x="639.2" y="1050.6"/><use href="#s" x="697.7" y="857.3"/><use href="#s" x="546.4" y="907.1"/><use href="#s" x="617.3" y="1073.4"/><use href="#s" x="610.2" y="1070.5"/><use href="#s" x="618.3" y="1066.2"/><use href="#s" x="532.2" y="900.9"/><use href="#s" x="538.3" y="908.9"/><use href="#s" x="401.1" y="1109.4"/><use href="#s" x="397.4" y="1114.4"/><use href="#s" x="426.2" y="1107.4"/><use href="#s" x="394.2" y="1113.5"/><use href="#s" x="389.5" y="1116.6"/><use href="#s" x="366.2" y="1112.9"/><use href="#s" x="422.7" y="1111.9"/><use href="#s" x="400.0" y="1107.7"/><use href="#s" x="397.3" y="1117.0"/><use href="#s" x="405.7" y="1115.7"/><use href="#s" x="448.5" y="1112.8"/><use href="#s" x="358.8" y="1115.0"/><use href="#s" x="364.1" y="1113.2"/><use href="#s" x="371.6" y="1111.6"/><use href="#s" x="372.3" y="1114.3"/><use href="#s" x="399.9" y="1108.9"/><use href="#s" x="441.3" y="1112.2"/><use href="#s" x="374.6" y="1107.9"/><use href="#s" x="400.5" y="1112.3"/><use href="#s" x="400.8" y="1107.3"/><use href="#s" x="448.8" y="1110.8"/><use href="#s" x="371.5" y="1112.1"/><use href="#s" x="364.2" y="1112.0"/><use href="#s" x="409.3" y="1112.1"/><use href="#s" x="417.8" y="1109.0"/><use href="#s" x="408.3" y="1114.9"/><use href="#s" x="391.8" y="1114.1"/><use href="#s" x="355.4" y="1111.1"/><use href="#s" x="361.0" y="1113.0"/><use href="#s" x="415.4" y="1113.4"/><use href="#s" x="410.9" y="1115.1"/><use href="#s" x="417.6" y="1108.3"/><use href="#s" x="399.2" y="1113.5"/><use href="#s" x="375.8" y="1112.3"/><use href="#s" x="421.6" y="1116.5"/><use href="#s" x="366.4" y="1108.7"/><use href="#s" x="417.0" y="1109.8"/><use href="#s" x="428.8" y="1116.4"/><use href="#s" x="430.9" y="1111.9"/><use href="#s" x="441.6" y="1116.6"/><use href="#s" x="441.4" y="1115.8"/><use href="#s" x="415.2" y="1114.1"/><use href="#s" x="413.3" y="1112.2"/><use href="#s" x="390.0" y="1112.7"/><use href="#s" x="391.9" y="1113.4"/><use href="#s" x="388.1" y="1117.0"/><use href="#s" x="366.7" y="1112.4"/><use href="#s" x="360.8" y="1116.3"/><use href="#s" x="389.4" y="1113.2"/><use href="#s" x="517.8" y="917.1"/><use href="#s" x="525.5" y="919.3"/><use href="#s" x="483.8" y="935.8"/><use href="#s" x="428.6" y="947.0"/><use href="#s" x="437.3" y="1042.9"/><use href="#s" x="343.5" y="994.6"/><use href="#s" x="540.8" y="896.2"/><use href="#s" x="532.4" y="901.3"/><use href="#s" x="512.3" y="925.3"/><use href="#s" x="319.4" y="994.0"/><use href="#s" x="443.7" y="922.2"/><use href="#s" x="502.8" y="924.9"/><use href="#s" x="378.4" y="1058.1"/><use href="#s" x="404.9" y="1028.5"/><use href="#s" x="408.7" y="932.5"/><use href="#s" x="396.5" y="946.4"/><use href="#s" x="456.5" y="941.6"/><use href="#s" x="391.9" y="1051.0"/><use href="#s" x="461.1" y="911.8"/><use href="#s" x="539.3" y="902.4"/><use href="#s" x="414.0" y="1074.6"/><use href="#s" x="505.2" y="907.6"/><use href="#s" x="544.8" y="903.4"/><use href="#s" x="341.4" y="941.2"/><use href="#s" x="344.1" y="974.2"/><use href="#s" x="499.0" y="900.3"/><use href="#s" x="476.8" y="916.4"/><use href="#s" x="473.9" y="924.6"/><use href="#s" x="496.6" y="916.7"/><use href="#s" x="483.5" y="919.5"/><use href="#s" x="501.6" y="908.0"/><use href="#s" x="446.3" y="1185.6"/><use href="#s" x="549.0" y="1205.8"/><use href="#s" x="549.0" y="1161.0"/><use href="#s" x="597.0" y="1103.0"/><use href="#s" x="460.4" y="1155.8"/><use href="#s" x="484.0" y="1155.8"/><use href="#s" x="497.0" y="1143.5"/><use href="#s" x="297.0" y="1110.0"/><use href="#s" x="378.0" y="1137.0"/><use href="#s" x="282.5" y="970.0"/><use href="#s" x="292.5" y="1007.5"/><use href="#s" x="290.0" y="1032.5"/><use href="#s" x="325.0" y="1035.0"/><use href="#s" x="270.3" y="1025.5"/></g><g stroke="#fce400"><use href="#s" x="646.0" y="1010.7"/><use href="#s" x="621.2" y="892.9"/><use href="#s" x="723.6" y="883.1"/><use href="#s" x="600.2" y="899.5"/><use href="#s" x="595.5" y="914.5"/><use href="#s" x="571.7" y="898.0"/><use href="#s" x="616.9" y="900.3"/><use href="#s" x="612.5" y="900.8"/><use href="#s" x="637.9" y="882.5"/><use href="#s" x="694.3" y="920.5"/><use href="#s" x="672.3" y="967.0"/><use href="#s" x="707.8" y="904.0"/><use href="#s" x="661.7" y="985.4"/><use href="#s" x="669.3" y="964.5"/><use href="#s" x="672.9" y="880.3"/><use href="#s" x="679.9" y="865.8"/><use href="#s" x="571.8" y="906.9"/><use href="#s" x="641.8" y="1010.9"/><use href="#s" x="587.9" y="894.3"/><use href="#s" x="569.2" y="912.5"/><use href="#s" x="618.4" y="1037.9"/><use href="#s" x="720.1" y="882.9"/><use href="#s" x="645.3" y="870.5"/><use href="#s" x="574.4" y="908.9"/><use href="#s" x="629.8" y="1044.1"/><use href="#s" x="565.6" y="912.3"/><use href="#s" x="625.7" y="1033.8"/><use href="#s" x="632.2" y="872.8"/><use href="#s" x="648.9" y="882.9"/><use href="#s" x="684.9" y="865.6"/><use href="#s" x="628.7" y="889.4"/><use href="#s" x="677.1" y="950.0"/><use href="#s" x="641.7" y="874.5"/><use href="#s" x="628.7" y="1030.9"/><use href="#s" x="593.4" y="893.9"/><use href="#s" x="642.0" y="874.1"/><use href="#s" x="696.3" y="910.2"/><use href="#s" x="554.7" y="912.3"/><use href="#s" x="676.4" y="865.5"/><use href="#s" x="621.2" y="1043.2"/><use href="#s" x="640.7" y="891.9"/><use href="#s" x="672.3" y="868.8"/><use href="#s" x="640.7" y="1017.0"/><use href="#s" x="623.2" y="1040.9"/><use href="#s" x="671.4" y="967.8"/><use href="#s" x="673.6" y="868.4"/><use href="#s" x="625.0" y="1053.4"/><use href="#s" x="659.2" y="865.3"/><use href="#s" x="653.2" y="1007.7"/><use href="#s" x="638.9" y="1006.1"/><use href="#s" x="607.8" y="901.5"/><use href="#s" x="672.9" y="871.9"/><use href="#s" x="628.6" y="1043.4"/><use href="#s" x="636.1" y="1038.1"/><use href="#s" x="700.1" y="902.9"/><use href="#s" x="704.3" y="914.9"/><use href="#s" x="576.7" y="917.2"/><use href="#s" x="691.7" y="908.9"/><use href="#s" x="706.8" y="861.5"/><use href="#s" x="592.9" y="904.5"/><use href="#s" x="685.7" y="877.2"/><use href="#s" x="657.5" y="985.9"/><use href="#s" x="694.1" y="902.3"/><use href="#s" x="635.3" y="1026.4"/><use href="#s" x="628.5" y="881.8"/><use href="#s" x="677.9" y="871.8"/><use href="#s" x="600.0" y="1054.2"/><use href="#s" x="654.5" y="977.7"/><use href="#s" x="739.8" y="848.0"/><use href="#s" x="656.2" y="1003.7"/><use href="#s" x="607.0" y="902.2"/><use href="#s" x="656.4" y="972.5"/><use href="#s" x="641.5" y="1016.5"/><use href="#s" x="687.9" y="882.6"/><use href="#s" x="606.9" y="1045.8"/><use href="#s" x="708.8" y="886.9"/><use href="#s" x="614.2" y="899.9"/><use href="#s" x="713.2" y="891.3"/><use href="#s" x="679.0" y="946.2"/><use href="#s" x="585.5" y="901.8"/><use href="#s" x="681.1" y="962.8"/><use href="#s" x="615.6" y="1050.0"/><use href="#s" x="639.0" y="1015.1"/><use href="#s" x="634.6" y="1025.1"/><use href="#s" x="608.1" y="893.7"/><use href="#s" x="657.7" y="1005.4"/><use href="#s" x="727.4" y="857.8"/><use href="#s" x="690.9" y="862.6"/><use href="#s" x="734.8" y="844.3"/><use href="#s" x="601.1" y="1058.1"/><use href="#s" x="618.5" y="884.0"/><use href="#s" x="668.0" y="870.8"/><use href="#s" x="629.7" y="914.7"/><use href="#s" x="626.3" y="878.4"/><use href="#s" x="634.5" y="1024.4"/><use href="#s" x="551.8" y="909.3"/><use href="#s" x="664.6" y="988.8"/><use href="#s" x="589.5" y="1052.6"/><use href="#s" x="636.6" y="1031.9"/><use href="#s" x="543.9" y="902.7"/><use href="#s" x="683.7" y="924.1"/><use href="#s" x="559.2" y="913.7"/><use href="#s" x="461.1" y="998.0"/><use href="#s" x="438.5" y="1001.2"/><use href="#s" x="418.8" y="999.5"/><use href="#s" x="488.9" y="997.4"/><use href="#s" x="438.5" y="998.9"/><use href="#s" x="461.0" y="1113.3"/><use href="#s" x="471.3" y="1112.4"/><use href="#s" x="473.6" y="1112.9"/><use href="#s" x="368.4" y="1110.2"/><use href="#s" x="437.8" y="1112.2"/><use href="#s" x="480.6" y="1112.4"/><use href="#s" x="438.1" y="1114.3"/><use href="#s" x="450.5" y="1114.0"/><use href="#s" x="463.9" y="1113.8"/><use href="#s" x="478.8" y="1113.6"/><use href="#s" x="471.9" y="1111.5"/><use href="#s" x="434.1" y="1116.1"/><use href="#s" x="398.8" y="1111.2"/><use href="#s" x="425.3" y="1114.6"/><use href="#s" x="420.8" y="1109.9"/><use href="#s" x="383.0" y="1113.0"/><use href="#s" x="381.0" y="1109.7"/><use href="#s" x="405.8" y="1113.9"/><use href="#s" x="453.0" y="1110.8"/><use href="#s" x="431.8" y="1115.1"/><use href="#s" x="417.0" y="1117.0"/><use href="#s" x="460.3" y="1111.8"/><use href="#s" x="425.2" y="1108.7"/><use href="#s" x="457.4" y="1108.8"/><use href="#s" x="480.9" y="1114.1"/><use href="#s" x="443.7" y="1108.2"/><use href="#s" x="408.4" y="1108.5"/><use href="#s" x="458.5" y="1111.9"/><use href="#s" x="477.2" y="1109.4"/><use href="#s" x="476.0" y="1112.7"/><use href="#s" x="439.4" y="1110.1"/><use href="#s" x="474.1" y="1112.5"/><use href="#s" x="465.2" y="1114.9"/><use href="#s" x="433.6" y="1113.1"/><use href="#s" x="414.0" y="1109.6"/><use href="#s" x="451.3" y="1114.3"/><use href="#s" x="376.6" y="1111.3"/><use href="#s" x="451.6" y="1114.4"/><use href="#s" x="426.5" y="1111.1"/><use href="#s" x="478.7" y="1110.2"/><use href="#s" x="454.8" y="1107.1"/><use href="#s" x="415.2" y="1117.0"/><use href="#s" x="455.2" y="1111.0"/><use href="#s" x="444.7" y="1112.1"/><use href="#s" x="437.9" y="1113.5"/><use href="#s" x="391.4" y="1114.6"/><use href="#s" x="459.6" y="1111.5"/><use href="#s" x="368.3" y="1107.2"/><use href="#s" x="459.9" y="1113.4"/><use href="#s" x="437.7" y="1117.0"/><use href="#s" x="428.9" y="1109.6"/><use href="#s" x="439.5" y="1109.8"/><use href="#s" x="483.7" y="1112.5"/><use href="#s" x="477.6" y="1112.7"/><use href="#s" x="406.2" y="1111.0"/><use href="#s" x="403.6" y="1114.0"/><use href="#s" x="446.6" y="1110.0"/><use href="#s" x="446.6" y="1111.4"/><use href="#s" x="445.5" y="1113.5"/><use href="#s" x="440.8" y="1111.6"/><use href="#s" x="441.2" y="1112.3"/><use href="#s" x="417.1" y="1112.3"/><use href="#s" x="447.3" y="1112.8"/><use href="#s" x="451.1" y="1110.5"/><use href="#s" x="471.4" y="1112.3"/><use href="#s" x="440.1" y="1113.2"/><use href="#s" x="535.7" y="916.6"/><use href="#s" x="374.8" y="1082.7"/><use href="#s" x="547.3" y="910.8"/><use href="#s" x="421.0" y="959.3"/><use href="#s" x="531.1" y="927.3"/><use href="#s" x="480.4" y="951.3"/><use href="#s" x="540.6" y="908.2"/><use href="#s" x="359.6" y="954.8"/><use href="#s" x="435.6" y="1022.9"/><use href="#s" x="485.7" y="925.9"/><use href="#s" x="459.6" y="1091.6"/><use href="#s" x="390.6" y="975.6"/><use href="#s" x="517.3" y="932.8"/><use href="#s" x="359.3" y="1008.9"/><use href="#s" x="344.9" y="1053.5"/><use href="#s" x="469.5" y="946.3"/><use href="#s" x="407.6" y="1054.7"/><use href="#s" x="368.9" y="991.8"/><use href="#s" x="344.4" y="1029.5"/><use href="#s" x="437.5" y="1086.8"/><use href="#s" x="524.5" y="907.9"/><use href="#s" x="543.8" y="918.6"/><use href="#s" x="297.4" y="977.4"/><use href="#s" x="468.1" y="964.3"/><use href="#s" x="315.2" y="958.3"/><use href="#s" x="374.0" y="974.3"/><use href="#s" x="474.5" y="1078.7"/><use href="#s" x="491.6" y="944.0"/><use href="#s" x="368.3" y="1023.3"/><use href="#s" x="409.3" y="1011.4"/><use href="#s" x="475.6" y="974.6"/><use href="#s" x="467.0" y="929.7"/><use href="#s" x="487.8" y="920.9"/><use href="#s" x="487.4" y="913.2"/><use href="#s" x="468.5" y="955.6"/><use href="#s" x="509.8" y="931.5"/><use href="#s" x="461.8" y="948.3"/><use href="#s" x="524.0" y="913.7"/><use href="#s" x="546.7" y="906.8"/><use href="#s" x="560.4" y="1121.6"/><use href="#s" x="572.6" y="1098.0"/><use href="#s" x="490.0" y="1145.0"/><use href="#s" x="468.0" y="1132.0"/><use href="#s" x="292.5" y="1045.0"/><use href="#s" x="283.0" y="1012.0"/></g><g stroke="#f9ea00"><use href="#s" x="708.7" y="888.9"/><use href="#s" x="623.5" y="1036.6"/><use href="#s" x="620.8" y="1026.6"/><use href="#s" x="614.4" y="922.1"/><use href="#s" x="664.1" y="885.5"/><use href="#s" x="607.5" y="889.8"/><use href="#s" x="603.3" y="1037.4"/><use href="#s" x="717.0" y="884.4"/><use href="#s" x="636.2" y="999.8"/><use href="#s" x="642.0" y="1003.0"/><use href="#s" x="668.9" y="956.5"/><use href="#s" x="672.1" y="972.7"/><use href="#s" x="591.2" y="1047.3"/><use href="#s" x="682.8" y="912.5"/><use href="#s" x="573.1" y="916.9"/><use href="#s" x="679.7" y="928.2"/><use href="#s" x="691.6" y="916.5"/><use href="#s" x="708.5" y="884.9"/><use href="#s" x="687.1" y="926.0"/><use href="#s" x="717.3" y="864.9"/><use href="#s" x="613.9" y="1042.7"/><use href="#s" x="686.1" y="908.5"/><use href="#s" x="710.3" y="885.4"/><use href="#s" x="671.0" y="937.3"/><use href="#s" x="631.9" y="1024.9"/><use href="#s" x="584.8" y="929.8"/><use href="#s" x="580.1" y="1047.1"/><use href="#s" x="652.1" y="882.5"/><use href="#s" x="690.8" y="922.6"/><use href="#s" x="651.3" y="890.1"/><use href="#s" x="702.2" y="872.4"/><use href="#s" x="693.5" y="912.3"/><use href="#s" x="699.0" y="876.7"/><use href="#s" x="615.4" y="998.7"/><use href="#s" x="683.3" y="926.9"/><use href="#s" x="728.0" y="858.9"/><use href="#s" x="598.9" y="1057.7"/><use href="#s" x="599.2" y="908.1"/><use href="#s" x="594.9" y="912.0"/><use href="#s" x="596.9" y="908.1"/><use href="#s" x="663.2" y="882.7"/><use href="#s" x="707.0" y="861.5"/><use href="#s" x="592.6" y="904.7"/><use href="#s" x="640.7" y="903.8"/><use href="#s" x="695.5" y="910.8"/><use href="#s" x="706.5" y="882.1"/><use href="#s" x="600.5" y="909.9"/><use href="#s" x="650.5" y="892.6"/><use href="#s" x="595.0" y="1060.9"/><use href="#s" x="650.6" y="976.4"/><use href="#s" x="608.8" y="1027.3"/><use href="#s" x="648.4" y="988.7"/><use href="#s" x="613.2" y="904.5"/><use href="#s" x="643.9" y="886.5"/><use href="#s" x="643.2" y="904.6"/><use href="#s" x="688.0" y="927.8"/><use href="#s" x="654.4" y="999.3"/><use href="#s" x="698.6" y="891.4"/><use href="#s" x="579.9" y="1056.8"/><use href="#s" x="590.1" y="903.3"/><use href="#s" x="633.5" y="1025.5"/><use href="#s" x="597.8" y="1043.3"/><use href="#s" x="645.0" y="880.3"/><use href="#s" x="587.9" y="915.5"/><use href="#s" x="714.0" y="872.2"/><use href="#s" x="611.2" y="1046.7"/><use href="#s" x="666.2" y="960.9"/><use href="#s" x="649.0" y="1015.5"/><use href="#s" x="671.0" y="888.5"/><use href="#s" x="675.7" y="945.1"/><use href="#s" x="681.1" y="936.1"/><use href="#s" x="631.7" y="1025.9"/><use href="#s" x="682.7" y="901.9"/><use href="#s" x="632.0" y="911.1"/><use href="#s" x="651.6" y="881.3"/><use href="#s" x="635.1" y="1000.9"/><use href="#s" x="679.3" y="878.1"/><use href="#s" x="642.3" y="994.2"/><use href="#s" x="574.3" y="927.9"/><use href="#s" x="712.5" y="879.3"/><use href="#s" x="646.6" y="893.1"/><use href="#s" x="619.3" y="1044.1"/><use href="#s" x="686.3" y="928.5"/><use href="#s" x="594.5" y="1030.5"/><use href="#s" x="641.0" y="1028.7"/><use href="#s" x="716.9" y="859.4"/><use href="#s" x="598.9" y="916.1"/><use href="#s" x="660.5" y="886.9"/><use href="#s" x="550.6" y="913.4"/><use href="#s" x="556.3" y="928.6"/><use href="#s" x="559.2" y="927.4"/><use href="#s" x="538.5" y="910.5"/><use href="#s" x="457.6" y="994.9"/><use href="#s" x="500.6" y="993.2"/><use href="#s" x="489.3" y="1000.2"/><use href="#s" x="420.1" y="994.5"/><use href="#s" x="446.1" y="1001.1"/><use href="#s" x="446.4" y="998.0"/><use href="#s" x="434.6" y="997.7"/><use href="#s" x="424.4" y="1002.1"/><use href="#s" x="464.5" y="995.6"/><use href="#s" x="482.8" y="1002.0"/><use href="#s" x="473.2" y="1111.4"/><use href="#s" x="449.5" y="1113.5"/><use href="#s" x="482.4" y="1109.6"/><use href="#s" x="484.5" y="1110.1"/><use href="#s" x="455.1" y="1113.7"/><use href="#s" x="476.1" y="1111.3"/><use href="#s" x="468.1" y="1113.6"/><use href="#s" x="474.1" y="1110.8"/><use href="#s" x="464.7" y="1113.6"/><use href="#s" x="476.4" y="1109.3"/><use href="#s" x="467.5" y="1113.0"/><use href="#s" x="430.1" y="1114.0"/><use href="#s" x="448.2" y="1109.0"/><use href="#s" x="472.0" y="1111.3"/><use href="#s" x="445.3" y="1112.6"/><use href="#s" x="473.4" y="1117.0"/><use href="#s" x="466.5" y="1113.5"/><use href="#s" x="484.1" y="1108.5"/><use href="#s" x="485.9" y="1110.0"/><use href="#s" x="435.0" y="1111.1"/><use href="#s" x="445.2" y="1112.9"/><use href="#s" x="466.6" y="1112.1"/><use href="#s" x="458.7" y="1108.9"/><use href="#s" x="532.5" y="941.5"/><use href="#s" x="444.0" y="991.4"/><use href="#s" x="445.9" y="961.2"/><use href="#s" x="482.1" y="982.5"/><use href="#s" x="500.8" y="946.8"/><use href="#s" x="453.1" y="1073.5"/><use href="#s" x="536.3" y="931.4"/><use href="#s" x="450.3" y="1012.7"/><use href="#s" x="521.5" y="1085.0"/><use href="#s" x="510.5" y="945.6"/><use href="#s" x="544.0" y="927.2"/><use href="#s" x="399.1" y="994.9"/><use href="#s" x="451.1" y="1042.0"/><use href="#s" x="438.1" y="1070.2"/><use href="#s" x="507.2" y="932.8"/><use href="#s" x="488.3" y="993.9"/><use href="#s" x="467.6" y="1063.1"/><use href="#s" x="490.1" y="970.3"/><use href="#s" x="527.8" y="1072.7"/><use href="#s" x="433.2" y="981.2"/><use href="#s" x="523.1" y="937.2"/><use href="#s" x="475.9" y="1092.8"/><use href="#s" x="427.4" y="1033.5"/><use href="#s" x="515.1" y="1040.3"/><use href="#s" x="544.1" y="1071.4"/><use href="#s" x="429.6" y="1057.8"/><use href="#s" x="419.4" y="1000.2"/><use href="#s" x="456.3" y="925.6"/><use href="#s" x="481.0" y="924.0"/><use href="#s" x="483.0" y="943.4"/><use href="#s" x="550.5" y="915.3"/><use href="#s" x="462.5" y="964.0"/><use href="#s" x="546.7" y="919.3"/><use href="#s" x="517.8" y="926.7"/><use href="#s" x="456.9" y="959.5"/><use href="#s" x="485.6" y="952.1"/><use href="#s" x="500.1" y="957.6"/><use href="#s" x="542.8" y="1096.0"/><use href="#s" x="528.8" y="1112.0"/><use href="#s" x="506.0" y="1140.0"/><use href="#s" x="515.0" y="1128.0"/></g><g stroke="#f8f000"><use href="#s" x="683.4" y="920.7"/><use href="#s" x="685.4" y="900.1"/><use href="#s" x="678.2" y="885.8"/><use href="#s" x="668.7" y="930.7"/><use href="#s" x="675.8" y="909.2"/><use href="#s" x="635.0" y="992.6"/><use href="#s" x="672.5" y="931.2"/><use href="#s" x="623.6" y="1017.5"/><use href="#s" x="615.0" y="1019.1"/><use href="#s" x="589.7" y="1039.4"/><use href="#s" x="620.8" y="997.1"/><use href="#s" x="569.2" y="1048.6"/><use href="#s" x="641.4" y="993.3"/><use href="#s" x="588.1" y="917.5"/><use href="#s" x="604.6" y="921.5"/><use href="#s" x="645.1" y="922.5"/><use href="#s" x="669.7" y="890.9"/><use href="#s" x="619.6" y="1003.4"/><use href="#s" x="626.0" y="909.3"/><use href="#s" x="610.5" y="913.6"/><use href="#s" x="675.4" y="917.3"/><use href="#s" x="692.1" y="884.8"/><use href="#s" x="656.6" y="892.7"/><use href="#s" x="570.5" y="1048.6"/><use href="#s" x="675.4" y="892.1"/><use href="#s" x="573.3" y="924.4"/><use href="#s" x="587.3" y="927.6"/><use href="#s" x="600.5" y="923.1"/><use href="#s" x="632.1" y="904.5"/><use href="#s" x="553.7" y="1060.6"/><use href="#s" x="643.0" y="905.7"/><use href="#s" x="634.1" y="914.4"/><use href="#s" x="585.6" y="944.0"/><use href="#s" x="630.8" y="898.1"/><use href="#s" x="655.9" y="902.1"/><use href="#s" x="578.9" y="1017.8"/><use href="#s" x="660.6" y="934.5"/><use href="#s" x="670.3" y="936.3"/><use href="#s" x="684.8" y="900.2"/><use href="#s" x="638.4" y="900.5"/><use href="#s" x="637.6" y="995.2"/><use href="#s" x="628.3" y="900.4"/><use href="#s" x="667.1" y="959.0"/><use href="#s" x="580.6" y="927.9"/><use href="#s" x="622.1" y="982.5"/><use href="#s" x="624.8" y="1011.3"/><use href="#s" x="623.1" y="905.3"/><use href="#s" x="647.5" y="911.1"/><use href="#s" x="700.5" y="897.9"/><use href="#s" x="611.0" y="1007.6"/><use href="#s" x="581.8" y="922.0"/><use href="#s" x="603.3" y="1030.8"/><use href="#s" x="652.0" y="962.3"/><use href="#s" x="688.2" y="894.9"/><use href="#s" x="580.2" y="1044.8"/><use href="#s" x="601.5" y="1024.3"/><use href="#s" x="674.8" y="935.6"/><use href="#s" x="581.7" y="942.5"/><use href="#s" x="589.5" y="1043.6"/><use href="#s" x="676.5" y="907.4"/><use href="#s" x="638.5" y="994.1"/><use href="#s" x="638.9" y="982.5"/><use href="#s" x="578.8" y="1058.1"/><use href="#s" x="641.7" y="911.4"/><use href="#s" x="601.0" y="1040.6"/><use href="#s" x="641.2" y="916.1"/><use href="#s" x="691.8" y="915.2"/><use href="#s" x="682.7" y="920.8"/><use href="#s" x="692.7" y="890.3"/><use href="#s" x="561.4" y="1048.5"/><use href="#s" x="619.5" y="1009.7"/><use href="#s" x="604.0" y="1045.1"/><use href="#s" x="606.9" y="1020.2"/><use href="#s" x="582.4" y="1054.5"/><use href="#s" x="684.9" y="913.0"/><use href="#s" x="623.1" y="1026.8"/><use href="#s" x="637.9" y="908.9"/><use href="#s" x="642.7" y="912.3"/><use href="#s" x="589.7" y="921.4"/><use href="#s" x="656.5" y="963.3"/><use href="#s" x="630.1" y="998.1"/><use href="#s" x="604.1" y="1025.1"/><use href="#s" x="582.6" y="931.4"/><use href="#s" x="688.6" y="905.7"/><use href="#s" x="657.3" y="889.0"/><use href="#s" x="674.5" y="935.4"/><use href="#s" x="597.2" y="915.7"/><use href="#s" x="688.4" y="886.6"/><use href="#s" x="633.1" y="894.4"/><use href="#s" x="566.4" y="1052.8"/><use href="#s" x="679.1" y="893.7"/><use href="#s" x="648.8" y="962.4"/><use href="#s" x="671.4" y="933.6"/><use href="#s" x="699.7" y="887.2"/><use href="#s" x="607.1" y="1046.4"/><use href="#s" x="597.0" y="909.1"/><use href="#s" x="672.7" y="892.8"/><use href="#s" x="601.8" y="1012.3"/><use href="#s" x="697.5" y="898.1"/><use href="#s" x="655.5" y="911.3"/><use href="#s" x="677.3" y="941.8"/><use href="#s" x="704.8" y="880.7"/><use href="#s" x="581.1" y="1048.9"/><use href="#s" x="581.5" y="919.2"/><use href="#s" x="665.1" y="901.2"/><use href="#s" x="691.7" y="895.1"/><use href="#s" x="678.4" y="888.0"/><use href="#s" x="658.3" y="958.2"/><use href="#s" x="565.9" y="929.8"/><use href="#s" x="665.5" y="889.7"/><use href="#s" x="618.6" y="1005.7"/><use href="#s" x="648.6" y="972.5"/><use href="#s" x="692.8" y="902.6"/><use href="#s" x="560.6" y="1074.1"/><use href="#s" x="578.4" y="1072.7"/><use href="#s" x="558.4" y="1072.7"/><use href="#s" x="494.8" y="999.5"/><use href="#s" x="505.5" y="1000.1"/><use href="#s" x="522.3" y="997.4"/><use href="#s" x="511.1" y="998.6"/><use href="#s" x="525.7" y="999.0"/><use href="#s" x="444.3" y="997.8"/><use href="#s" x="483.7" y="997.9"/><use href="#s" x="516.9" y="996.6"/><use href="#s" x="519.1" y="997.2"/><use href="#s" x="486.2" y="997.1"/><use href="#s" x="519.6" y="994.7"/><use href="#s" x="541.0" y="951.0"/><use href="#s" x="514.0" y="1017.8"/><use href="#s" x="498.1" y="978.2"/><use href="#s" x="501.1" y="1007.5"/><use href="#s" x="546.1" y="953.4"/><use href="#s" x="483.1" y="1041.3"/><use href="#s" x="537.2" y="971.8"/><use href="#s" x="511.9" y="953.6"/><use href="#s" x="411.3" y="977.2"/><use href="#s" x="500.7" y="1023.5"/><use href="#s" x="541.3" y="945.1"/><use href="#s" x="530.2" y="974.6"/><use href="#s" x="508.1" y="964.5"/><use href="#s" x="458.5" y="990.0"/><use href="#s" x="519.5" y="951.2"/><use href="#s" x="532.8" y="1085.5"/><use href="#s" x="458.7" y="969.6"/><use href="#s" x="511.8" y="1025.6"/><use href="#s" x="547.1" y="992.2"/><use href="#s" x="469.8" y="1019.3"/><use href="#s" x="541.9" y="986.1"/><use href="#s" x="517.9" y="1075.8"/><use href="#s" x="525.8" y="953.0"/><use href="#s" x="484.7" y="959.6"/><use href="#s" x="542.1" y="959.1"/><use href="#s" x="495.6" y="1000.4"/><use href="#s" x="508.1" y="980.1"/><use href="#s" x="508.8" y="1072.7"/><use href="#s" x="501.0" y="1044.4"/><use href="#s" x="516.4" y="974.9"/><use href="#s" x="547.7" y="1076.9"/><use href="#s" x="502.4" y="956.9"/><use href="#s" x="511.1" y="1057.2"/><use href="#s" x="525.4" y="986.2"/><use href="#s" x="524.5" y="950.5"/><use href="#s" x="552.7" y="936.2"/><use href="#s" x="560.9" y="957.5"/></g><g stroke="#f8f500"><use href="#s" x="682.1" y="912.8"/><use href="#s" x="592.4" y="1015.2"/><use href="#s" x="580.8" y="972.5"/><use href="#s" x="615.0" y="1007.4"/><use href="#s" x="608.1" y="917.6"/><use href="#s" x="582.0" y="1032.0"/><use href="#s" x="670.3" y="916.7"/><use href="#s" x="637.5" y="922.2"/><use href="#s" x="581.7" y="1007.9"/><use href="#s" x="582.9" y="992.4"/><use href="#s" x="642.0" y="914.1"/><use href="#s" x="622.0" y="918.5"/><use href="#s" x="606.8" y="1029.2"/><use href="#s" x="583.0" y="1020.6"/><use href="#s" x="664.5" y="914.1"/><use href="#s" x="603.2" y="998.8"/><use href="#s" x="642.0" y="969.0"/><use href="#s" x="674.3" y="897.3"/><use href="#s" x="587.4" y="961.6"/><use href="#s" x="657.9" y="958.5"/><use href="#s" x="621.7" y="931.3"/><use href="#s" x="590.8" y="921.2"/><use href="#s" x="598.3" y="938.2"/><use href="#s" x="688.0" y="903.6"/><use href="#s" x="604.5" y="987.1"/><use href="#s" x="578.9" y="1043.5"/><use href="#s" x="582.2" y="1056.9"/><use href="#s" x="610.6" y="945.0"/><use href="#s" x="653.5" y="941.3"/><use href="#s" x="646.1" y="953.2"/><use href="#s" x="667.7" y="922.8"/><use href="#s" x="673.9" y="914.3"/><use href="#s" x="576.5" y="940.3"/><use href="#s" x="631.2" y="981.5"/><use href="#s" x="655.3" y="939.1"/><use href="#s" x="607.3" y="924.0"/><use href="#s" x="635.7" y="975.6"/><use href="#s" x="621.2" y="991.2"/><use href="#s" x="613.4" y="941.9"/><use href="#s" x="586.1" y="1025.8"/><use href="#s" x="664.2" y="925.7"/><use href="#s" x="638.1" y="939.4"/><use href="#s" x="589.7" y="1005.9"/><use href="#s" x="692.9" y="880.2"/><use href="#s" x="580.2" y="962.3"/><use href="#s" x="606.5" y="1012.4"/><use href="#s" x="590.0" y="935.9"/><use href="#s" x="654.7" y="970.5"/><use href="#s" x="603.6" y="1021.2"/><use href="#s" x="614.6" y="991.6"/><use href="#s" x="585.3" y="968.8"/><use href="#s" x="684.7" y="913.9"/><use href="#s" x="655.3" y="926.8"/><use href="#s" x="603.4" y="1005.8"/><use href="#s" x="578.7" y="1041.0"/><use href="#s" x="629.4" y="1004.2"/><use href="#s" x="593.6" y="1000.3"/><use href="#s" x="632.9" y="926.8"/><use href="#s" x="562.0" y="1042.9"/><use href="#s" x="584.2" y="954.4"/><use href="#s" x="582.8" y="932.9"/><use href="#s" x="642.3" y="951.8"/><use href="#s" x="598.1" y="1012.8"/><use href="#s" x="567.5" y="1028.8"/><use href="#s" x="570.4" y="1021.6"/><use href="#s" x="630.2" y="983.8"/><use href="#s" x="683.9" y="900.4"/><use href="#s" x="631.4" y="992.0"/><use href="#s" x="651.7" y="935.4"/><use href="#s" x="661.9" y="944.0"/><use href="#s" x="573.3" y="937.4"/><use href="#s" x="594.0" y="958.3"/><use href="#s" x="648.6" y="953.4"/><use href="#s" x="675.1" y="907.0"/><use href="#s" x="604.7" y="967.6"/><use href="#s" x="588.6" y="948.6"/><use href="#s" x="605.8" y="1029.5"/><use href="#s" x="649.6" y="964.9"/><use href="#s" x="607.6" y="937.4"/><use href="#s" x="599.0" y="1044.0"/><use href="#s" x="581.9" y="947.1"/><use href="#s" x="576.3" y="1019.3"/><use href="#s" x="591.3" y="947.3"/><use href="#s" x="676.5" y="893.1"/><use href="#s" x="604.2" y="941.6"/><use href="#s" x="652.9" y="911.9"/><use href="#s" x="592.6" y="964.1"/><use href="#s" x="646.3" y="923.9"/><use href="#s" x="637.8" y="963.0"/><use href="#s" x="591.2" y="926.0"/><use href="#s" x="608.7" y="1030.7"/><use href="#s" x="554.8" y="1047.4"/><use href="#s" x="592.4" y="997.9"/><use href="#s" x="625.8" y="979.2"/><use href="#s" x="642.3" y="899.9"/><use href="#s" x="688.9" y="896.8"/><use href="#s" x="634.0" y="959.9"/><use href="#s" x="614.5" y="996.7"/><use href="#s" x="646.2" y="959.4"/><use href="#s" x="614.6" y="962.1"/><use href="#s" x="576.1" y="930.1"/><use href="#s" x="620.9" y="1002.8"/><use href="#s" x="644.2" y="936.5"/><use href="#s" x="586.4" y="1019.2"/><use href="#s" x="557.0" y="1057.0"/><use href="#s" x="615.2" y="939.0"/><use href="#s" x="638.7" y="974.1"/><use href="#s" x="632.9" y="971.5"/><use href="#s" x="561.1" y="1038.7"/><use href="#s" x="610.3" y="962.6"/><use href="#s" x="636.3" y="980.7"/><use href="#s" x="570.9" y="1033.5"/><use href="#s" x="577.1" y="1041.7"/><use href="#s" x="563.2" y="1035.2"/><use href="#s" x="533.2" y="1061.2"/><use href="#s" x="552.0" y="1029.8"/><use href="#s" x="573.2" y="984.2"/><use href="#s" x="534.3" y="1055.8"/><use href="#s" x="569.8" y="1015.8"/><use href="#s" x="562.2" y="1002.6"/><use href="#s" x="525.2" y="1002.5"/><use href="#s" x="593.9" y="1000.6"/><use href="#s" x="541.2" y="993.0"/><use href="#s" x="428.8" y="1002.3"/><use href="#s" x="521.8" y="995.3"/><use href="#s" x="563.7" y="993.0"/><use href="#s" x="525.4" y="998.3"/><use href="#s" x="491.7" y="999.4"/><use href="#s" x="568.1" y="1001.8"/><use href="#s" x="490.0" y="997.6"/><use href="#s" x="529.5" y="996.6"/><use href="#s" x="531.8" y="993.0"/><use href="#s" x="514.2" y="1003.0"/><use href="#s" x="521.3" y="998.5"/><use href="#s" x="531.8" y="1000.0"/><use href="#s" x="511.7" y="993.3"/><use href="#s" x="555.1" y="996.7"/><use href="#s" x="525.4" y="1009.7"/><use href="#s" x="535.4" y="1075.4"/><use href="#s" x="527.1" y="967.0"/><use href="#s" x="544.6" y="1024.9"/><use href="#s" x="505.6" y="1032.1"/><use href="#s" x="524.4" y="1078.5"/><use href="#s" x="500.9" y="993.9"/><use href="#s" x="546.2" y="1019.2"/><use href="#s" x="511.7" y="1007.4"/><use href="#s" x="528.9" y="992.6"/><use href="#s" x="534.1" y="964.2"/><use href="#s" x="522.9" y="978.4"/><use href="#s" x="490.0" y="1007.7"/><use href="#s" x="505.4" y="973.1"/><use href="#s" x="533.7" y="981.1"/><use href="#s" x="528.3" y="1043.9"/><use href="#s" x="536.6" y="1063.9"/><use href="#s" x="522.6" y="1061.2"/><use href="#s" x="520.6" y="1015.2"/><use href="#s" x="477.2" y="1003.8"/><use href="#s" x="545.3" y="1087.0"/><use href="#s" x="489.2" y="1033.6"/><use href="#s" x="513.2" y="995.7"/><use href="#s" x="517.2" y="961.5"/><use href="#s" x="487.6" y="1022.8"/><use href="#s" x="543.0" y="979.3"/><use href="#s" x="522.7" y="998.2"/><use href="#s" x="536.9" y="1037.8"/><use href="#s" x="533.2" y="1001.4"/><use href="#s" x="530.5" y="1017.5"/><use href="#s" x="485.1" y="1068.1"/><use href="#s" x="543.2" y="968.8"/><use href="#s" x="541.2" y="957.7"/><use href="#s" x="534.5" y="956.7"/><use href="#s" x="558.9" y="957.3"/><use href="#s" x="557.8" y="967.9"/><use href="#s" x="565.1" y="948.0"/><use href="#s" x="559.3" y="952.9"/><use href="#s" x="570.2" y="952.8"/><use href="#s" x="553.7" y="970.7"/></g><g stroke="#f9fb00"><use href="#s" x="604.8" y="962.3"/><use href="#s" x="596.1" y="1000.6"/><use href="#s" x="620.0" y="993.1"/><use href="#s" x="581.3" y="1020.8"/><use href="#s" x="625.3" y="929.9"/><use href="#s" x="618.4" y="973.7"/><use href="#s" x="615.4" y="944.4"/><use href="#s" x="621.7" y="971.6"/><use href="#s" x="614.4" y="944.7"/><use href="#s" x="626.3" y="963.0"/><use href="#s" x="640.9" y="957.7"/><use href="#s" x="597.1" y="969.3"/><use href="#s" x="599.3" y="987.1"/><use href="#s" x="599.9" y="942.0"/><use href="#s" x="648.8" y="957.1"/><use href="#s" x="591.8" y="954.1"/><use href="#s" x="595.1" y="1013.2"/><use href="#s" x="616.5" y="981.9"/><use href="#s" x="609.1" y="958.0"/><use href="#s" x="617.9" y="951.7"/><use href="#s" x="639.6" y="951.5"/><use href="#s" x="580.0" y="998.7"/><use href="#s" x="618.9" y="939.6"/><use href="#s" x="590.3" y="974.2"/><use href="#s" x="605.2" y="1020.6"/><use href="#s" x="585.0" y="953.8"/><use href="#s" x="642.6" y="933.8"/><use href="#s" x="589.4" y="945.5"/><use href="#s" x="595.2" y="964.4"/><use href="#s" x="566.5" y="1043.2"/><use href="#s" x="584.5" y="1016.5"/><use href="#s" x="587.8" y="950.5"/><use href="#s" x="640.3" y="952.3"/><use href="#s" x="580.9" y="986.2"/><use href="#s" x="600.4" y="1000.7"/><use href="#s" x="610.2" y="949.5"/><use href="#s" x="605.6" y="946.3"/><use href="#s" x="612.1" y="930.5"/><use href="#s" x="607.4" y="983.2"/><use href="#s" x="587.8" y="928.5"/><use href="#s" x="607.0" y="992.5"/><use href="#s" x="664.2" y="917.6"/><use href="#s" x="582.7" y="992.2"/><use href="#s" x="586.3" y="972.1"/><use href="#s" x="610.7" y="957.3"/><use href="#s" x="674.1" y="914.7"/><use href="#s" x="595.3" y="984.1"/><use href="#s" x="590.9" y="949.1"/><use href="#s" x="584.1" y="996.3"/><use href="#s" x="617.8" y="942.4"/><use href="#s" x="604.0" y="960.5"/><use href="#s" x="638.7" y="936.5"/><use href="#s" x="608.8" y="965.9"/><use href="#s" x="654.3" y="924.3"/><use href="#s" x="625.1" y="967.3"/><use href="#s" x="621.9" y="955.3"/><use href="#s" x="582.1" y="1017.6"/><use href="#s" x="648.0" y="926.9"/><use href="#s" x="606.7" y="966.4"/><use href="#s" x="571.8" y="1023.7"/><use href="#s" x="597.6" y="946.5"/><use href="#s" x="621.2" y="987.2"/><use href="#s" x="581.7" y="1029.9"/><use href="#s" x="614.6" y="957.6"/><use href="#s" x="611.0" y="944.1"/><use href="#s" x="604.7" y="968.7"/><use href="#s" x="593.5" y="975.6"/><use href="#s" x="607.6" y="972.6"/><use href="#s" x="600.0" y="958.7"/><use href="#s" x="582.4" y="1002.2"/><use href="#s" x="598.0" y="938.1"/><use href="#s" x="591.1" y="1004.3"/><use href="#s" x="613.5" y="971.7"/><use href="#s" x="640.8" y="941.5"/><use href="#s" x="605.0" y="973.7"/><use href="#s" x="570.3" y="1021.0"/><use href="#s" x="591.0" y="980.3"/><use href="#s" x="654.8" y="928.5"/><use href="#s" x="594.6" y="951.7"/><use href="#s" x="623.3" y="980.9"/><use href="#s" x="600.9" y="946.4"/><use href="#s" x="607.5" y="1006.6"/><use href="#s" x="600.5" y="952.6"/><use href="#s" x="608.7" y="976.6"/><use href="#s" x="616.3" y="954.3"/><use href="#s" x="594.7" y="994.8"/><use href="#s" x="600.9" y="980.8"/><use href="#s" x="632.5" y="934.0"/><use href="#s" x="569.2" y="1020.5"/><use href="#s" x="623.4" y="954.4"/><use href="#s" x="602.6" y="992.9"/><use href="#s" x="573.0" y="1019.6"/><use href="#s" x="599.8" y="968.8"/><use href="#s" x="631.2" y="970.4"/><use href="#s" x="629.0" y="975.7"/><use href="#s" x="614.8" y="953.9"/><use href="#s" x="615.8" y="975.4"/><use href="#s" x="583.1" y="1015.2"/><use href="#s" x="578.9" y="979.1"/><use href="#s" x="552.1" y="1030.3"/><use href="#s" x="562.8" y="1006.2"/><use href="#s" x="562.4" y="1020.1"/><use href="#s" x="560.3" y="1034.5"/><use href="#s" x="590.4" y="996.3"/><use href="#s" x="535.4" y="1000.1"/><use href="#s" x="560.0" y="994.2"/><use href="#s" x="574.8" y="1000.7"/><use href="#s" x="543.8" y="993.0"/><use href="#s" x="589.2" y="997.5"/><use href="#s" x="565.2" y="998.5"/><use href="#s" x="554.7" y="993.7"/><use href="#s" x="540.9" y="996.9"/><use href="#s" x="549.5" y="997.2"/><use href="#s" x="586.1" y="1000.4"/><use href="#s" x="533.1" y="996.9"/><use href="#s" x="587.0" y="996.9"/><use href="#s" x="577.1" y="1000.5"/><use href="#s" x="557.6" y="993.0"/><use href="#s" x="528.0" y="997.4"/><use href="#s" x="580.4" y="1002.8"/><use href="#s" x="586.7" y="996.4"/><use href="#s" x="555.9" y="996.5"/><use href="#s" x="596.6" y="999.0"/><use href="#s" x="594.2" y="996.0"/><use href="#s" x="579.7" y="997.1"/><use href="#s" x="536.5" y="992.1"/><use href="#s" x="528.7" y="1027.5"/><use href="#s" x="538.7" y="1013.4"/><use href="#s" x="537.0" y="1027.9"/><use href="#s" x="533.1" y="1011.0"/><use href="#s" x="521.7" y="1036.4"/><use href="#s" x="543.1" y="999.3"/></g></g>
<line x1="271.3" y1="1312.3" x2="1501.0" y2="82.8" stroke="#000" stroke-width="2.4"/>
<text x="248.2" y="1344.3" font-size="60" fill="#1c1c1c" text-anchor="end">10<tspan font-size="48" dy="-30.3">-2</tspan></text>
<text x="248.2" y="1045.1" font-size="60" fill="#1c1c1c" text-anchor="end">10<tspan font-size="48" dy="-30.3">-1</tspan></text>
<text x="248.2" y="745.9" font-size="60" fill="#1c1c1c" text-anchor="end">10<tspan font-size="48" dy="-30.3">0</tspan></text>
<text x="248.2" y="446.7" font-size="60" fill="#1c1c1c" text-anchor="end">10<tspan font-size="48" dy="-30.3">1</tspan></text>
<text x="248.2" y="147.5" font-size="60" fill="#1c1c1c" text-anchor="end">10<tspan font-size="48" dy="-30.3">2</tspan></text>
<text x="271.3" y="1409.5" font-size="60" fill="#1c1c1c" text-anchor="middle">10<tspan font-size="48" dy="-30.3">-2</tspan></text>
<text x="869.7" y="1409.5" font-size="60" fill="#1c1c1c" text-anchor="middle">10<tspan font-size="48" dy="-30.3">0</tspan></text>
<text x="1468.1" y="1409.5" font-size="60" fill="#1c1c1c" text-anchor="middle">10<tspan font-size="48" dy="-30.3">2</tspan></text>
<text x="885.5" y="68.6" font-size="60.75" fill="#000" text-anchor="middle">NCA trained by 6013 CoRE-MOFs</text>
<text x="430.6" y="252.5" font-size="60" fill="#000"><tspan font-style="italic">R</tspan><tspan font-size="48" dy="-30">2</tspan><tspan dy="30">=0.97</tspan></text>
<text x="541.3" y="1483.2" font-size="60.6" fill="#1c1c1c">Simulated log<tspan font-size="48.5" dy="29">10</tspan><tspan font-size="60.6" dy="-29" font-style="italic">S</tspan><tspan font-size="48.5" dy="29">H</tspan><tspan font-size="38.8" dy="29.6">2</tspan><tspan font-size="48.5" dy="-29.6">O/(O</tspan><tspan font-size="38.8" dy="29.6">2</tspan><tspan font-size="48.5" dy="-29.6">+N</tspan><tspan font-size="38.8" dy="29.6">2</tspan><tspan font-size="48.5" dy="-29.6">)</tspan></text>
<text transform="translate(65.4 1036) rotate(-90)" font-size="60.6" fill="#1c1c1c">Predicted log<tspan font-size="48.5" dy="29">10</tspan><tspan font-size="60.6" dy="-29" font-style="italic">S</tspan><tspan font-size="48.5" dy="29">H</tspan><tspan font-size="38.8" dy="29.6">2</tspan><tspan font-size="48.5" dy="-29.6">O/(O</tspan><tspan font-size="38.8" dy="29.6">2</tspan><tspan font-size="48.5" dy="-29.6">+N</tspan><tspan font-size="38.8" dy="29.6">2</tspan><tspan font-size="48.5" dy="-29.6">)</tspan></text>
<text x="810.7" y="1638.5" font-size="90" fill="#000">(</text>
<text x="838.5" y="1637.5" font-size="84" font-weight="bold" fill="#000">a</text>
<text x="879.3" y="1638.5" font-size="90" fill="#000">)</text>
</svg></body></html>
